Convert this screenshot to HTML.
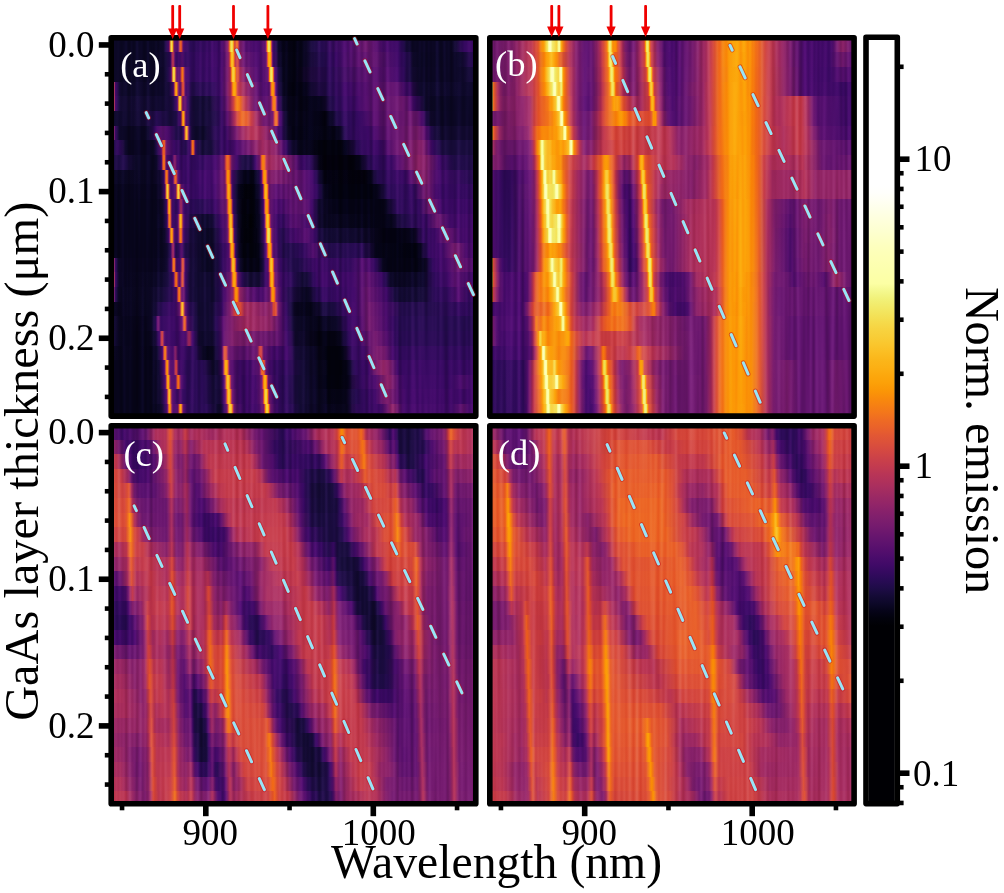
<!DOCTYPE html><html><head><meta charset="utf-8"><title>Figure</title><style>html,body{margin:0;padding:0;background:#fff;overflow:hidden}svg{display:block}</style></head><body><svg width="1004" height="893" viewBox="0 0 1004 893"><defs><linearGradient id="g1"><stop offset="0.0014" stop-color="#0a0722"/><stop offset="0.1125" stop-color="#0a0722"/><stop offset="0.1347" stop-color="#0c0826"/><stop offset="0.1431" stop-color="#120a32"/><stop offset="0.1486" stop-color="#1f0c48"/><stop offset="0.1569" stop-color="#4c0c6b"/><stop offset="0.1597" stop-color="#bc3754"/><stop offset="0.1625" stop-color="#f8cf3a"/><stop offset="0.1653" stop-color="#f3e55d"/><stop offset="0.1681" stop-color="#fb9d07"/><stop offset="0.1708" stop-color="#801f6c"/><stop offset="0.1736" stop-color="#59106e"/><stop offset="0.1819" stop-color="#520e6d"/><stop offset="0.1847" stop-color="#85216b"/><stop offset="0.1875" stop-color="#e65d2f"/><stop offset="0.1903" stop-color="#ee6a24"/><stop offset="0.1931" stop-color="#cf4446"/><stop offset="0.1958" stop-color="#5d126e"/><stop offset="0.1986" stop-color="#440a68"/><stop offset="0.2153" stop-color="#2b0b57"/><stop offset="0.2958" stop-color="#3b0964"/><stop offset="0.3069" stop-color="#520e6d"/><stop offset="0.3181" stop-color="#7f1e6c"/><stop offset="0.3208" stop-color="#a02a63"/><stop offset="0.3236" stop-color="#eb6628"/><stop offset="0.3264" stop-color="#f9c932"/><stop offset="0.3292" stop-color="#f3e55d"/><stop offset="0.3319" stop-color="#f4e156"/><stop offset="0.3347" stop-color="#fcac11"/><stop offset="0.3375" stop-color="#db503b"/><stop offset="0.3403" stop-color="#d84c3e"/><stop offset="0.3431" stop-color="#ed6925"/><stop offset="0.3458" stop-color="#ed6925"/><stop offset="0.3486" stop-color="#cf4446"/><stop offset="0.3514" stop-color="#902568"/><stop offset="0.3542" stop-color="#7d1e6d"/><stop offset="0.3681" stop-color="#540f6d"/><stop offset="0.3931" stop-color="#440a68"/><stop offset="0.4069" stop-color="#450a69"/><stop offset="0.4208" stop-color="#5d126e"/><stop offset="0.4236" stop-color="#6f196e"/><stop offset="0.4264" stop-color="#ca404a"/><stop offset="0.4292" stop-color="#fcb418"/><stop offset="0.4319" stop-color="#f3e55d"/><stop offset="0.4347" stop-color="#f3e55d"/><stop offset="0.4375" stop-color="#fcb216"/><stop offset="0.4403" stop-color="#bc3754"/><stop offset="0.4431" stop-color="#550f6d"/><stop offset="0.4458" stop-color="#3d0965"/><stop offset="0.4542" stop-color="#1b0c41"/><stop offset="0.4597" stop-color="#0d0829"/><stop offset="0.4681" stop-color="#060419"/><stop offset="0.5042" stop-color="#030210"/><stop offset="0.5292" stop-color="#09061f"/><stop offset="0.5542" stop-color="#1b0c41"/><stop offset="0.5819" stop-color="#290b55"/><stop offset="0.6486" stop-color="#4a0c6b"/><stop offset="0.7014" stop-color="#6c186e"/><stop offset="0.7458" stop-color="#4a0c6b"/><stop offset="0.7903" stop-color="#380962"/><stop offset="0.7986" stop-color="#2d0b59"/><stop offset="0.8125" stop-color="#150b37"/><stop offset="0.8292" stop-color="#0b0724"/><stop offset="0.9347" stop-color="#0b0724"/><stop offset="0.9486" stop-color="#140b34"/><stop offset="0.9708" stop-color="#360961"/><stop offset="0.9986" stop-color="#3b0964"/></linearGradient><linearGradient id="g2"><stop offset="0.0014" stop-color="#0a0722"/><stop offset="0.1153" stop-color="#0a0722"/><stop offset="0.1486" stop-color="#120a32"/><stop offset="0.1597" stop-color="#290b55"/><stop offset="0.1625" stop-color="#400a67"/><stop offset="0.1653" stop-color="#9a2865"/><stop offset="0.1681" stop-color="#bd3853"/><stop offset="0.1708" stop-color="#a92e5e"/><stop offset="0.1736" stop-color="#520e6d"/><stop offset="0.1764" stop-color="#360961"/><stop offset="0.1875" stop-color="#380962"/><stop offset="0.1903" stop-color="#510e6c"/><stop offset="0.1931" stop-color="#59106e"/><stop offset="0.2014" stop-color="#320a5e"/><stop offset="0.2097" stop-color="#2f0a5b"/><stop offset="0.2986" stop-color="#3d0965"/><stop offset="0.3097" stop-color="#550f6d"/><stop offset="0.3208" stop-color="#82206c"/><stop offset="0.3236" stop-color="#b1325a"/><stop offset="0.3264" stop-color="#f3761b"/><stop offset="0.3292" stop-color="#fbba1f"/><stop offset="0.3319" stop-color="#fac228"/><stop offset="0.3347" stop-color="#fcb418"/><stop offset="0.3375" stop-color="#ec6726"/><stop offset="0.3403" stop-color="#bd3853"/><stop offset="0.3458" stop-color="#d34743"/><stop offset="0.3486" stop-color="#ca404a"/><stop offset="0.3514" stop-color="#9d2964"/><stop offset="0.3542" stop-color="#85216b"/><stop offset="0.3653" stop-color="#65156e"/><stop offset="0.3986" stop-color="#4a0c6b"/><stop offset="0.4125" stop-color="#4c0c6b"/><stop offset="0.4236" stop-color="#5c126e"/><stop offset="0.4264" stop-color="#7c1d6d"/><stop offset="0.4292" stop-color="#de5238"/><stop offset="0.4319" stop-color="#fc9f07"/><stop offset="0.4347" stop-color="#fcae12"/><stop offset="0.4375" stop-color="#fb9d07"/><stop offset="0.4403" stop-color="#d94d3d"/><stop offset="0.4431" stop-color="#65156e"/><stop offset="0.4458" stop-color="#3d0965"/><stop offset="0.4597" stop-color="#10092d"/><stop offset="0.4708" stop-color="#07051b"/><stop offset="0.5042" stop-color="#040312"/><stop offset="0.5292" stop-color="#09061f"/><stop offset="0.5819" stop-color="#240c4f"/><stop offset="0.6153" stop-color="#360961"/><stop offset="0.6819" stop-color="#5d126e"/><stop offset="0.7153" stop-color="#64156e"/><stop offset="0.7931" stop-color="#390963"/><stop offset="0.8097" stop-color="#280b53"/><stop offset="0.8319" stop-color="#0e092b"/><stop offset="0.8542" stop-color="#0a0722"/><stop offset="0.9486" stop-color="#0b0724"/><stop offset="0.9625" stop-color="#0e092b"/><stop offset="0.9986" stop-color="#2b0b57"/></linearGradient><linearGradient id="g3"><stop offset="0.0014" stop-color="#0a0722"/><stop offset="0.1319" stop-color="#0b0724"/><stop offset="0.1486" stop-color="#120a32"/><stop offset="0.1542" stop-color="#1f0c48"/><stop offset="0.1625" stop-color="#4a0c6b"/><stop offset="0.1653" stop-color="#972766"/><stop offset="0.1681" stop-color="#fbbc21"/><stop offset="0.1708" stop-color="#f2e661"/><stop offset="0.1736" stop-color="#fbbc21"/><stop offset="0.1764" stop-color="#a52c60"/><stop offset="0.1792" stop-color="#64156e"/><stop offset="0.1875" stop-color="#62146e"/><stop offset="0.1903" stop-color="#c03a51"/><stop offset="0.1931" stop-color="#f57b17"/><stop offset="0.1958" stop-color="#f57b17"/><stop offset="0.1986" stop-color="#bd3853"/><stop offset="0.2014" stop-color="#5a116e"/><stop offset="0.2069" stop-color="#400a67"/><stop offset="0.2181" stop-color="#310a5c"/><stop offset="0.2931" stop-color="#390963"/><stop offset="0.3042" stop-color="#490b6a"/><stop offset="0.3181" stop-color="#771c6d"/><stop offset="0.3236" stop-color="#972766"/><stop offset="0.3264" stop-color="#bc3754"/><stop offset="0.3292" stop-color="#f37819"/><stop offset="0.3319" stop-color="#fac62d"/><stop offset="0.3347" stop-color="#f7d340"/><stop offset="0.3375" stop-color="#f9cb35"/><stop offset="0.3403" stop-color="#fa9008"/><stop offset="0.3431" stop-color="#e05536"/><stop offset="0.3486" stop-color="#dd513a"/><stop offset="0.3514" stop-color="#bd3853"/><stop offset="0.3542" stop-color="#a82e5f"/><stop offset="0.3681" stop-color="#771c6d"/><stop offset="0.3958" stop-color="#540f6d"/><stop offset="0.4125" stop-color="#4a0c6b"/><stop offset="0.4264" stop-color="#5d126e"/><stop offset="0.4292" stop-color="#67166e"/><stop offset="0.4319" stop-color="#a52c60"/><stop offset="0.4347" stop-color="#fa9008"/><stop offset="0.4375" stop-color="#f4dd4f"/><stop offset="0.4403" stop-color="#f2e661"/><stop offset="0.4431" stop-color="#f9c932"/><stop offset="0.4458" stop-color="#e05536"/><stop offset="0.4486" stop-color="#65156e"/><stop offset="0.4514" stop-color="#3e0966"/><stop offset="0.4569" stop-color="#260c51"/><stop offset="0.4653" stop-color="#0e092b"/><stop offset="0.4736" stop-color="#07051b"/><stop offset="0.5069" stop-color="#040312"/><stop offset="0.6042" stop-color="#2d0b59"/><stop offset="0.7014" stop-color="#5a116e"/><stop offset="0.7569" stop-color="#540f6d"/><stop offset="0.7903" stop-color="#400a67"/><stop offset="0.8042" stop-color="#310a5c"/><stop offset="0.8236" stop-color="#160b39"/><stop offset="0.8514" stop-color="#0b0724"/><stop offset="0.9569" stop-color="#0b0724"/><stop offset="0.9986" stop-color="#180c3c"/></linearGradient><linearGradient id="g4"><stop offset="0.0014" stop-color="#fac026"/><stop offset="0.0042" stop-color="#fcb216"/><stop offset="0.0069" stop-color="#ad305d"/><stop offset="0.0097" stop-color="#3b0964"/><stop offset="0.0208" stop-color="#120a32"/><stop offset="0.0292" stop-color="#0c0826"/><stop offset="0.1375" stop-color="#0d0829"/><stop offset="0.1569" stop-color="#180c3c"/><stop offset="0.1681" stop-color="#3d0965"/><stop offset="0.1708" stop-color="#5d126e"/><stop offset="0.1736" stop-color="#e65d2f"/><stop offset="0.1764" stop-color="#fcae12"/><stop offset="0.1792" stop-color="#fc9f07"/><stop offset="0.1819" stop-color="#b63458"/><stop offset="0.1847" stop-color="#61136e"/><stop offset="0.1875" stop-color="#5c126e"/><stop offset="0.1903" stop-color="#721a6e"/><stop offset="0.1931" stop-color="#d04545"/><stop offset="0.1958" stop-color="#e25734"/><stop offset="0.1986" stop-color="#cf4446"/><stop offset="0.2014" stop-color="#62146e"/><stop offset="0.2042" stop-color="#3e0966"/><stop offset="0.2208" stop-color="#230c4c"/><stop offset="0.2819" stop-color="#2d0b59"/><stop offset="0.3014" stop-color="#400a67"/><stop offset="0.3153" stop-color="#6f196e"/><stop offset="0.3264" stop-color="#ab2f5e"/><stop offset="0.3292" stop-color="#c83f4b"/><stop offset="0.3319" stop-color="#f1711f"/><stop offset="0.3347" stop-color="#fca50a"/><stop offset="0.3375" stop-color="#fcae12"/><stop offset="0.3403" stop-color="#fca50a"/><stop offset="0.3431" stop-color="#f2741c"/><stop offset="0.3458" stop-color="#d54a41"/><stop offset="0.3486" stop-color="#c33b4f"/><stop offset="0.3736" stop-color="#8c2369"/><stop offset="0.4014" stop-color="#5d126e"/><stop offset="0.4153" stop-color="#4f0d6c"/><stop offset="0.4292" stop-color="#520e6d"/><stop offset="0.4319" stop-color="#550f6d"/><stop offset="0.4347" stop-color="#69166e"/><stop offset="0.4375" stop-color="#bf3952"/><stop offset="0.4403" stop-color="#f67e14"/><stop offset="0.4431" stop-color="#fb9706"/><stop offset="0.4458" stop-color="#f98e09"/><stop offset="0.4486" stop-color="#dd513a"/><stop offset="0.4514" stop-color="#6a176e"/><stop offset="0.4542" stop-color="#390963"/><stop offset="0.4653" stop-color="#120a32"/><stop offset="0.4764" stop-color="#07051b"/><stop offset="0.4986" stop-color="#030210"/><stop offset="0.5347" stop-color="#060419"/><stop offset="0.6014" stop-color="#280b53"/><stop offset="0.6486" stop-color="#3d0965"/><stop offset="0.7181" stop-color="#59106e"/><stop offset="0.7736" stop-color="#61136e"/><stop offset="0.7903" stop-color="#5c126e"/><stop offset="0.8125" stop-color="#3d0965"/><stop offset="0.8486" stop-color="#0e092b"/><stop offset="0.9986" stop-color="#0d0829"/></linearGradient><linearGradient id="g5"><stop offset="0.0014" stop-color="#fac026"/><stop offset="0.0042" stop-color="#fcb418"/><stop offset="0.0069" stop-color="#b1325a"/><stop offset="0.0097" stop-color="#400a67"/><stop offset="0.0181" stop-color="#1e0c45"/><stop offset="0.0236" stop-color="#140b34"/><stop offset="0.0319" stop-color="#10092d"/><stop offset="0.1403" stop-color="#120a32"/><stop offset="0.1653" stop-color="#1b0c41"/><stop offset="0.1708" stop-color="#260c51"/><stop offset="0.1792" stop-color="#4a0c6b"/><stop offset="0.1819" stop-color="#751b6e"/><stop offset="0.1847" stop-color="#f98c0a"/><stop offset="0.1875" stop-color="#f7d340"/><stop offset="0.1903" stop-color="#fac026"/><stop offset="0.1931" stop-color="#b93556"/><stop offset="0.1958" stop-color="#5f136e"/><stop offset="0.2014" stop-color="#6d186e"/><stop offset="0.2042" stop-color="#64156e"/><stop offset="0.2069" stop-color="#3e0966"/><stop offset="0.2097" stop-color="#2d0b59"/><stop offset="0.2236" stop-color="#160b39"/><stop offset="0.2347" stop-color="#110a30"/><stop offset="0.2681" stop-color="#140b34"/><stop offset="0.3014" stop-color="#340a5f"/><stop offset="0.3153" stop-color="#62146e"/><stop offset="0.3236" stop-color="#8f2469"/><stop offset="0.3347" stop-color="#cb4149"/><stop offset="0.3403" stop-color="#ee6a24"/><stop offset="0.3458" stop-color="#f68013"/><stop offset="0.3514" stop-color="#f57b17"/><stop offset="0.3625" stop-color="#cf4446"/><stop offset="0.3792" stop-color="#9a2865"/><stop offset="0.3931" stop-color="#6f196e"/><stop offset="0.4153" stop-color="#59106e"/><stop offset="0.4264" stop-color="#5d126e"/><stop offset="0.4375" stop-color="#6f196e"/><stop offset="0.4403" stop-color="#a52c60"/><stop offset="0.4431" stop-color="#e75e2e"/><stop offset="0.4458" stop-color="#f67e14"/><stop offset="0.4486" stop-color="#f67e14"/><stop offset="0.4514" stop-color="#e55c30"/><stop offset="0.4542" stop-color="#902568"/><stop offset="0.4569" stop-color="#4d0d6c"/><stop offset="0.4597" stop-color="#390963"/><stop offset="0.4708" stop-color="#140b34"/><stop offset="0.4819" stop-color="#08051d"/><stop offset="0.5292" stop-color="#040312"/><stop offset="0.5764" stop-color="#060419"/><stop offset="0.6042" stop-color="#210c4a"/><stop offset="0.6236" stop-color="#2f0a5b"/><stop offset="0.6736" stop-color="#400a67"/><stop offset="0.7014" stop-color="#550f6d"/><stop offset="0.7986" stop-color="#6d186e"/><stop offset="0.8153" stop-color="#61136e"/><stop offset="0.8347" stop-color="#3d0965"/><stop offset="0.8625" stop-color="#0e092b"/><stop offset="0.8903" stop-color="#0a0722"/><stop offset="0.9986" stop-color="#0b0724"/></linearGradient><linearGradient id="g6"><stop offset="0.0014" stop-color="#0e092b"/><stop offset="0.0819" stop-color="#10092d"/><stop offset="0.1236" stop-color="#260c51"/><stop offset="0.1597" stop-color="#180c3c"/><stop offset="0.1764" stop-color="#1c0c43"/><stop offset="0.1875" stop-color="#3d0965"/><stop offset="0.1903" stop-color="#5a116e"/><stop offset="0.1931" stop-color="#e55c30"/><stop offset="0.1958" stop-color="#fcae12"/><stop offset="0.1986" stop-color="#fc9f07"/><stop offset="0.2014" stop-color="#ad305d"/><stop offset="0.2042" stop-color="#490b6a"/><stop offset="0.2153" stop-color="#1f0c48"/><stop offset="0.2319" stop-color="#120a32"/><stop offset="0.2569" stop-color="#120a32"/><stop offset="0.2847" stop-color="#1e0c45"/><stop offset="0.3042" stop-color="#340a5f"/><stop offset="0.3181" stop-color="#5a116e"/><stop offset="0.3292" stop-color="#84206b"/><stop offset="0.3403" stop-color="#b93556"/><stop offset="0.3458" stop-color="#d84c3e"/><stop offset="0.3569" stop-color="#ee6a24"/><stop offset="0.3736" stop-color="#e65d2f"/><stop offset="0.3847" stop-color="#ca404a"/><stop offset="0.3986" stop-color="#a32c61"/><stop offset="0.4181" stop-color="#6f196e"/><stop offset="0.4403" stop-color="#6a176e"/><stop offset="0.4431" stop-color="#71196e"/><stop offset="0.4458" stop-color="#9f2a63"/><stop offset="0.4486" stop-color="#de5238"/><stop offset="0.4514" stop-color="#ed6925"/><stop offset="0.4542" stop-color="#ed6925"/><stop offset="0.4569" stop-color="#db503b"/><stop offset="0.4597" stop-color="#8d2369"/><stop offset="0.4625" stop-color="#540f6d"/><stop offset="0.4653" stop-color="#420a68"/><stop offset="0.4792" stop-color="#110a30"/><stop offset="0.4903" stop-color="#07051b"/><stop offset="0.5875" stop-color="#030210"/><stop offset="0.6069" stop-color="#0d0829"/><stop offset="0.6236" stop-color="#240c4f"/><stop offset="0.6347" stop-color="#2b0b57"/><stop offset="0.6847" stop-color="#360961"/><stop offset="0.7236" stop-color="#59106e"/><stop offset="0.8264" stop-color="#6d186e"/><stop offset="0.8431" stop-color="#65156e"/><stop offset="0.8542" stop-color="#4c0c6b"/><stop offset="0.8681" stop-color="#210c4a"/><stop offset="0.8792" stop-color="#10092d"/><stop offset="0.8958" stop-color="#0b0724"/><stop offset="0.9986" stop-color="#0b0724"/></linearGradient><linearGradient id="g7"><stop offset="0.0014" stop-color="#ed6925"/><stop offset="0.0042" stop-color="#e8602d"/><stop offset="0.0069" stop-color="#7a1d6d"/><stop offset="0.0097" stop-color="#310a5c"/><stop offset="0.0208" stop-color="#0e092b"/><stop offset="0.0319" stop-color="#09061f"/><stop offset="0.0847" stop-color="#09061f"/><stop offset="0.1014" stop-color="#0e092b"/><stop offset="0.1181" stop-color="#360961"/><stop offset="0.1264" stop-color="#4d0d6c"/><stop offset="0.1375" stop-color="#5a116e"/><stop offset="0.1597" stop-color="#470b6a"/><stop offset="0.1764" stop-color="#210c4a"/><stop offset="0.1875" stop-color="#1f0c48"/><stop offset="0.1931" stop-color="#2b0b57"/><stop offset="0.1986" stop-color="#490b6a"/><stop offset="0.2014" stop-color="#d54a41"/><stop offset="0.2042" stop-color="#fbbc21"/><stop offset="0.2069" stop-color="#fbbc21"/><stop offset="0.2097" stop-color="#d44842"/><stop offset="0.2125" stop-color="#440a68"/><stop offset="0.2208" stop-color="#190c3e"/><stop offset="0.2319" stop-color="#0c0826"/><stop offset="0.2569" stop-color="#0c0826"/><stop offset="0.2875" stop-color="#280b53"/><stop offset="0.3125" stop-color="#390963"/><stop offset="0.3403" stop-color="#6f196e"/><stop offset="0.3569" stop-color="#9a2865"/><stop offset="0.3819" stop-color="#b73557"/><stop offset="0.3986" stop-color="#b43359"/><stop offset="0.4181" stop-color="#9d2964"/><stop offset="0.4347" stop-color="#82206c"/><stop offset="0.4542" stop-color="#510e6c"/><stop offset="0.4653" stop-color="#320a5e"/><stop offset="0.4819" stop-color="#10092d"/><stop offset="0.4986" stop-color="#050417"/><stop offset="0.6153" stop-color="#040312"/><stop offset="0.6264" stop-color="#0a0722"/><stop offset="0.6431" stop-color="#240c4f"/><stop offset="0.6569" stop-color="#310a5c"/><stop offset="0.7069" stop-color="#3b0964"/><stop offset="0.7403" stop-color="#550f6d"/><stop offset="0.8431" stop-color="#7a1d6d"/><stop offset="0.8569" stop-color="#6d186e"/><stop offset="0.8681" stop-color="#4c0c6b"/><stop offset="0.8819" stop-color="#240c4f"/><stop offset="0.8931" stop-color="#150b37"/><stop offset="0.9069" stop-color="#10092d"/><stop offset="0.9986" stop-color="#10092d"/></linearGradient><linearGradient id="g8"><stop offset="0.0014" stop-color="#1f0c48"/><stop offset="0.0181" stop-color="#310a5c"/><stop offset="0.0375" stop-color="#0d0829"/><stop offset="0.0514" stop-color="#08051d"/><stop offset="0.1014" stop-color="#08051d"/><stop offset="0.1153" stop-color="#0e092b"/><stop offset="0.1236" stop-color="#230c4c"/><stop offset="0.1347" stop-color="#520e6d"/><stop offset="0.1375" stop-color="#7c1d6d"/><stop offset="0.1403" stop-color="#e05536"/><stop offset="0.1431" stop-color="#ee6a24"/><stop offset="0.1458" stop-color="#e05536"/><stop offset="0.1486" stop-color="#87216b"/><stop offset="0.1514" stop-color="#62146e"/><stop offset="0.1708" stop-color="#3b0964"/><stop offset="0.2042" stop-color="#230c4c"/><stop offset="0.2153" stop-color="#3b0964"/><stop offset="0.2181" stop-color="#7d1e6d"/><stop offset="0.2208" stop-color="#ef6c23"/><stop offset="0.2236" stop-color="#f68013"/><stop offset="0.2264" stop-color="#d84c3e"/><stop offset="0.2292" stop-color="#4f0d6c"/><stop offset="0.2319" stop-color="#310a5c"/><stop offset="0.2375" stop-color="#1f0c48"/><stop offset="0.2486" stop-color="#120a32"/><stop offset="0.2736" stop-color="#150b37"/><stop offset="0.3014" stop-color="#310a5c"/><stop offset="0.3153" stop-color="#3b0964"/><stop offset="0.3431" stop-color="#470b6a"/><stop offset="0.3792" stop-color="#741a6e"/><stop offset="0.4153" stop-color="#a22b62"/><stop offset="0.4514" stop-color="#8d2369"/><stop offset="0.4736" stop-color="#4d0d6c"/><stop offset="0.4847" stop-color="#2d0b59"/><stop offset="0.4958" stop-color="#150b37"/><stop offset="0.5125" stop-color="#09061f"/><stop offset="0.5708" stop-color="#02020c"/><stop offset="0.6236" stop-color="#02020c"/><stop offset="0.6458" stop-color="#050417"/><stop offset="0.6764" stop-color="#280b53"/><stop offset="0.6931" stop-color="#340a5f"/><stop offset="0.7431" stop-color="#3e0966"/><stop offset="0.7847" stop-color="#69166e"/><stop offset="0.8458" stop-color="#87216b"/><stop offset="0.8569" stop-color="#84206b"/><stop offset="0.8736" stop-color="#59106e"/><stop offset="0.8847" stop-color="#380962"/><stop offset="0.8986" stop-color="#230c4c"/><stop offset="0.9208" stop-color="#180c3c"/><stop offset="0.9986" stop-color="#180c3c"/></linearGradient><linearGradient id="g9"><stop offset="0.0014" stop-color="#1b0c41"/><stop offset="0.0347" stop-color="#1f0c48"/><stop offset="0.0653" stop-color="#0a0722"/><stop offset="0.1153" stop-color="#0a0722"/><stop offset="0.1236" stop-color="#0e092b"/><stop offset="0.1347" stop-color="#310a5c"/><stop offset="0.1375" stop-color="#57106e"/><stop offset="0.1403" stop-color="#e05536"/><stop offset="0.1431" stop-color="#f68013"/><stop offset="0.1458" stop-color="#eb6628"/><stop offset="0.1486" stop-color="#771c6d"/><stop offset="0.1514" stop-color="#440a68"/><stop offset="0.1597" stop-color="#380962"/><stop offset="0.1653" stop-color="#3b0964"/><stop offset="0.1681" stop-color="#4a0c6b"/><stop offset="0.1708" stop-color="#771c6d"/><stop offset="0.1736" stop-color="#88226a"/><stop offset="0.1764" stop-color="#781c6d"/><stop offset="0.1792" stop-color="#4c0c6b"/><stop offset="0.1847" stop-color="#390963"/><stop offset="0.2458" stop-color="#2f0a5b"/><stop offset="0.2875" stop-color="#400a67"/><stop offset="0.3069" stop-color="#64156e"/><stop offset="0.3097" stop-color="#7d1e6d"/><stop offset="0.3125" stop-color="#bc3754"/><stop offset="0.3153" stop-color="#e55c30"/><stop offset="0.3181" stop-color="#ee6a24"/><stop offset="0.3208" stop-color="#ee6a24"/><stop offset="0.3236" stop-color="#e55c30"/><stop offset="0.3264" stop-color="#bf3952"/><stop offset="0.3292" stop-color="#84206b"/><stop offset="0.3319" stop-color="#69166e"/><stop offset="0.3431" stop-color="#3d0965"/><stop offset="0.3597" stop-color="#190c3e"/><stop offset="0.3819" stop-color="#1b0c41"/><stop offset="0.3958" stop-color="#360961"/><stop offset="0.4069" stop-color="#71196e"/><stop offset="0.4097" stop-color="#a52c60"/><stop offset="0.4125" stop-color="#e55c30"/><stop offset="0.4153" stop-color="#f57d15"/><stop offset="0.4181" stop-color="#f68013"/><stop offset="0.4208" stop-color="#f06f20"/><stop offset="0.4236" stop-color="#d54a41"/><stop offset="0.4264" stop-color="#b3325a"/><stop offset="0.4292" stop-color="#a92e5e"/><stop offset="0.4736" stop-color="#8d2369"/><stop offset="0.5014" stop-color="#65156e"/><stop offset="0.5208" stop-color="#3e0966"/><stop offset="0.5458" stop-color="#2b0b57"/><stop offset="0.5736" stop-color="#040312"/><stop offset="0.5847" stop-color="#02010a"/><stop offset="0.6597" stop-color="#02010a"/><stop offset="0.6847" stop-color="#060419"/><stop offset="0.7097" stop-color="#280b53"/><stop offset="0.7181" stop-color="#2f0a5b"/><stop offset="0.7708" stop-color="#390963"/><stop offset="0.7958" stop-color="#5d126e"/><stop offset="0.8458" stop-color="#902568"/><stop offset="0.8653" stop-color="#87216b"/><stop offset="0.9014" stop-color="#3d0965"/><stop offset="0.9431" stop-color="#210c4a"/><stop offset="0.9986" stop-color="#1e0c45"/></linearGradient><linearGradient id="g10"><stop offset="0.0014" stop-color="#0a0722"/><stop offset="0.1097" stop-color="#09061f"/><stop offset="0.1319" stop-color="#10092d"/><stop offset="0.1431" stop-color="#320a5e"/><stop offset="0.1458" stop-color="#781c6d"/><stop offset="0.1486" stop-color="#ef6c23"/><stop offset="0.1514" stop-color="#f68013"/><stop offset="0.1542" stop-color="#d94d3d"/><stop offset="0.1569" stop-color="#5c126e"/><stop offset="0.1597" stop-color="#440a68"/><stop offset="0.1681" stop-color="#4d0d6c"/><stop offset="0.1708" stop-color="#902568"/><stop offset="0.1736" stop-color="#e9612b"/><stop offset="0.1764" stop-color="#ee6a24"/><stop offset="0.1792" stop-color="#c63d4d"/><stop offset="0.1819" stop-color="#5d126e"/><stop offset="0.1847" stop-color="#490b6a"/><stop offset="0.1958" stop-color="#380962"/><stop offset="0.2069" stop-color="#360961"/><stop offset="0.2736" stop-color="#3e0966"/><stop offset="0.2903" stop-color="#4d0d6c"/><stop offset="0.3097" stop-color="#721a6e"/><stop offset="0.3125" stop-color="#8f2469"/><stop offset="0.3153" stop-color="#db503b"/><stop offset="0.3181" stop-color="#f8890c"/><stop offset="0.3208" stop-color="#fb9706"/><stop offset="0.3236" stop-color="#f8890c"/><stop offset="0.3264" stop-color="#d44842"/><stop offset="0.3292" stop-color="#6c186e"/><stop offset="0.3319" stop-color="#450a69"/><stop offset="0.3458" stop-color="#140b34"/><stop offset="0.3625" stop-color="#040314"/><stop offset="0.3903" stop-color="#040314"/><stop offset="0.3986" stop-color="#0c0826"/><stop offset="0.4042" stop-color="#1c0c43"/><stop offset="0.4097" stop-color="#380962"/><stop offset="0.4125" stop-color="#5d126e"/><stop offset="0.4153" stop-color="#c73e4c"/><stop offset="0.4181" stop-color="#f78410"/><stop offset="0.4208" stop-color="#fb9706"/><stop offset="0.4236" stop-color="#f98c0a"/><stop offset="0.4264" stop-color="#e35933"/><stop offset="0.4292" stop-color="#a32c61"/><stop offset="0.4319" stop-color="#87216b"/><stop offset="0.5292" stop-color="#59106e"/><stop offset="0.5514" stop-color="#420a68"/><stop offset="0.5625" stop-color="#2d0b59"/><stop offset="0.5764" stop-color="#0c0826"/><stop offset="0.5875" stop-color="#030210"/><stop offset="0.6958" stop-color="#02010a"/><stop offset="0.7125" stop-color="#050417"/><stop offset="0.7319" stop-color="#230c4c"/><stop offset="0.7403" stop-color="#2d0b59"/><stop offset="0.8097" stop-color="#390963"/><stop offset="0.8319" stop-color="#61136e"/><stop offset="0.8542" stop-color="#88226a"/><stop offset="0.8653" stop-color="#82206c"/><stop offset="0.8903" stop-color="#510e6c"/><stop offset="0.9042" stop-color="#400a67"/><stop offset="0.9986" stop-color="#260c51"/></linearGradient><linearGradient id="g11"><stop offset="0.0014" stop-color="#07051b"/><stop offset="0.1208" stop-color="#08051d"/><stop offset="0.1347" stop-color="#10092d"/><stop offset="0.1458" stop-color="#400a67"/><stop offset="0.1486" stop-color="#bd3853"/><stop offset="0.1514" stop-color="#fac42a"/><stop offset="0.1542" stop-color="#f7d340"/><stop offset="0.1569" stop-color="#f37819"/><stop offset="0.1597" stop-color="#69166e"/><stop offset="0.1625" stop-color="#4a0c6b"/><stop offset="0.1708" stop-color="#4a0c6b"/><stop offset="0.1764" stop-color="#6a176e"/><stop offset="0.1792" stop-color="#e75e2e"/><stop offset="0.1819" stop-color="#f8cf3a"/><stop offset="0.1847" stop-color="#f8cf3a"/><stop offset="0.1875" stop-color="#e9612b"/><stop offset="0.1903" stop-color="#71196e"/><stop offset="0.1931" stop-color="#5a116e"/><stop offset="0.2014" stop-color="#3e0966"/><stop offset="0.2319" stop-color="#360961"/><stop offset="0.2847" stop-color="#400a67"/><stop offset="0.3125" stop-color="#741a6e"/><stop offset="0.3153" stop-color="#ae305c"/><stop offset="0.3181" stop-color="#f37819"/><stop offset="0.3208" stop-color="#fcac11"/><stop offset="0.3236" stop-color="#fcae12"/><stop offset="0.3264" stop-color="#f78410"/><stop offset="0.3292" stop-color="#ab2f5e"/><stop offset="0.3319" stop-color="#4d0d6c"/><stop offset="0.3347" stop-color="#340a5f"/><stop offset="0.3431" stop-color="#110a30"/><stop offset="0.3486" stop-color="#07051b"/><stop offset="0.3569" stop-color="#02020e"/><stop offset="0.3736" stop-color="#010106"/><stop offset="0.3931" stop-color="#02020e"/><stop offset="0.4014" stop-color="#0a0722"/><stop offset="0.4069" stop-color="#180c3c"/><stop offset="0.4125" stop-color="#310a5c"/><stop offset="0.4153" stop-color="#4a0c6b"/><stop offset="0.4181" stop-color="#a92e5e"/><stop offset="0.4208" stop-color="#f78410"/><stop offset="0.4236" stop-color="#fcae12"/><stop offset="0.4264" stop-color="#fcac11"/><stop offset="0.4292" stop-color="#f37819"/><stop offset="0.4319" stop-color="#ad305d"/><stop offset="0.4347" stop-color="#71196e"/><stop offset="0.4375" stop-color="#67166e"/><stop offset="0.4542" stop-color="#57106e"/><stop offset="0.4931" stop-color="#61136e"/><stop offset="0.5264" stop-color="#5a116e"/><stop offset="0.5597" stop-color="#3b0964"/><stop offset="0.5708" stop-color="#280b53"/><stop offset="0.5819" stop-color="#0d0829"/><stop offset="0.5903" stop-color="#060419"/><stop offset="0.6097" stop-color="#02020e"/><stop offset="0.7153" stop-color="#02020e"/><stop offset="0.7319" stop-color="#060419"/><stop offset="0.7514" stop-color="#210c4a"/><stop offset="0.7653" stop-color="#2d0b59"/><stop offset="0.8347" stop-color="#340a5f"/><stop offset="0.8653" stop-color="#741a6e"/><stop offset="0.8764" stop-color="#6a176e"/><stop offset="0.8931" stop-color="#440a68"/><stop offset="0.9069" stop-color="#380962"/><stop offset="0.9986" stop-color="#310a5c"/></linearGradient><linearGradient id="g12"><stop offset="0.0014" stop-color="#07051b"/><stop offset="0.1153" stop-color="#07051b"/><stop offset="0.1319" stop-color="#09061f"/><stop offset="0.1403" stop-color="#10092d"/><stop offset="0.1486" stop-color="#2d0b59"/><stop offset="0.1514" stop-color="#400a67"/><stop offset="0.1542" stop-color="#ca404a"/><stop offset="0.1569" stop-color="#fca80d"/><stop offset="0.1597" stop-color="#fca80d"/><stop offset="0.1625" stop-color="#cc4248"/><stop offset="0.1653" stop-color="#4d0d6c"/><stop offset="0.1681" stop-color="#3b0964"/><stop offset="0.1736" stop-color="#310a5c"/><stop offset="0.1819" stop-color="#360961"/><stop offset="0.1847" stop-color="#470b6a"/><stop offset="0.1875" stop-color="#87216b"/><stop offset="0.1903" stop-color="#a32c61"/><stop offset="0.1931" stop-color="#932667"/><stop offset="0.1958" stop-color="#540f6d"/><stop offset="0.1986" stop-color="#3b0964"/><stop offset="0.2097" stop-color="#2f0a5b"/><stop offset="0.2458" stop-color="#260c51"/><stop offset="0.2875" stop-color="#380962"/><stop offset="0.3153" stop-color="#6d186e"/><stop offset="0.3181" stop-color="#b3325a"/><stop offset="0.3208" stop-color="#f67e14"/><stop offset="0.3236" stop-color="#fcac11"/><stop offset="0.3264" stop-color="#fcac11"/><stop offset="0.3292" stop-color="#f47918"/><stop offset="0.3319" stop-color="#952667"/><stop offset="0.3347" stop-color="#400a67"/><stop offset="0.3375" stop-color="#2b0b57"/><stop offset="0.3458" stop-color="#0c0826"/><stop offset="0.3597" stop-color="#02010a"/><stop offset="0.3931" stop-color="#02020c"/><stop offset="0.4014" stop-color="#060419"/><stop offset="0.4097" stop-color="#180c3c"/><stop offset="0.4153" stop-color="#320a5e"/><stop offset="0.4181" stop-color="#4c0c6b"/><stop offset="0.4208" stop-color="#a92e5e"/><stop offset="0.4236" stop-color="#f37819"/><stop offset="0.4264" stop-color="#fb9606"/><stop offset="0.4292" stop-color="#fa9207"/><stop offset="0.4319" stop-color="#e75e2e"/><stop offset="0.4347" stop-color="#922568"/><stop offset="0.4375" stop-color="#62146e"/><stop offset="0.4486" stop-color="#4c0c6b"/><stop offset="0.4653" stop-color="#440a68"/><stop offset="0.4958" stop-color="#5d126e"/><stop offset="0.5292" stop-color="#5f136e"/><stop offset="0.5403" stop-color="#550f6d"/><stop offset="0.5514" stop-color="#3d0965"/><stop offset="0.5708" stop-color="#110a30"/><stop offset="0.5931" stop-color="#08051d"/><stop offset="0.6153" stop-color="#040314"/><stop offset="0.7403" stop-color="#040314"/><stop offset="0.7569" stop-color="#09061f"/><stop offset="0.7875" stop-color="#2d0b59"/><stop offset="0.8486" stop-color="#340a5f"/><stop offset="0.8792" stop-color="#71196e"/><stop offset="0.8903" stop-color="#64156e"/><stop offset="0.9042" stop-color="#440a68"/><stop offset="0.9153" stop-color="#3b0964"/><stop offset="0.9986" stop-color="#390963"/></linearGradient><linearGradient id="g13"><stop offset="0.0014" stop-color="#07051b"/><stop offset="0.1181" stop-color="#07051b"/><stop offset="0.1403" stop-color="#0d0829"/><stop offset="0.1514" stop-color="#2f0a5b"/><stop offset="0.1542" stop-color="#751b6e"/><stop offset="0.1569" stop-color="#ef6c23"/><stop offset="0.1597" stop-color="#f68013"/><stop offset="0.1625" stop-color="#d84c3e"/><stop offset="0.1653" stop-color="#520e6d"/><stop offset="0.1681" stop-color="#390963"/><stop offset="0.1736" stop-color="#360961"/><stop offset="0.1819" stop-color="#510e6c"/><stop offset="0.1847" stop-color="#ad305d"/><stop offset="0.1875" stop-color="#fcae12"/><stop offset="0.1903" stop-color="#fac228"/><stop offset="0.1931" stop-color="#f57d15"/><stop offset="0.1958" stop-color="#741a6e"/><stop offset="0.1986" stop-color="#4d0d6c"/><stop offset="0.2014" stop-color="#400a67"/><stop offset="0.2153" stop-color="#230c4c"/><stop offset="0.2514" stop-color="#0e092b"/><stop offset="0.2653" stop-color="#0e092b"/><stop offset="0.2819" stop-color="#1b0c41"/><stop offset="0.2986" stop-color="#380962"/><stop offset="0.3153" stop-color="#5a116e"/><stop offset="0.3181" stop-color="#6a176e"/><stop offset="0.3208" stop-color="#c03a51"/><stop offset="0.3236" stop-color="#fb9706"/><stop offset="0.3264" stop-color="#fac026"/><stop offset="0.3292" stop-color="#fbbe23"/><stop offset="0.3319" stop-color="#f67e14"/><stop offset="0.3347" stop-color="#8c2369"/><stop offset="0.3375" stop-color="#3b0964"/><stop offset="0.3403" stop-color="#280b53"/><stop offset="0.3486" stop-color="#0b0724"/><stop offset="0.3597" stop-color="#02020c"/><stop offset="0.3819" stop-color="#010106"/><stop offset="0.3958" stop-color="#02020e"/><stop offset="0.4069" stop-color="#0c0826"/><stop offset="0.4125" stop-color="#1e0c45"/><stop offset="0.4181" stop-color="#390963"/><stop offset="0.4208" stop-color="#5c126e"/><stop offset="0.4236" stop-color="#cf4446"/><stop offset="0.4264" stop-color="#fca60c"/><stop offset="0.4292" stop-color="#fac228"/><stop offset="0.4319" stop-color="#fbba1f"/><stop offset="0.4347" stop-color="#f1711f"/><stop offset="0.4375" stop-color="#932667"/><stop offset="0.4403" stop-color="#5d126e"/><stop offset="0.4542" stop-color="#390963"/><stop offset="0.4708" stop-color="#340a5f"/><stop offset="0.4986" stop-color="#550f6d"/><stop offset="0.5153" stop-color="#57106e"/><stop offset="0.5514" stop-color="#380962"/><stop offset="0.5736" stop-color="#10092d"/><stop offset="0.5875" stop-color="#09061f"/><stop offset="0.7347" stop-color="#040314"/><stop offset="0.7708" stop-color="#07051b"/><stop offset="0.8042" stop-color="#210c4a"/><stop offset="0.8681" stop-color="#380962"/><stop offset="0.8986" stop-color="#6c186e"/><stop offset="0.9319" stop-color="#420a68"/><stop offset="0.9986" stop-color="#400a67"/></linearGradient><linearGradient id="g14"><stop offset="0.0014" stop-color="#07051b"/><stop offset="0.1181" stop-color="#07051b"/><stop offset="0.1375" stop-color="#09061f"/><stop offset="0.1458" stop-color="#10092d"/><stop offset="0.1569" stop-color="#380962"/><stop offset="0.1597" stop-color="#8f2469"/><stop offset="0.1625" stop-color="#fb9606"/><stop offset="0.1653" stop-color="#fcae12"/><stop offset="0.1681" stop-color="#ec6726"/><stop offset="0.1708" stop-color="#65156e"/><stop offset="0.1736" stop-color="#470b6a"/><stop offset="0.1819" stop-color="#490b6a"/><stop offset="0.1847" stop-color="#88226a"/><stop offset="0.1875" stop-color="#ef6e21"/><stop offset="0.1903" stop-color="#f68013"/><stop offset="0.1931" stop-color="#da4e3c"/><stop offset="0.1958" stop-color="#5a116e"/><stop offset="0.1986" stop-color="#3b0964"/><stop offset="0.2153" stop-color="#1b0c41"/><stop offset="0.2486" stop-color="#0c0826"/><stop offset="0.2681" stop-color="#0a0722"/><stop offset="0.2847" stop-color="#140b34"/><stop offset="0.3014" stop-color="#320a5e"/><stop offset="0.3181" stop-color="#5f136e"/><stop offset="0.3208" stop-color="#972766"/><stop offset="0.3236" stop-color="#f57d15"/><stop offset="0.3264" stop-color="#f9cb35"/><stop offset="0.3292" stop-color="#f7d340"/><stop offset="0.3319" stop-color="#fbb81d"/><stop offset="0.3347" stop-color="#d34743"/><stop offset="0.3375" stop-color="#510e6c"/><stop offset="0.3403" stop-color="#2d0b59"/><stop offset="0.3458" stop-color="#140b34"/><stop offset="0.3569" stop-color="#030210"/><stop offset="0.3736" stop-color="#010106"/><stop offset="0.3986" stop-color="#030210"/><stop offset="0.4097" stop-color="#110a30"/><stop offset="0.4208" stop-color="#470b6a"/><stop offset="0.4236" stop-color="#741a6e"/><stop offset="0.4264" stop-color="#eb6429"/><stop offset="0.4292" stop-color="#f7d13d"/><stop offset="0.4319" stop-color="#f2e661"/><stop offset="0.4347" stop-color="#f5db4c"/><stop offset="0.4375" stop-color="#f78410"/><stop offset="0.4403" stop-color="#9a2865"/><stop offset="0.4431" stop-color="#62146e"/><stop offset="0.4542" stop-color="#390963"/><stop offset="0.4681" stop-color="#260c51"/><stop offset="0.5042" stop-color="#440a68"/><stop offset="0.5375" stop-color="#550f6d"/><stop offset="0.5597" stop-color="#380962"/><stop offset="0.5736" stop-color="#1c0c43"/><stop offset="0.5875" stop-color="#120a32"/><stop offset="0.6764" stop-color="#10092d"/><stop offset="0.7514" stop-color="#030210"/><stop offset="0.7847" stop-color="#030210"/><stop offset="0.8319" stop-color="#08051d"/><stop offset="0.8597" stop-color="#320a5e"/><stop offset="0.8931" stop-color="#3d0965"/><stop offset="0.9236" stop-color="#69166e"/><stop offset="0.9597" stop-color="#440a68"/><stop offset="0.9986" stop-color="#420a68"/></linearGradient><linearGradient id="g15"><stop offset="0.0014" stop-color="#07051b"/><stop offset="0.1181" stop-color="#07051b"/><stop offset="0.1403" stop-color="#09061f"/><stop offset="0.1514" stop-color="#10092d"/><stop offset="0.1597" stop-color="#1f0c48"/><stop offset="0.1625" stop-color="#340a5f"/><stop offset="0.1653" stop-color="#801f6c"/><stop offset="0.1681" stop-color="#a32c61"/><stop offset="0.1708" stop-color="#8f2469"/><stop offset="0.1736" stop-color="#420a68"/><stop offset="0.1764" stop-color="#2b0b57"/><stop offset="0.1847" stop-color="#290b55"/><stop offset="0.1903" stop-color="#57106e"/><stop offset="0.1931" stop-color="#57106e"/><stop offset="0.1986" stop-color="#260c51"/><stop offset="0.2042" stop-color="#1e0c45"/><stop offset="0.2542" stop-color="#0a0722"/><stop offset="0.2792" stop-color="#0d0829"/><stop offset="0.3069" stop-color="#310a5c"/><stop offset="0.3208" stop-color="#490b6a"/><stop offset="0.3236" stop-color="#71196e"/><stop offset="0.3264" stop-color="#df5337"/><stop offset="0.3292" stop-color="#fca108"/><stop offset="0.3319" stop-color="#fcae12"/><stop offset="0.3347" stop-color="#fb9606"/><stop offset="0.3375" stop-color="#c13a50"/><stop offset="0.3403" stop-color="#450a69"/><stop offset="0.3431" stop-color="#230c4c"/><stop offset="0.3514" stop-color="#0a0722"/><stop offset="0.3625" stop-color="#02020c"/><stop offset="0.3958" stop-color="#02020c"/><stop offset="0.4042" stop-color="#050417"/><stop offset="0.4125" stop-color="#120a32"/><stop offset="0.4236" stop-color="#420a68"/><stop offset="0.4264" stop-color="#6c186e"/><stop offset="0.4292" stop-color="#da4e3c"/><stop offset="0.4319" stop-color="#fb9d07"/><stop offset="0.4347" stop-color="#fcae12"/><stop offset="0.4375" stop-color="#fc9f07"/><stop offset="0.4403" stop-color="#de5238"/><stop offset="0.4431" stop-color="#771c6d"/><stop offset="0.4458" stop-color="#550f6d"/><stop offset="0.4597" stop-color="#310a5c"/><stop offset="0.4736" stop-color="#230c4c"/><stop offset="0.4903" stop-color="#210c4a"/><stop offset="0.5292" stop-color="#310a5c"/><stop offset="0.5569" stop-color="#510e6c"/><stop offset="0.5819" stop-color="#2b0b57"/><stop offset="0.5958" stop-color="#230c4c"/><stop offset="0.6875" stop-color="#290b55"/><stop offset="0.7292" stop-color="#050417"/><stop offset="0.8347" stop-color="#02020e"/><stop offset="0.8514" stop-color="#08051d"/><stop offset="0.8681" stop-color="#2b0b57"/><stop offset="0.8764" stop-color="#380962"/><stop offset="0.9125" stop-color="#420a68"/><stop offset="0.9431" stop-color="#751b6e"/><stop offset="0.9569" stop-color="#6c186e"/><stop offset="0.9764" stop-color="#4c0c6b"/><stop offset="0.9986" stop-color="#450a69"/></linearGradient><linearGradient id="g16"><stop offset="0.0014" stop-color="#fb9606"/><stop offset="0.0042" stop-color="#f8850f"/><stop offset="0.0069" stop-color="#8a226a"/><stop offset="0.0097" stop-color="#2d0b59"/><stop offset="0.0181" stop-color="#10092d"/><stop offset="0.0292" stop-color="#08051d"/><stop offset="0.1153" stop-color="#08051d"/><stop offset="0.1431" stop-color="#0b0724"/><stop offset="0.1514" stop-color="#110a30"/><stop offset="0.1625" stop-color="#320a5e"/><stop offset="0.1653" stop-color="#61136e"/><stop offset="0.1681" stop-color="#e65d2f"/><stop offset="0.1708" stop-color="#f68013"/><stop offset="0.1736" stop-color="#e75e2e"/><stop offset="0.1764" stop-color="#6a176e"/><stop offset="0.1792" stop-color="#400a67"/><stop offset="0.1875" stop-color="#3e0966"/><stop offset="0.1903" stop-color="#67166e"/><stop offset="0.1931" stop-color="#d44842"/><stop offset="0.1958" stop-color="#e25734"/><stop offset="0.1986" stop-color="#c43c4e"/><stop offset="0.2014" stop-color="#520e6d"/><stop offset="0.2042" stop-color="#340a5f"/><stop offset="0.2181" stop-color="#180c3c"/><stop offset="0.2569" stop-color="#0a0722"/><stop offset="0.2708" stop-color="#0a0722"/><stop offset="0.2903" stop-color="#160b39"/><stop offset="0.3042" stop-color="#2f0a5b"/><stop offset="0.3236" stop-color="#520e6d"/><stop offset="0.3264" stop-color="#6f196e"/><stop offset="0.3292" stop-color="#da4e3c"/><stop offset="0.3319" stop-color="#fcae12"/><stop offset="0.3347" stop-color="#fac228"/><stop offset="0.3375" stop-color="#fbb61a"/><stop offset="0.3403" stop-color="#e45a31"/><stop offset="0.3431" stop-color="#61136e"/><stop offset="0.3458" stop-color="#2f0a5b"/><stop offset="0.3542" stop-color="#0e092b"/><stop offset="0.3653" stop-color="#040312"/><stop offset="0.4042" stop-color="#040314"/><stop offset="0.4125" stop-color="#0d0829"/><stop offset="0.4181" stop-color="#1e0c45"/><stop offset="0.4236" stop-color="#380962"/><stop offset="0.4292" stop-color="#550f6d"/><stop offset="0.4319" stop-color="#902568"/><stop offset="0.4347" stop-color="#f1711f"/><stop offset="0.4375" stop-color="#fbba1f"/><stop offset="0.4403" stop-color="#fac228"/><stop offset="0.4431" stop-color="#fcaa0f"/><stop offset="0.4458" stop-color="#da4e3c"/><stop offset="0.4486" stop-color="#781c6d"/><stop offset="0.4514" stop-color="#5d126e"/><stop offset="0.4653" stop-color="#360961"/><stop offset="0.4931" stop-color="#210c4a"/><stop offset="0.5153" stop-color="#210c4a"/><stop offset="0.5625" stop-color="#3d0965"/><stop offset="0.6542" stop-color="#310a5c"/><stop offset="0.6931" stop-color="#520e6d"/><stop offset="0.7069" stop-color="#4d0d6c"/><stop offset="0.7264" stop-color="#320a5e"/><stop offset="0.7458" stop-color="#0b0724"/><stop offset="0.7569" stop-color="#040314"/><stop offset="0.8431" stop-color="#040312"/><stop offset="0.8625" stop-color="#09061f"/><stop offset="0.8792" stop-color="#280b53"/><stop offset="0.8875" stop-color="#360961"/><stop offset="0.9208" stop-color="#440a68"/><stop offset="0.9542" stop-color="#69166e"/><stop offset="0.9986" stop-color="#4f0d6c"/></linearGradient><linearGradient id="g17"><stop offset="0.0014" stop-color="#fac026"/><stop offset="0.0042" stop-color="#fcb216"/><stop offset="0.0069" stop-color="#a62d60"/><stop offset="0.0097" stop-color="#340a5f"/><stop offset="0.0208" stop-color="#0d0829"/><stop offset="0.0319" stop-color="#08051d"/><stop offset="0.1153" stop-color="#0a0722"/><stop offset="0.1375" stop-color="#0e092b"/><stop offset="0.1569" stop-color="#1b0c41"/><stop offset="0.1681" stop-color="#390963"/><stop offset="0.1708" stop-color="#540f6d"/><stop offset="0.1736" stop-color="#d04545"/><stop offset="0.1764" stop-color="#f67e14"/><stop offset="0.1792" stop-color="#f1731d"/><stop offset="0.1819" stop-color="#9f2a63"/><stop offset="0.1847" stop-color="#59106e"/><stop offset="0.1875" stop-color="#57106e"/><stop offset="0.1903" stop-color="#932667"/><stop offset="0.1931" stop-color="#df5337"/><stop offset="0.1958" stop-color="#e15635"/><stop offset="0.1986" stop-color="#a32c61"/><stop offset="0.2014" stop-color="#420a68"/><stop offset="0.2125" stop-color="#1c0c43"/><stop offset="0.2319" stop-color="#110a30"/><stop offset="0.2792" stop-color="#110a30"/><stop offset="0.3069" stop-color="#320a5e"/><stop offset="0.3264" stop-color="#71196e"/><stop offset="0.3292" stop-color="#952667"/><stop offset="0.3319" stop-color="#e55c30"/><stop offset="0.3347" stop-color="#fca108"/><stop offset="0.3375" stop-color="#fcae12"/><stop offset="0.3403" stop-color="#fca108"/><stop offset="0.3431" stop-color="#e25734"/><stop offset="0.3458" stop-color="#85216b"/><stop offset="0.3486" stop-color="#5d126e"/><stop offset="0.3597" stop-color="#2b0b57"/><stop offset="0.3764" stop-color="#140b34"/><stop offset="0.4069" stop-color="#140b34"/><stop offset="0.4236" stop-color="#340a5f"/><stop offset="0.4292" stop-color="#4c0c6b"/><stop offset="0.4319" stop-color="#65156e"/><stop offset="0.4347" stop-color="#c33b4f"/><stop offset="0.4375" stop-color="#f98e09"/><stop offset="0.4403" stop-color="#fcae12"/><stop offset="0.4431" stop-color="#fcaa0f"/><stop offset="0.4458" stop-color="#f06f20"/><stop offset="0.4486" stop-color="#a32c61"/><stop offset="0.4514" stop-color="#6c186e"/><stop offset="0.4653" stop-color="#420a68"/><stop offset="0.4736" stop-color="#380962"/><stop offset="0.4986" stop-color="#280b53"/><stop offset="0.5264" stop-color="#110a30"/><stop offset="0.5403" stop-color="#180c3c"/><stop offset="0.5569" stop-color="#320a5e"/><stop offset="0.5681" stop-color="#3d0965"/><stop offset="0.6625" stop-color="#3d0965"/><stop offset="0.7042" stop-color="#61136e"/><stop offset="0.7458" stop-color="#390963"/><stop offset="0.7542" stop-color="#290b55"/><stop offset="0.7681" stop-color="#0e092b"/><stop offset="0.7847" stop-color="#09061f"/><stop offset="0.8597" stop-color="#0d0829"/><stop offset="0.8903" stop-color="#2f0a5b"/><stop offset="0.9264" stop-color="#400a67"/><stop offset="0.9458" stop-color="#5a116e"/><stop offset="0.9986" stop-color="#3d0965"/></linearGradient><linearGradient id="g18"><stop offset="0.0014" stop-color="#ed6925"/><stop offset="0.0042" stop-color="#e75e2e"/><stop offset="0.0069" stop-color="#71196e"/><stop offset="0.0097" stop-color="#260c51"/><stop offset="0.0181" stop-color="#0e092b"/><stop offset="0.0264" stop-color="#09061f"/><stop offset="0.0986" stop-color="#0a0722"/><stop offset="0.1347" stop-color="#140b34"/><stop offset="0.1653" stop-color="#280b53"/><stop offset="0.1764" stop-color="#450a69"/><stop offset="0.1792" stop-color="#5f136e"/><stop offset="0.1819" stop-color="#d44842"/><stop offset="0.1847" stop-color="#f67e14"/><stop offset="0.1875" stop-color="#f2741c"/><stop offset="0.1903" stop-color="#9d2964"/><stop offset="0.1931" stop-color="#61136e"/><stop offset="0.1986" stop-color="#6d186e"/><stop offset="0.2042" stop-color="#340a5f"/><stop offset="0.2153" stop-color="#1b0c41"/><stop offset="0.2264" stop-color="#120a32"/><stop offset="0.2819" stop-color="#120a32"/><stop offset="0.2986" stop-color="#280b53"/><stop offset="0.3125" stop-color="#4c0c6b"/><stop offset="0.3319" stop-color="#87216b"/><stop offset="0.3347" stop-color="#a62d60"/><stop offset="0.3375" stop-color="#e35933"/><stop offset="0.3403" stop-color="#f98c0a"/><stop offset="0.3431" stop-color="#fb9706"/><stop offset="0.3458" stop-color="#f98c0a"/><stop offset="0.3486" stop-color="#e45a31"/><stop offset="0.3514" stop-color="#ad305d"/><stop offset="0.3542" stop-color="#902568"/><stop offset="0.3736" stop-color="#62146e"/><stop offset="0.4042" stop-color="#4a0c6b"/><stop offset="0.4153" stop-color="#4a0c6b"/><stop offset="0.4319" stop-color="#65156e"/><stop offset="0.4347" stop-color="#741a6e"/><stop offset="0.4375" stop-color="#b3325a"/><stop offset="0.4403" stop-color="#f1711f"/><stop offset="0.4431" stop-color="#fb9606"/><stop offset="0.4458" stop-color="#fb9606"/><stop offset="0.4486" stop-color="#f1711f"/><stop offset="0.4514" stop-color="#b1325a"/><stop offset="0.4542" stop-color="#71196e"/><stop offset="0.4681" stop-color="#400a67"/><stop offset="0.4875" stop-color="#230c4c"/><stop offset="0.5292" stop-color="#09061f"/><stop offset="0.5431" stop-color="#0b0724"/><stop offset="0.5653" stop-color="#280b53"/><stop offset="0.5792" stop-color="#320a5e"/><stop offset="0.6681" stop-color="#3e0966"/><stop offset="0.7042" stop-color="#69166e"/><stop offset="0.7569" stop-color="#3d0965"/><stop offset="0.7792" stop-color="#190c3e"/><stop offset="0.7958" stop-color="#120a32"/><stop offset="0.8597" stop-color="#140b34"/><stop offset="0.8903" stop-color="#2b0b57"/><stop offset="0.9264" stop-color="#310a5c"/><stop offset="0.9569" stop-color="#510e6c"/><stop offset="0.9847" stop-color="#340a5f"/><stop offset="0.9986" stop-color="#310a5c"/></linearGradient><linearGradient id="g19"><stop offset="0.0014" stop-color="#08051d"/><stop offset="0.1014" stop-color="#0a0722"/><stop offset="0.1181" stop-color="#110a30"/><stop offset="0.1403" stop-color="#2b0b57"/><stop offset="0.1736" stop-color="#3b0964"/><stop offset="0.1847" stop-color="#5f136e"/><stop offset="0.1875" stop-color="#781c6d"/><stop offset="0.1903" stop-color="#eb6628"/><stop offset="0.1931" stop-color="#fac026"/><stop offset="0.1958" stop-color="#fbba1f"/><stop offset="0.1986" stop-color="#d94d3d"/><stop offset="0.2014" stop-color="#6a176e"/><stop offset="0.2097" stop-color="#3d0965"/><stop offset="0.2181" stop-color="#260c51"/><stop offset="0.2403" stop-color="#110a30"/><stop offset="0.2653" stop-color="#110a30"/><stop offset="0.2819" stop-color="#1b0c41"/><stop offset="0.3042" stop-color="#390963"/><stop offset="0.3264" stop-color="#801f6c"/><stop offset="0.3319" stop-color="#a22b62"/><stop offset="0.3375" stop-color="#cf4446"/><stop offset="0.3458" stop-color="#e25734"/><stop offset="0.3542" stop-color="#dd513a"/><stop offset="0.3653" stop-color="#ab2f5e"/><stop offset="0.4208" stop-color="#8a226a"/><stop offset="0.4403" stop-color="#932667"/><stop offset="0.4458" stop-color="#da4e3c"/><stop offset="0.4514" stop-color="#e15635"/><stop offset="0.4542" stop-color="#cc4248"/><stop offset="0.4569" stop-color="#952667"/><stop offset="0.4597" stop-color="#721a6e"/><stop offset="0.4708" stop-color="#4c0c6b"/><stop offset="0.4819" stop-color="#2f0a5b"/><stop offset="0.4931" stop-color="#180c3c"/><stop offset="0.5042" stop-color="#0b0724"/><stop offset="0.5153" stop-color="#07051b"/><stop offset="0.5486" stop-color="#050417"/><stop offset="0.5819" stop-color="#190c3e"/><stop offset="0.6125" stop-color="#1c0c43"/><stop offset="0.6431" stop-color="#380962"/><stop offset="0.6736" stop-color="#440a68"/><stop offset="0.7097" stop-color="#721a6e"/><stop offset="0.7542" stop-color="#4a0c6b"/><stop offset="0.7986" stop-color="#230c4c"/><stop offset="0.8792" stop-color="#230c4c"/><stop offset="0.9736" stop-color="#320a5e"/><stop offset="0.9986" stop-color="#290b55"/></linearGradient><linearGradient id="g20"><stop offset="0.0014" stop-color="#140b34"/><stop offset="0.0292" stop-color="#07051b"/><stop offset="0.0958" stop-color="#08051d"/><stop offset="0.1097" stop-color="#0d0829"/><stop offset="0.1208" stop-color="#240c4f"/><stop offset="0.1236" stop-color="#4d0d6c"/><stop offset="0.1264" stop-color="#6d186e"/><stop offset="0.1292" stop-color="#6c186e"/><stop offset="0.1347" stop-color="#340a5f"/><stop offset="0.1819" stop-color="#400a67"/><stop offset="0.1931" stop-color="#5d126e"/><stop offset="0.1958" stop-color="#9f2a63"/><stop offset="0.1986" stop-color="#e9612b"/><stop offset="0.2014" stop-color="#ee6a24"/><stop offset="0.2042" stop-color="#ca404a"/><stop offset="0.2069" stop-color="#64156e"/><stop offset="0.2097" stop-color="#4d0d6c"/><stop offset="0.2264" stop-color="#1f0c48"/><stop offset="0.2431" stop-color="#120a32"/><stop offset="0.2653" stop-color="#110a30"/><stop offset="0.2792" stop-color="#1b0c41"/><stop offset="0.2903" stop-color="#2d0b59"/><stop offset="0.3042" stop-color="#550f6d"/><stop offset="0.3153" stop-color="#6d186e"/><stop offset="0.3486" stop-color="#952667"/><stop offset="0.3736" stop-color="#a32c61"/><stop offset="0.4375" stop-color="#902568"/><stop offset="0.4681" stop-color="#550f6d"/><stop offset="0.4819" stop-color="#340a5f"/><stop offset="0.4986" stop-color="#150b37"/><stop offset="0.5181" stop-color="#0a0722"/><stop offset="0.5708" stop-color="#07051b"/><stop offset="0.6208" stop-color="#0e092b"/><stop offset="0.6514" stop-color="#360961"/><stop offset="0.6792" stop-color="#450a69"/><stop offset="0.7097" stop-color="#751b6e"/><stop offset="0.7569" stop-color="#4a0c6b"/><stop offset="0.7764" stop-color="#310a5c"/><stop offset="0.7958" stop-color="#260c51"/><stop offset="0.9986" stop-color="#260c51"/></linearGradient><linearGradient id="g21"><stop offset="0.0014" stop-color="#180c3c"/><stop offset="0.0125" stop-color="#0d0829"/><stop offset="0.0347" stop-color="#07051b"/><stop offset="0.1014" stop-color="#07051b"/><stop offset="0.1181" stop-color="#10092d"/><stop offset="0.1292" stop-color="#320a5e"/><stop offset="0.1319" stop-color="#450a69"/><stop offset="0.1347" stop-color="#a02a63"/><stop offset="0.1375" stop-color="#d34743"/><stop offset="0.1403" stop-color="#cb4149"/><stop offset="0.1431" stop-color="#7a1d6d"/><stop offset="0.1458" stop-color="#4c0c6b"/><stop offset="0.1514" stop-color="#400a67"/><stop offset="0.1708" stop-color="#380962"/><stop offset="0.2014" stop-color="#470b6a"/><stop offset="0.2042" stop-color="#4d0d6c"/><stop offset="0.2069" stop-color="#6a176e"/><stop offset="0.2097" stop-color="#952667"/><stop offset="0.2125" stop-color="#a32c61"/><stop offset="0.2153" stop-color="#9f2a63"/><stop offset="0.2208" stop-color="#490b6a"/><stop offset="0.2236" stop-color="#360961"/><stop offset="0.2403" stop-color="#110a30"/><stop offset="0.2486" stop-color="#0d0829"/><stop offset="0.2736" stop-color="#110a30"/><stop offset="0.2847" stop-color="#190c3e"/><stop offset="0.2931" stop-color="#290b55"/><stop offset="0.3042" stop-color="#510e6c"/><stop offset="0.3125" stop-color="#6c186e"/><stop offset="0.3319" stop-color="#82206c"/><stop offset="0.4542" stop-color="#64156e"/><stop offset="0.4708" stop-color="#540f6d"/><stop offset="0.4847" stop-color="#340a5f"/><stop offset="0.5069" stop-color="#10092d"/><stop offset="0.5708" stop-color="#040312"/><stop offset="0.6153" stop-color="#040312"/><stop offset="0.6292" stop-color="#09061f"/><stop offset="0.6458" stop-color="#240c4f"/><stop offset="0.6569" stop-color="#340a5f"/><stop offset="0.6847" stop-color="#400a67"/><stop offset="0.7097" stop-color="#67166e"/><stop offset="0.7264" stop-color="#741a6e"/><stop offset="0.7597" stop-color="#510e6c"/><stop offset="0.7792" stop-color="#310a5c"/><stop offset="0.7958" stop-color="#280b53"/><stop offset="0.9986" stop-color="#280b53"/></linearGradient><linearGradient id="g22"><stop offset="0.0014" stop-color="#09061f"/><stop offset="0.1097" stop-color="#060419"/><stop offset="0.1264" stop-color="#110a30"/><stop offset="0.1375" stop-color="#3b0964"/><stop offset="0.1403" stop-color="#59106e"/><stop offset="0.1431" stop-color="#d44842"/><stop offset="0.1458" stop-color="#f67e14"/><stop offset="0.1486" stop-color="#f2741c"/><stop offset="0.1514" stop-color="#a22b62"/><stop offset="0.1542" stop-color="#57106e"/><stop offset="0.1569" stop-color="#4d0d6c"/><stop offset="0.1681" stop-color="#440a68"/><stop offset="0.1708" stop-color="#5a116e"/><stop offset="0.1736" stop-color="#82206c"/><stop offset="0.1764" stop-color="#87216b"/><stop offset="0.1819" stop-color="#450a69"/><stop offset="0.1847" stop-color="#3d0965"/><stop offset="0.2292" stop-color="#2b0b57"/><stop offset="0.2514" stop-color="#0a0722"/><stop offset="0.2625" stop-color="#050417"/><stop offset="0.2792" stop-color="#0a0722"/><stop offset="0.2903" stop-color="#1e0c45"/><stop offset="0.3014" stop-color="#400a67"/><stop offset="0.3042" stop-color="#5c126e"/><stop offset="0.3069" stop-color="#a62d60"/><stop offset="0.3097" stop-color="#dd513a"/><stop offset="0.3125" stop-color="#e25734"/><stop offset="0.3153" stop-color="#dd513a"/><stop offset="0.3181" stop-color="#b3325a"/><stop offset="0.3208" stop-color="#781c6d"/><stop offset="0.3236" stop-color="#6a176e"/><stop offset="0.3653" stop-color="#5a116e"/><stop offset="0.3986" stop-color="#6a176e"/><stop offset="0.4014" stop-color="#771c6d"/><stop offset="0.4069" stop-color="#ce4347"/><stop offset="0.4097" stop-color="#d34743"/><stop offset="0.4125" stop-color="#cc4248"/><stop offset="0.4181" stop-color="#71196e"/><stop offset="0.4208" stop-color="#5f136e"/><stop offset="0.4431" stop-color="#450a69"/><stop offset="0.4847" stop-color="#3b0964"/><stop offset="0.5069" stop-color="#190c3e"/><stop offset="0.5208" stop-color="#10092d"/><stop offset="0.5514" stop-color="#0d0829"/><stop offset="0.5903" stop-color="#02020c"/><stop offset="0.6236" stop-color="#02020c"/><stop offset="0.6375" stop-color="#050417"/><stop offset="0.6625" stop-color="#310a5c"/><stop offset="0.6958" stop-color="#400a67"/><stop offset="0.7181" stop-color="#6f196e"/><stop offset="0.7319" stop-color="#7c1d6d"/><stop offset="0.7514" stop-color="#741a6e"/><stop offset="0.7736" stop-color="#420a68"/><stop offset="0.7931" stop-color="#310a5c"/><stop offset="0.9986" stop-color="#2f0a5b"/></linearGradient><linearGradient id="g23"><stop offset="0.0014" stop-color="#07051b"/><stop offset="0.1097" stop-color="#07051b"/><stop offset="0.1292" stop-color="#0e092b"/><stop offset="0.1431" stop-color="#3d0965"/><stop offset="0.1458" stop-color="#5c126e"/><stop offset="0.1486" stop-color="#de5238"/><stop offset="0.1514" stop-color="#fb9606"/><stop offset="0.1542" stop-color="#f8890c"/><stop offset="0.1569" stop-color="#ae305c"/><stop offset="0.1597" stop-color="#5d126e"/><stop offset="0.1625" stop-color="#550f6d"/><stop offset="0.1681" stop-color="#510e6c"/><stop offset="0.1708" stop-color="#5a116e"/><stop offset="0.1736" stop-color="#a62d60"/><stop offset="0.1764" stop-color="#d34743"/><stop offset="0.1792" stop-color="#cb4149"/><stop offset="0.1819" stop-color="#781c6d"/><stop offset="0.1847" stop-color="#490b6a"/><stop offset="0.1875" stop-color="#400a67"/><stop offset="0.2042" stop-color="#2d0b59"/><stop offset="0.2486" stop-color="#290b55"/><stop offset="0.2792" stop-color="#0c0826"/><stop offset="0.2903" stop-color="#110a30"/><stop offset="0.3042" stop-color="#420a68"/><stop offset="0.3069" stop-color="#721a6e"/><stop offset="0.3097" stop-color="#e25734"/><stop offset="0.3125" stop-color="#fca309"/><stop offset="0.3153" stop-color="#fcae12"/><stop offset="0.3181" stop-color="#fb9906"/><stop offset="0.3208" stop-color="#d94d3d"/><stop offset="0.3236" stop-color="#7c1d6d"/><stop offset="0.3264" stop-color="#61136e"/><stop offset="0.3292" stop-color="#5a116e"/><stop offset="0.3514" stop-color="#400a67"/><stop offset="0.3819" stop-color="#400a67"/><stop offset="0.4042" stop-color="#5c126e"/><stop offset="0.4069" stop-color="#6a176e"/><stop offset="0.4097" stop-color="#a82e5f"/><stop offset="0.4125" stop-color="#e35933"/><stop offset="0.4153" stop-color="#ee6a24"/><stop offset="0.4181" stop-color="#ec6726"/><stop offset="0.4208" stop-color="#d34743"/><stop offset="0.4236" stop-color="#84206b"/><stop offset="0.4264" stop-color="#5c126e"/><stop offset="0.4347" stop-color="#450a69"/><stop offset="0.4514" stop-color="#340a5f"/><stop offset="0.4819" stop-color="#2f0a5b"/><stop offset="0.5264" stop-color="#110a30"/><stop offset="0.5597" stop-color="#0c0826"/><stop offset="0.5986" stop-color="#02020c"/><stop offset="0.6319" stop-color="#02020c"/><stop offset="0.6458" stop-color="#050417"/><stop offset="0.6569" stop-color="#10092d"/><stop offset="0.6681" stop-color="#280b53"/><stop offset="0.6764" stop-color="#320a5e"/><stop offset="0.7097" stop-color="#3e0966"/><stop offset="0.7347" stop-color="#84206b"/><stop offset="0.7486" stop-color="#932667"/><stop offset="0.7625" stop-color="#87216b"/><stop offset="0.7875" stop-color="#400a67"/><stop offset="0.7986" stop-color="#380962"/><stop offset="0.9986" stop-color="#360961"/></linearGradient><linearGradient id="g24"><stop offset="0.0014" stop-color="#07051b"/><stop offset="0.1014" stop-color="#07051b"/><stop offset="0.1181" stop-color="#09061f"/><stop offset="0.1319" stop-color="#120a32"/><stop offset="0.1458" stop-color="#440a68"/><stop offset="0.1486" stop-color="#6c186e"/><stop offset="0.1514" stop-color="#ef6c23"/><stop offset="0.1542" stop-color="#fcae12"/><stop offset="0.1569" stop-color="#fb9706"/><stop offset="0.1597" stop-color="#ab2f5e"/><stop offset="0.1625" stop-color="#5d126e"/><stop offset="0.1653" stop-color="#550f6d"/><stop offset="0.1736" stop-color="#540f6d"/><stop offset="0.1764" stop-color="#64156e"/><stop offset="0.1792" stop-color="#cc4248"/><stop offset="0.1819" stop-color="#f67e14"/><stop offset="0.1847" stop-color="#f47918"/><stop offset="0.1875" stop-color="#b1325a"/><stop offset="0.1903" stop-color="#57106e"/><stop offset="0.1986" stop-color="#390963"/><stop offset="0.2097" stop-color="#2d0b59"/><stop offset="0.2514" stop-color="#290b55"/><stop offset="0.2819" stop-color="#120a32"/><stop offset="0.2958" stop-color="#1b0c41"/><stop offset="0.3069" stop-color="#3e0966"/><stop offset="0.3097" stop-color="#510e6c"/><stop offset="0.3125" stop-color="#972766"/><stop offset="0.3153" stop-color="#f57b17"/><stop offset="0.3181" stop-color="#fbbc21"/><stop offset="0.3208" stop-color="#fac228"/><stop offset="0.3236" stop-color="#fca309"/><stop offset="0.3264" stop-color="#d34743"/><stop offset="0.3292" stop-color="#771c6d"/><stop offset="0.3319" stop-color="#62146e"/><stop offset="0.3403" stop-color="#4d0d6c"/><stop offset="0.3597" stop-color="#3b0964"/><stop offset="0.3958" stop-color="#420a68"/><stop offset="0.4069" stop-color="#59106e"/><stop offset="0.4125" stop-color="#6f196e"/><stop offset="0.4153" stop-color="#b63458"/><stop offset="0.4181" stop-color="#f68013"/><stop offset="0.4208" stop-color="#fcac11"/><stop offset="0.4236" stop-color="#fcac11"/><stop offset="0.4264" stop-color="#f68013"/><stop offset="0.4292" stop-color="#b43359"/><stop offset="0.4319" stop-color="#6a176e"/><stop offset="0.4431" stop-color="#420a68"/><stop offset="0.4597" stop-color="#310a5c"/><stop offset="0.4847" stop-color="#290b55"/><stop offset="0.5153" stop-color="#140b34"/><stop offset="0.5569" stop-color="#0d0829"/><stop offset="0.5931" stop-color="#02020e"/><stop offset="0.6236" stop-color="#02020c"/><stop offset="0.6514" stop-color="#060419"/><stop offset="0.6819" stop-color="#340a5f"/><stop offset="0.7264" stop-color="#4a0c6b"/><stop offset="0.7597" stop-color="#8c2369"/><stop offset="0.7681" stop-color="#87216b"/><stop offset="0.7931" stop-color="#490b6a"/><stop offset="0.8069" stop-color="#3b0964"/><stop offset="0.9347" stop-color="#390963"/><stop offset="0.9681" stop-color="#4d0d6c"/><stop offset="0.9986" stop-color="#390963"/></linearGradient><linearGradient id="g25"><stop offset="0.0014" stop-color="#07051b"/><stop offset="0.1014" stop-color="#07051b"/><stop offset="0.1181" stop-color="#09061f"/><stop offset="0.1347" stop-color="#140b34"/><stop offset="0.1458" stop-color="#390963"/><stop offset="0.1514" stop-color="#61136e"/><stop offset="0.1542" stop-color="#df5337"/><stop offset="0.1569" stop-color="#fbbc21"/><stop offset="0.1597" stop-color="#fbbc21"/><stop offset="0.1625" stop-color="#e05536"/><stop offset="0.1653" stop-color="#69166e"/><stop offset="0.1681" stop-color="#540f6d"/><stop offset="0.1792" stop-color="#390963"/><stop offset="0.1875" stop-color="#59106e"/><stop offset="0.1958" stop-color="#320a5e"/><stop offset="0.2514" stop-color="#290b55"/><stop offset="0.2847" stop-color="#110a30"/><stop offset="0.2986" stop-color="#1c0c43"/><stop offset="0.3097" stop-color="#440a68"/><stop offset="0.3125" stop-color="#59106e"/><stop offset="0.3153" stop-color="#a62d60"/><stop offset="0.3181" stop-color="#f8850f"/><stop offset="0.3208" stop-color="#fbbe23"/><stop offset="0.3236" stop-color="#fac026"/><stop offset="0.3264" stop-color="#fb9b06"/><stop offset="0.3292" stop-color="#ca404a"/><stop offset="0.3319" stop-color="#751b6e"/><stop offset="0.3347" stop-color="#64156e"/><stop offset="0.3486" stop-color="#440a68"/><stop offset="0.3625" stop-color="#3b0964"/><stop offset="0.3986" stop-color="#440a68"/><stop offset="0.4125" stop-color="#69166e"/><stop offset="0.4153" stop-color="#7d1e6d"/><stop offset="0.4181" stop-color="#d54a41"/><stop offset="0.4208" stop-color="#fcb014"/><stop offset="0.4236" stop-color="#f7d340"/><stop offset="0.4264" stop-color="#f7d13d"/><stop offset="0.4292" stop-color="#fb9b06"/><stop offset="0.4319" stop-color="#bf3952"/><stop offset="0.4347" stop-color="#71196e"/><stop offset="0.4431" stop-color="#4d0d6c"/><stop offset="0.4542" stop-color="#360961"/><stop offset="0.4847" stop-color="#290b55"/><stop offset="0.5153" stop-color="#140b34"/><stop offset="0.5569" stop-color="#0e092b"/><stop offset="0.5986" stop-color="#040312"/><stop offset="0.6431" stop-color="#060419"/><stop offset="0.6736" stop-color="#240c4f"/><stop offset="0.6875" stop-color="#310a5c"/><stop offset="0.7264" stop-color="#3d0965"/><stop offset="0.7458" stop-color="#6d186e"/><stop offset="0.7569" stop-color="#7c1d6d"/><stop offset="0.7653" stop-color="#7c1d6d"/><stop offset="0.7958" stop-color="#490b6a"/><stop offset="0.8125" stop-color="#3d0965"/><stop offset="0.9986" stop-color="#3e0966"/></linearGradient><linearGradient id="g26"><stop offset="0.0014" stop-color="#07051b"/><stop offset="0.1153" stop-color="#07051b"/><stop offset="0.1292" stop-color="#0a0722"/><stop offset="0.1375" stop-color="#120a32"/><stop offset="0.1514" stop-color="#470b6a"/><stop offset="0.1542" stop-color="#7c1d6d"/><stop offset="0.1569" stop-color="#f1731d"/><stop offset="0.1597" stop-color="#fb9706"/><stop offset="0.1625" stop-color="#f1731d"/><stop offset="0.1653" stop-color="#85216b"/><stop offset="0.1681" stop-color="#59106e"/><stop offset="0.1708" stop-color="#520e6d"/><stop offset="0.1764" stop-color="#520e6d"/><stop offset="0.1819" stop-color="#65156e"/><stop offset="0.1847" stop-color="#cc4248"/><stop offset="0.1875" stop-color="#fca50a"/><stop offset="0.1903" stop-color="#fcac11"/><stop offset="0.1931" stop-color="#e25734"/><stop offset="0.1958" stop-color="#6a176e"/><stop offset="0.1986" stop-color="#520e6d"/><stop offset="0.2069" stop-color="#380962"/><stop offset="0.2153" stop-color="#2d0b59"/><stop offset="0.2625" stop-color="#290b55"/><stop offset="0.2903" stop-color="#0e092b"/><stop offset="0.2986" stop-color="#120a32"/><stop offset="0.3069" stop-color="#280b53"/><stop offset="0.3153" stop-color="#510e6c"/><stop offset="0.3181" stop-color="#781c6d"/><stop offset="0.3208" stop-color="#e75e2e"/><stop offset="0.3236" stop-color="#fac228"/><stop offset="0.3264" stop-color="#f7d340"/><stop offset="0.3292" stop-color="#f9c932"/><stop offset="0.3319" stop-color="#f47918"/><stop offset="0.3347" stop-color="#a22b62"/><stop offset="0.3375" stop-color="#6f196e"/><stop offset="0.3486" stop-color="#4d0d6c"/><stop offset="0.3653" stop-color="#3b0964"/><stop offset="0.3986" stop-color="#400a67"/><stop offset="0.4097" stop-color="#550f6d"/><stop offset="0.4181" stop-color="#751b6e"/><stop offset="0.4208" stop-color="#c13a50"/><stop offset="0.4236" stop-color="#fb9d07"/><stop offset="0.4264" stop-color="#f7d13d"/><stop offset="0.4292" stop-color="#f7d340"/><stop offset="0.4319" stop-color="#fcb014"/><stop offset="0.4347" stop-color="#d44842"/><stop offset="0.4375" stop-color="#781c6d"/><stop offset="0.4403" stop-color="#62146e"/><stop offset="0.4514" stop-color="#400a67"/><stop offset="0.4597" stop-color="#340a5f"/><stop offset="0.4931" stop-color="#290b55"/><stop offset="0.5208" stop-color="#120a32"/><stop offset="0.6014" stop-color="#060419"/><stop offset="0.6486" stop-color="#09061f"/><stop offset="0.6792" stop-color="#310a5c"/><stop offset="0.7431" stop-color="#3d0965"/><stop offset="0.7569" stop-color="#64156e"/><stop offset="0.7708" stop-color="#8d2369"/><stop offset="0.7764" stop-color="#8c2369"/><stop offset="0.7986" stop-color="#4f0d6c"/><stop offset="0.8097" stop-color="#420a68"/><stop offset="0.9375" stop-color="#400a67"/><stop offset="0.9681" stop-color="#61136e"/><stop offset="0.9847" stop-color="#470b6a"/><stop offset="0.9986" stop-color="#400a67"/></linearGradient><linearGradient id="g27"><stop offset="0.0014" stop-color="#6c186e"/><stop offset="0.0597" stop-color="#82206c"/><stop offset="0.1125" stop-color="#bf3952"/><stop offset="0.1292" stop-color="#e25734"/><stop offset="0.1431" stop-color="#fb9906"/><stop offset="0.1458" stop-color="#fca80d"/><stop offset="0.1542" stop-color="#f6d746"/><stop offset="0.1569" stop-color="#f2e661"/><stop offset="0.1597" stop-color="#fcffab"/><stop offset="0.1625" stop-color="#fdffbe"/><stop offset="0.1653" stop-color="#fdffba"/><stop offset="0.1708" stop-color="#f2e865"/><stop offset="0.1819" stop-color="#f8cf3a"/><stop offset="0.1847" stop-color="#f2e865"/><stop offset="0.1875" stop-color="#fcffa4"/><stop offset="0.1903" stop-color="#f6fa96"/><stop offset="0.1931" stop-color="#fbbe23"/><stop offset="0.1958" stop-color="#fb9906"/><stop offset="0.2069" stop-color="#e05536"/><stop offset="0.2153" stop-color="#bf3952"/><stop offset="0.2347" stop-color="#85216b"/><stop offset="0.2569" stop-color="#5f136e"/><stop offset="0.2653" stop-color="#5a116e"/><stop offset="0.2792" stop-color="#65156e"/><stop offset="0.2958" stop-color="#982766"/><stop offset="0.3069" stop-color="#cb4149"/><stop offset="0.3181" stop-color="#ee6a24"/><stop offset="0.3208" stop-color="#f8850f"/><stop offset="0.3236" stop-color="#fac026"/><stop offset="0.3264" stop-color="#f2ea69"/><stop offset="0.3292" stop-color="#f1ef75"/><stop offset="0.3319" stop-color="#f4df53"/><stop offset="0.3347" stop-color="#fca309"/><stop offset="0.3375" stop-color="#f8870e"/><stop offset="0.3403" stop-color="#fb9606"/><stop offset="0.3431" stop-color="#fb9b06"/><stop offset="0.3458" stop-color="#fa9207"/><stop offset="0.3486" stop-color="#ef6e21"/><stop offset="0.3514" stop-color="#e35933"/><stop offset="0.3597" stop-color="#bc3754"/><stop offset="0.3708" stop-color="#7d1e6d"/><stop offset="0.3819" stop-color="#64156e"/><stop offset="0.3958" stop-color="#71196e"/><stop offset="0.4069" stop-color="#952667"/><stop offset="0.4208" stop-color="#c83f4b"/><stop offset="0.4236" stop-color="#df5337"/><stop offset="0.4264" stop-color="#fb9b06"/><stop offset="0.4292" stop-color="#f3e35a"/><stop offset="0.4319" stop-color="#f1ef75"/><stop offset="0.4347" stop-color="#f3e35a"/><stop offset="0.4375" stop-color="#fb9906"/><stop offset="0.4403" stop-color="#de5238"/><stop offset="0.4431" stop-color="#c73e4c"/><stop offset="0.4597" stop-color="#82206c"/><stop offset="0.4792" stop-color="#4d0d6c"/><stop offset="0.5014" stop-color="#450a69"/><stop offset="0.5208" stop-color="#520e6d"/><stop offset="0.5597" stop-color="#771c6d"/><stop offset="0.5931" stop-color="#a62d60"/><stop offset="0.6097" stop-color="#ce4347"/><stop offset="0.6264" stop-color="#ee6a24"/><stop offset="0.6486" stop-color="#f98e09"/><stop offset="0.6653" stop-color="#fc9f07"/><stop offset="0.6958" stop-color="#fca50a"/><stop offset="0.7153" stop-color="#fa9407"/><stop offset="0.7347" stop-color="#f1711f"/><stop offset="0.7597" stop-color="#cf4446"/><stop offset="0.7986" stop-color="#9f2a63"/><stop offset="0.8319" stop-color="#6f196e"/><stop offset="0.8653" stop-color="#440a68"/><stop offset="0.9347" stop-color="#3e0966"/><stop offset="0.9431" stop-color="#4d0d6c"/><stop offset="0.9597" stop-color="#801f6c"/><stop offset="0.9708" stop-color="#8d2369"/><stop offset="0.9986" stop-color="#64156e"/></linearGradient><linearGradient id="g28"><stop offset="0.0014" stop-color="#6c186e"/><stop offset="0.0597" stop-color="#82206c"/><stop offset="0.1153" stop-color="#c33b4f"/><stop offset="0.1264" stop-color="#da4e3c"/><stop offset="0.1486" stop-color="#fa9207"/><stop offset="0.1597" stop-color="#fca80d"/><stop offset="0.1681" stop-color="#fbbe23"/><stop offset="0.1736" stop-color="#fca60c"/><stop offset="0.1819" stop-color="#f98e09"/><stop offset="0.1903" stop-color="#ed6925"/><stop offset="0.2181" stop-color="#b1325a"/><stop offset="0.2347" stop-color="#85216b"/><stop offset="0.2542" stop-color="#61136e"/><stop offset="0.2681" stop-color="#5a116e"/><stop offset="0.2819" stop-color="#6a176e"/><stop offset="0.2986" stop-color="#a22b62"/><stop offset="0.3097" stop-color="#d34743"/><stop offset="0.3208" stop-color="#f06f20"/><stop offset="0.3236" stop-color="#fb9906"/><stop offset="0.3264" stop-color="#f6d746"/><stop offset="0.3292" stop-color="#f1ed71"/><stop offset="0.3319" stop-color="#f1ed71"/><stop offset="0.3347" stop-color="#f8cd37"/><stop offset="0.3375" stop-color="#f98b0b"/><stop offset="0.3403" stop-color="#ef6c23"/><stop offset="0.3458" stop-color="#ef6e21"/><stop offset="0.3597" stop-color="#bd3853"/><stop offset="0.3736" stop-color="#7d1e6d"/><stop offset="0.3819" stop-color="#6d186e"/><stop offset="0.3986" stop-color="#7d1e6d"/><stop offset="0.4125" stop-color="#ab2f5e"/><stop offset="0.4236" stop-color="#d24644"/><stop offset="0.4264" stop-color="#ef6e21"/><stop offset="0.4292" stop-color="#fbbe23"/><stop offset="0.4319" stop-color="#f3e55d"/><stop offset="0.4347" stop-color="#f3e55d"/><stop offset="0.4375" stop-color="#fbbe23"/><stop offset="0.4403" stop-color="#ef6c23"/><stop offset="0.4431" stop-color="#ce4347"/><stop offset="0.4597" stop-color="#87216b"/><stop offset="0.4792" stop-color="#510e6c"/><stop offset="0.4931" stop-color="#450a69"/><stop offset="0.5125" stop-color="#4c0c6b"/><stop offset="0.5514" stop-color="#6d186e"/><stop offset="0.5931" stop-color="#a62d60"/><stop offset="0.6097" stop-color="#ce4347"/><stop offset="0.6292" stop-color="#f1711f"/><stop offset="0.6514" stop-color="#fa9207"/><stop offset="0.6764" stop-color="#fca50a"/><stop offset="0.7069" stop-color="#fb9d07"/><stop offset="0.7208" stop-color="#f98b0b"/><stop offset="0.7347" stop-color="#f1711f"/><stop offset="0.7597" stop-color="#cf4446"/><stop offset="0.7986" stop-color="#9f2a63"/><stop offset="0.8319" stop-color="#6f196e"/><stop offset="0.8653" stop-color="#440a68"/><stop offset="0.9347" stop-color="#3d0965"/><stop offset="0.9681" stop-color="#71196e"/><stop offset="0.9986" stop-color="#550f6d"/></linearGradient><linearGradient id="g29"><stop offset="0.0014" stop-color="#6c186e"/><stop offset="0.0597" stop-color="#82206c"/><stop offset="0.1097" stop-color="#ba3655"/><stop offset="0.1264" stop-color="#da4e3c"/><stop offset="0.1458" stop-color="#fb9606"/><stop offset="0.1486" stop-color="#fca309"/><stop offset="0.1542" stop-color="#fbbe23"/><stop offset="0.1625" stop-color="#f2e661"/><stop offset="0.1653" stop-color="#fcffa5"/><stop offset="0.1681" stop-color="#fdffbd"/><stop offset="0.1708" stop-color="#fdffbd"/><stop offset="0.1736" stop-color="#fcffa6"/><stop offset="0.1764" stop-color="#f1ec6d"/><stop offset="0.1847" stop-color="#f5d949"/><stop offset="0.1875" stop-color="#f5d949"/><stop offset="0.1903" stop-color="#fcffa5"/><stop offset="0.1931" stop-color="#fcffaf"/><stop offset="0.1958" stop-color="#fafda1"/><stop offset="0.1986" stop-color="#fcb216"/><stop offset="0.2014" stop-color="#fb9606"/><stop offset="0.2097" stop-color="#e55c30"/><stop offset="0.2181" stop-color="#bf3952"/><stop offset="0.2375" stop-color="#7f1e6c"/><stop offset="0.2597" stop-color="#5a116e"/><stop offset="0.2819" stop-color="#67166e"/><stop offset="0.3014" stop-color="#a82e5f"/><stop offset="0.3125" stop-color="#d84c3e"/><stop offset="0.3208" stop-color="#ed6925"/><stop offset="0.3236" stop-color="#f2741c"/><stop offset="0.3264" stop-color="#fa9207"/><stop offset="0.3292" stop-color="#f8cf3a"/><stop offset="0.3319" stop-color="#f1ed71"/><stop offset="0.3347" stop-color="#f1ed71"/><stop offset="0.3375" stop-color="#f6d746"/><stop offset="0.3403" stop-color="#fb9906"/><stop offset="0.3431" stop-color="#f78410"/><stop offset="0.3486" stop-color="#f3761b"/><stop offset="0.3514" stop-color="#ea632a"/><stop offset="0.3625" stop-color="#c13a50"/><stop offset="0.3736" stop-color="#8d2369"/><stop offset="0.3819" stop-color="#781c6d"/><stop offset="0.3958" stop-color="#7a1d6d"/><stop offset="0.4097" stop-color="#9a2865"/><stop offset="0.4264" stop-color="#cf4446"/><stop offset="0.4292" stop-color="#dd513a"/><stop offset="0.4319" stop-color="#f8850f"/><stop offset="0.4347" stop-color="#f6d543"/><stop offset="0.4375" stop-color="#f1ef75"/><stop offset="0.4403" stop-color="#f2ea69"/><stop offset="0.4431" stop-color="#fbb81d"/><stop offset="0.4458" stop-color="#eb6429"/><stop offset="0.4486" stop-color="#ce4347"/><stop offset="0.4653" stop-color="#88226a"/><stop offset="0.4847" stop-color="#510e6c"/><stop offset="0.5014" stop-color="#470b6a"/><stop offset="0.5208" stop-color="#520e6d"/><stop offset="0.5597" stop-color="#771c6d"/><stop offset="0.5931" stop-color="#a62d60"/><stop offset="0.6097" stop-color="#ce4347"/><stop offset="0.6292" stop-color="#f1711f"/><stop offset="0.6597" stop-color="#fb9b06"/><stop offset="0.6958" stop-color="#fca50a"/><stop offset="0.7208" stop-color="#f98b0b"/><stop offset="0.7375" stop-color="#ee6a24"/><stop offset="0.7625" stop-color="#cb4149"/><stop offset="0.8181" stop-color="#84206b"/><stop offset="0.8653" stop-color="#440a68"/><stop offset="0.9347" stop-color="#3b0964"/><stop offset="0.9681" stop-color="#550f6d"/><stop offset="0.9986" stop-color="#490b6a"/></linearGradient><linearGradient id="g30"><stop offset="0.0014" stop-color="#fdffba"/><stop offset="0.0042" stop-color="#f3e55d"/><stop offset="0.0069" stop-color="#ef6e21"/><stop offset="0.0181" stop-color="#b3325a"/><stop offset="0.0264" stop-color="#8c2369"/><stop offset="0.0347" stop-color="#7c1d6d"/><stop offset="0.0653" stop-color="#87216b"/><stop offset="0.1153" stop-color="#c33b4f"/><stop offset="0.1292" stop-color="#e05536"/><stop offset="0.1458" stop-color="#f98b0b"/><stop offset="0.1514" stop-color="#fb9d07"/><stop offset="0.1597" stop-color="#fac026"/><stop offset="0.1681" stop-color="#f3e35a"/><stop offset="0.1708" stop-color="#f2f482"/><stop offset="0.1736" stop-color="#fdffb9"/><stop offset="0.1764" stop-color="#fdffbe"/><stop offset="0.1792" stop-color="#fcffac"/><stop offset="0.1819" stop-color="#f4e156"/><stop offset="0.1875" stop-color="#f9cb35"/><stop offset="0.1903" stop-color="#f7d13d"/><stop offset="0.1931" stop-color="#f1ed71"/><stop offset="0.1958" stop-color="#f1ec6d"/><stop offset="0.1986" stop-color="#fbba1f"/><stop offset="0.2014" stop-color="#f98e09"/><stop offset="0.2125" stop-color="#d94d3d"/><stop offset="0.2208" stop-color="#b43359"/><stop offset="0.2375" stop-color="#7f1e6c"/><stop offset="0.2569" stop-color="#5c126e"/><stop offset="0.2708" stop-color="#59106e"/><stop offset="0.2847" stop-color="#6c186e"/><stop offset="0.2986" stop-color="#972766"/><stop offset="0.3097" stop-color="#c63d4d"/><stop offset="0.3264" stop-color="#f1711f"/><stop offset="0.3292" stop-color="#fa9407"/><stop offset="0.3319" stop-color="#f9cb35"/><stop offset="0.3347" stop-color="#f3e55d"/><stop offset="0.3375" stop-color="#f3e55d"/><stop offset="0.3403" stop-color="#f9cb35"/><stop offset="0.3431" stop-color="#f98e09"/><stop offset="0.3458" stop-color="#ed6925"/><stop offset="0.3625" stop-color="#b63458"/><stop offset="0.3736" stop-color="#8f2469"/><stop offset="0.3819" stop-color="#801f6c"/><stop offset="0.3931" stop-color="#7d1e6d"/><stop offset="0.4042" stop-color="#88226a"/><stop offset="0.4319" stop-color="#cc4248"/><stop offset="0.4347" stop-color="#e45a31"/><stop offset="0.4375" stop-color="#fb9d07"/><stop offset="0.4403" stop-color="#f9c932"/><stop offset="0.4431" stop-color="#f8cd37"/><stop offset="0.4458" stop-color="#fcb418"/><stop offset="0.4486" stop-color="#ef6e21"/><stop offset="0.4514" stop-color="#cc4248"/><stop offset="0.4681" stop-color="#87216b"/><stop offset="0.4792" stop-color="#62146e"/><stop offset="0.4903" stop-color="#4d0d6c"/><stop offset="0.5042" stop-color="#490b6a"/><stop offset="0.5208" stop-color="#520e6d"/><stop offset="0.5847" stop-color="#982766"/><stop offset="0.6069" stop-color="#c73e4c"/><stop offset="0.6292" stop-color="#f1711f"/><stop offset="0.6514" stop-color="#fa9207"/><stop offset="0.6708" stop-color="#fca309"/><stop offset="0.7014" stop-color="#fca108"/><stop offset="0.7208" stop-color="#f98b0b"/><stop offset="0.7375" stop-color="#ee6a24"/><stop offset="0.7625" stop-color="#cb4149"/><stop offset="0.8181" stop-color="#84206b"/><stop offset="0.8653" stop-color="#440a68"/><stop offset="0.9986" stop-color="#390963"/></linearGradient><linearGradient id="g31"><stop offset="0.0014" stop-color="#fdffba"/><stop offset="0.0042" stop-color="#f3e55d"/><stop offset="0.0069" stop-color="#f06f20"/><stop offset="0.0181" stop-color="#b73557"/><stop offset="0.0264" stop-color="#922568"/><stop offset="0.0347" stop-color="#85216b"/><stop offset="0.0875" stop-color="#8d2369"/><stop offset="0.1069" stop-color="#a02a63"/><stop offset="0.1292" stop-color="#e35933"/><stop offset="0.1569" stop-color="#f47918"/><stop offset="0.1681" stop-color="#fb9906"/><stop offset="0.1792" stop-color="#f9c932"/><stop offset="0.1819" stop-color="#f2ea69"/><stop offset="0.1847" stop-color="#fdffb9"/><stop offset="0.1875" stop-color="#fdffbe"/><stop offset="0.1903" stop-color="#fcffa4"/><stop offset="0.1931" stop-color="#fac228"/><stop offset="0.1986" stop-color="#fb9906"/><stop offset="0.2042" stop-color="#f2741c"/><stop offset="0.2208" stop-color="#bc3754"/><stop offset="0.2292" stop-color="#9a2865"/><stop offset="0.2431" stop-color="#71196e"/><stop offset="0.2597" stop-color="#540f6d"/><stop offset="0.2708" stop-color="#540f6d"/><stop offset="0.2792" stop-color="#61136e"/><stop offset="0.2931" stop-color="#8a226a"/><stop offset="0.3042" stop-color="#b63458"/><stop offset="0.3181" stop-color="#e45a31"/><stop offset="0.3319" stop-color="#f47918"/><stop offset="0.3375" stop-color="#fb9706"/><stop offset="0.3403" stop-color="#fca80d"/><stop offset="0.3486" stop-color="#fcb216"/><stop offset="0.3542" stop-color="#fa9207"/><stop offset="0.3597" stop-color="#ed6925"/><stop offset="0.3764" stop-color="#ca404a"/><stop offset="0.3931" stop-color="#a82e5f"/><stop offset="0.4097" stop-color="#a02a63"/><stop offset="0.4347" stop-color="#cb4149"/><stop offset="0.4375" stop-color="#d94d3d"/><stop offset="0.4403" stop-color="#f57b17"/><stop offset="0.4431" stop-color="#fcaa0f"/><stop offset="0.4458" stop-color="#fcb418"/><stop offset="0.4486" stop-color="#fcaa0f"/><stop offset="0.4514" stop-color="#f37819"/><stop offset="0.4542" stop-color="#d24644"/><stop offset="0.4569" stop-color="#bf3952"/><stop offset="0.4681" stop-color="#922568"/><stop offset="0.4819" stop-color="#61136e"/><stop offset="0.5014" stop-color="#490b6a"/><stop offset="0.5514" stop-color="#6d186e"/><stop offset="0.5847" stop-color="#982766"/><stop offset="0.6069" stop-color="#c73e4c"/><stop offset="0.6292" stop-color="#f1711f"/><stop offset="0.6514" stop-color="#fa9207"/><stop offset="0.6708" stop-color="#fca309"/><stop offset="0.7014" stop-color="#fca108"/><stop offset="0.7153" stop-color="#fa9407"/><stop offset="0.7347" stop-color="#f1711f"/><stop offset="0.7542" stop-color="#d74b3f"/><stop offset="0.7819" stop-color="#b43359"/><stop offset="0.7986" stop-color="#ae305c"/><stop offset="0.8375" stop-color="#c63d4d"/><stop offset="0.8569" stop-color="#c43c4e"/><stop offset="0.8681" stop-color="#b43359"/><stop offset="0.8903" stop-color="#69166e"/><stop offset="0.9014" stop-color="#550f6d"/><stop offset="0.9986" stop-color="#390963"/></linearGradient><linearGradient id="g32"><stop offset="0.0014" stop-color="#6f196e"/><stop offset="0.0875" stop-color="#8d2369"/><stop offset="0.1069" stop-color="#a02a63"/><stop offset="0.1236" stop-color="#d74b3f"/><stop offset="0.1319" stop-color="#e75e2e"/><stop offset="0.1653" stop-color="#f57d15"/><stop offset="0.1764" stop-color="#fb9706"/><stop offset="0.1875" stop-color="#fac228"/><stop offset="0.1903" stop-color="#f5db4c"/><stop offset="0.1931" stop-color="#fdffb6"/><stop offset="0.1958" stop-color="#fdffbe"/><stop offset="0.1986" stop-color="#fcffa6"/><stop offset="0.2014" stop-color="#fbb81d"/><stop offset="0.2042" stop-color="#fc9f07"/><stop offset="0.2069" stop-color="#f98b0b"/><stop offset="0.2153" stop-color="#da4e3c"/><stop offset="0.2208" stop-color="#bf3952"/><stop offset="0.2375" stop-color="#84206b"/><stop offset="0.2569" stop-color="#62146e"/><stop offset="0.2736" stop-color="#6a176e"/><stop offset="0.2931" stop-color="#a22b62"/><stop offset="0.3069" stop-color="#cf4446"/><stop offset="0.3181" stop-color="#e65d2f"/><stop offset="0.3486" stop-color="#fa9407"/><stop offset="0.3653" stop-color="#fb9906"/><stop offset="0.3708" stop-color="#f98e09"/><stop offset="0.3792" stop-color="#ef6e21"/><stop offset="0.3875" stop-color="#e65d2f"/><stop offset="0.4208" stop-color="#dd513a"/><stop offset="0.4403" stop-color="#e15635"/><stop offset="0.4431" stop-color="#e65d2f"/><stop offset="0.4486" stop-color="#fb9606"/><stop offset="0.4542" stop-color="#fb9606"/><stop offset="0.4569" stop-color="#f1711f"/><stop offset="0.4597" stop-color="#d54a41"/><stop offset="0.4625" stop-color="#c43c4e"/><stop offset="0.4736" stop-color="#932667"/><stop offset="0.4875" stop-color="#62146e"/><stop offset="0.4958" stop-color="#520e6d"/><stop offset="0.5097" stop-color="#4d0d6c"/><stop offset="0.5514" stop-color="#6d186e"/><stop offset="0.5875" stop-color="#9d2964"/><stop offset="0.6069" stop-color="#c73e4c"/><stop offset="0.6292" stop-color="#f1711f"/><stop offset="0.6514" stop-color="#fa9207"/><stop offset="0.6708" stop-color="#fca309"/><stop offset="0.7069" stop-color="#fb9d07"/><stop offset="0.7208" stop-color="#f98b0b"/><stop offset="0.7347" stop-color="#f1711f"/><stop offset="0.7542" stop-color="#d74b3f"/><stop offset="0.7819" stop-color="#b43359"/><stop offset="0.7986" stop-color="#ae305c"/><stop offset="0.8375" stop-color="#c63d4d"/><stop offset="0.8569" stop-color="#c43c4e"/><stop offset="0.8681" stop-color="#b43359"/><stop offset="0.8903" stop-color="#69166e"/><stop offset="0.9014" stop-color="#550f6d"/><stop offset="0.9986" stop-color="#390963"/></linearGradient><linearGradient id="g33"><stop offset="0.0014" stop-color="#f6d746"/><stop offset="0.0042" stop-color="#fca80d"/><stop offset="0.0069" stop-color="#ec6726"/><stop offset="0.0097" stop-color="#e15635"/><stop offset="0.0236" stop-color="#9a2865"/><stop offset="0.0375" stop-color="#801f6c"/><stop offset="0.0875" stop-color="#7f1e6c"/><stop offset="0.1042" stop-color="#922568"/><stop offset="0.1125" stop-color="#b73557"/><stop offset="0.1208" stop-color="#e15635"/><stop offset="0.1292" stop-color="#f37819"/><stop offset="0.1403" stop-color="#f98b0b"/><stop offset="0.1681" stop-color="#f98e09"/><stop offset="0.1819" stop-color="#fc9f07"/><stop offset="0.1931" stop-color="#fbbe23"/><stop offset="0.1986" stop-color="#f7d340"/><stop offset="0.2014" stop-color="#fcffb0"/><stop offset="0.2042" stop-color="#fdffbe"/><stop offset="0.2069" stop-color="#fcffaf"/><stop offset="0.2097" stop-color="#fbbe23"/><stop offset="0.2125" stop-color="#fc9f07"/><stop offset="0.2153" stop-color="#f8890c"/><stop offset="0.2236" stop-color="#d94d3d"/><stop offset="0.2292" stop-color="#bd3853"/><stop offset="0.2431" stop-color="#82206c"/><stop offset="0.2569" stop-color="#65156e"/><stop offset="0.2764" stop-color="#6f196e"/><stop offset="0.3125" stop-color="#c33b4f"/><stop offset="0.3347" stop-color="#d94d3d"/><stop offset="0.4819" stop-color="#bd3853"/><stop offset="0.4931" stop-color="#b73557"/><stop offset="0.5153" stop-color="#8f2469"/><stop offset="0.5264" stop-color="#87216b"/><stop offset="0.5819" stop-color="#a02a63"/><stop offset="0.5986" stop-color="#b43359"/><stop offset="0.6181" stop-color="#e15635"/><stop offset="0.6319" stop-color="#f3761b"/><stop offset="0.6514" stop-color="#fa9207"/><stop offset="0.6708" stop-color="#fca309"/><stop offset="0.7042" stop-color="#fc9f07"/><stop offset="0.7153" stop-color="#fa9407"/><stop offset="0.7347" stop-color="#f1711f"/><stop offset="0.7514" stop-color="#db503b"/><stop offset="0.7736" stop-color="#c13a50"/><stop offset="0.8069" stop-color="#ae305c"/><stop offset="0.8458" stop-color="#c73e4c"/><stop offset="0.8597" stop-color="#c33b4f"/><stop offset="0.8708" stop-color="#b43359"/><stop offset="0.8903" stop-color="#801f6c"/><stop offset="0.9097" stop-color="#59106e"/><stop offset="0.9986" stop-color="#420a68"/></linearGradient><linearGradient id="g34"><stop offset="0.0014" stop-color="#b43359"/><stop offset="0.0153" stop-color="#7f1e6c"/><stop offset="0.0292" stop-color="#6c186e"/><stop offset="0.0958" stop-color="#6c186e"/><stop offset="0.1042" stop-color="#741a6e"/><stop offset="0.1097" stop-color="#85216b"/><stop offset="0.1153" stop-color="#a62d60"/><stop offset="0.1208" stop-color="#d34743"/><stop offset="0.1292" stop-color="#fa9207"/><stop offset="0.1347" stop-color="#fbbe23"/><stop offset="0.1375" stop-color="#f2e865"/><stop offset="0.1403" stop-color="#fcffa4"/><stop offset="0.1431" stop-color="#fcffa4"/><stop offset="0.1458" stop-color="#f1ec6d"/><stop offset="0.1486" stop-color="#f7d13d"/><stop offset="0.1708" stop-color="#fca309"/><stop offset="0.1847" stop-color="#fb9906"/><stop offset="0.1958" stop-color="#fc9f07"/><stop offset="0.2153" stop-color="#fbbc21"/><stop offset="0.2181" stop-color="#f3f68a"/><stop offset="0.2208" stop-color="#fcffaf"/><stop offset="0.2236" stop-color="#fcffac"/><stop offset="0.2264" stop-color="#f8cd37"/><stop offset="0.2292" stop-color="#fa9008"/><stop offset="0.2375" stop-color="#e45a31"/><stop offset="0.2458" stop-color="#b63458"/><stop offset="0.2542" stop-color="#8f2469"/><stop offset="0.2625" stop-color="#7c1d6d"/><stop offset="0.2792" stop-color="#87216b"/><stop offset="0.3097" stop-color="#c13a50"/><stop offset="0.3458" stop-color="#d44842"/><stop offset="0.4819" stop-color="#bd3853"/><stop offset="0.4931" stop-color="#b73557"/><stop offset="0.5153" stop-color="#8f2469"/><stop offset="0.5264" stop-color="#87216b"/><stop offset="0.5819" stop-color="#a02a63"/><stop offset="0.6069" stop-color="#c73e4c"/><stop offset="0.6292" stop-color="#f1711f"/><stop offset="0.6514" stop-color="#fa9207"/><stop offset="0.6708" stop-color="#fca309"/><stop offset="0.7042" stop-color="#fc9f07"/><stop offset="0.7153" stop-color="#fa9407"/><stop offset="0.7347" stop-color="#f1711f"/><stop offset="0.7514" stop-color="#db503b"/><stop offset="0.7736" stop-color="#c13a50"/><stop offset="0.8069" stop-color="#ae305c"/><stop offset="0.8514" stop-color="#c73e4c"/><stop offset="0.8681" stop-color="#ba3655"/><stop offset="0.9097" stop-color="#6c186e"/><stop offset="0.9986" stop-color="#57106e"/></linearGradient><linearGradient id="g35"><stop offset="0.0014" stop-color="#7f1e6c"/><stop offset="0.0208" stop-color="#7c1d6d"/><stop offset="0.0431" stop-color="#5f136e"/><stop offset="0.0569" stop-color="#59106e"/><stop offset="0.0986" stop-color="#61136e"/><stop offset="0.1125" stop-color="#7d1e6d"/><stop offset="0.1181" stop-color="#9b2964"/><stop offset="0.1236" stop-color="#c73e4c"/><stop offset="0.1292" stop-color="#ec6726"/><stop offset="0.1347" stop-color="#fb9b06"/><stop offset="0.1375" stop-color="#f4df53"/><stop offset="0.1403" stop-color="#fcffad"/><stop offset="0.1431" stop-color="#fcffaf"/><stop offset="0.1458" stop-color="#f3f68a"/><stop offset="0.1486" stop-color="#f8cd37"/><stop offset="0.1736" stop-color="#fca60c"/><stop offset="0.1903" stop-color="#fa9207"/><stop offset="0.2181" stop-color="#d44842"/><stop offset="0.2514" stop-color="#a82e5f"/><stop offset="0.2653" stop-color="#a62d60"/><stop offset="0.2847" stop-color="#ca404a"/><stop offset="0.3069" stop-color="#f1711f"/><stop offset="0.3125" stop-color="#fa9008"/><stop offset="0.3181" stop-color="#fb9b06"/><stop offset="0.3236" stop-color="#fa9008"/><stop offset="0.3292" stop-color="#f06f20"/><stop offset="0.3375" stop-color="#e45a31"/><stop offset="0.3514" stop-color="#b93556"/><stop offset="0.3681" stop-color="#932667"/><stop offset="0.3847" stop-color="#a22b62"/><stop offset="0.4042" stop-color="#d84c3e"/><stop offset="0.4069" stop-color="#e35933"/><stop offset="0.4097" stop-color="#f57d15"/><stop offset="0.4125" stop-color="#fca80d"/><stop offset="0.4153" stop-color="#fcb418"/><stop offset="0.4181" stop-color="#fcb014"/><stop offset="0.4208" stop-color="#fb9606"/><stop offset="0.4236" stop-color="#f06f20"/><stop offset="0.4264" stop-color="#e8602d"/><stop offset="0.4458" stop-color="#d04545"/><stop offset="0.4681" stop-color="#bd3853"/><stop offset="0.5042" stop-color="#b43359"/><stop offset="0.5403" stop-color="#8c2369"/><stop offset="0.5653" stop-color="#85216b"/><stop offset="0.5986" stop-color="#a02a63"/><stop offset="0.6125" stop-color="#c13a50"/><stop offset="0.6375" stop-color="#f2741c"/><stop offset="0.6625" stop-color="#fb9906"/><stop offset="0.6986" stop-color="#fca50a"/><stop offset="0.7236" stop-color="#f98b0b"/><stop offset="0.7375" stop-color="#ed6925"/><stop offset="0.7514" stop-color="#cf4446"/><stop offset="0.7708" stop-color="#b0315b"/><stop offset="0.8347" stop-color="#a82e5f"/><stop offset="0.8597" stop-color="#b93556"/><stop offset="0.9125" stop-color="#6a176e"/><stop offset="0.9319" stop-color="#62146e"/><stop offset="0.9986" stop-color="#69166e"/></linearGradient><linearGradient id="g36"><stop offset="0.0014" stop-color="#4f0d6c"/><stop offset="0.0319" stop-color="#340a5f"/><stop offset="0.0514" stop-color="#310a5c"/><stop offset="0.0986" stop-color="#550f6d"/><stop offset="0.1097" stop-color="#62146e"/><stop offset="0.1181" stop-color="#7c1d6d"/><stop offset="0.1236" stop-color="#9f2a63"/><stop offset="0.1292" stop-color="#cc4248"/><stop offset="0.1375" stop-color="#f98c0a"/><stop offset="0.1403" stop-color="#fca50a"/><stop offset="0.1431" stop-color="#fbbc21"/><stop offset="0.1458" stop-color="#f2f27d"/><stop offset="0.1486" stop-color="#fcffaf"/><stop offset="0.1514" stop-color="#fcffac"/><stop offset="0.1542" stop-color="#f3e55d"/><stop offset="0.1569" stop-color="#f6d543"/><stop offset="0.1597" stop-color="#f7d340"/><stop offset="0.1681" stop-color="#f6d543"/><stop offset="0.1708" stop-color="#f1f179"/><stop offset="0.1736" stop-color="#fcffa4"/><stop offset="0.1764" stop-color="#f6fa96"/><stop offset="0.1792" stop-color="#f6d543"/><stop offset="0.1819" stop-color="#fac62d"/><stop offset="0.1931" stop-color="#fb9d07"/><stop offset="0.2069" stop-color="#e8602d"/><stop offset="0.2181" stop-color="#ce4347"/><stop offset="0.2403" stop-color="#a02a63"/><stop offset="0.2681" stop-color="#751b6e"/><stop offset="0.2792" stop-color="#7c1d6d"/><stop offset="0.2931" stop-color="#b93556"/><stop offset="0.3014" stop-color="#e35933"/><stop offset="0.3097" stop-color="#f78212"/><stop offset="0.3125" stop-color="#fb9b06"/><stop offset="0.3153" stop-color="#fbbe23"/><stop offset="0.3181" stop-color="#f9cb35"/><stop offset="0.3208" stop-color="#f9cb35"/><stop offset="0.3236" stop-color="#fbbe23"/><stop offset="0.3264" stop-color="#fb9b06"/><stop offset="0.3292" stop-color="#f78212"/><stop offset="0.3375" stop-color="#e35933"/><stop offset="0.3458" stop-color="#b63458"/><stop offset="0.3569" stop-color="#771c6d"/><stop offset="0.3681" stop-color="#5c126e"/><stop offset="0.3764" stop-color="#5a116e"/><stop offset="0.3847" stop-color="#67166e"/><stop offset="0.3958" stop-color="#8d2369"/><stop offset="0.4069" stop-color="#c43c4e"/><stop offset="0.4097" stop-color="#d34743"/><stop offset="0.4125" stop-color="#ed6925"/><stop offset="0.4153" stop-color="#fcaa0f"/><stop offset="0.4181" stop-color="#f9cb35"/><stop offset="0.4208" stop-color="#f9cb35"/><stop offset="0.4236" stop-color="#fbb81d"/><stop offset="0.4264" stop-color="#f8850f"/><stop offset="0.4292" stop-color="#eb6628"/><stop offset="0.4319" stop-color="#e65d2f"/><stop offset="0.4542" stop-color="#b93556"/><stop offset="0.4764" stop-color="#9d2964"/><stop offset="0.5542" stop-color="#84206b"/><stop offset="0.5958" stop-color="#a22b62"/><stop offset="0.6153" stop-color="#cc4248"/><stop offset="0.6375" stop-color="#f2741c"/><stop offset="0.6625" stop-color="#fb9906"/><stop offset="0.6986" stop-color="#fca50a"/><stop offset="0.7208" stop-color="#fa9008"/><stop offset="0.7347" stop-color="#f1711f"/><stop offset="0.7542" stop-color="#c73e4c"/><stop offset="0.7764" stop-color="#a22b62"/><stop offset="0.8319" stop-color="#9b2964"/><stop offset="0.8653" stop-color="#b43359"/><stop offset="0.8958" stop-color="#932667"/><stop offset="0.9986" stop-color="#932667"/></linearGradient><linearGradient id="g37"><stop offset="0.0014" stop-color="#4f0d6c"/><stop offset="0.0319" stop-color="#340a5f"/><stop offset="0.0514" stop-color="#310a5c"/><stop offset="0.1097" stop-color="#62146e"/><stop offset="0.1208" stop-color="#88226a"/><stop offset="0.1292" stop-color="#c73e4c"/><stop offset="0.1375" stop-color="#f8890c"/><stop offset="0.1403" stop-color="#fca50a"/><stop offset="0.1458" stop-color="#f7d340"/><stop offset="0.1486" stop-color="#fcffab"/><stop offset="0.1514" stop-color="#fdffbe"/><stop offset="0.1542" stop-color="#fdffb8"/><stop offset="0.1569" stop-color="#f2f27d"/><stop offset="0.1597" stop-color="#f3e35a"/><stop offset="0.1653" stop-color="#f4df53"/><stop offset="0.1736" stop-color="#f2e661"/><stop offset="0.1764" stop-color="#f1f179"/><stop offset="0.1792" stop-color="#fdffb4"/><stop offset="0.1819" stop-color="#fdffbe"/><stop offset="0.1847" stop-color="#fdffb4"/><stop offset="0.1875" stop-color="#f2ea69"/><stop offset="0.1903" stop-color="#f6d746"/><stop offset="0.1986" stop-color="#fca309"/><stop offset="0.2014" stop-color="#f98e09"/><stop offset="0.2097" stop-color="#e75e2e"/><stop offset="0.2181" stop-color="#d04545"/><stop offset="0.2403" stop-color="#a02a63"/><stop offset="0.2681" stop-color="#751b6e"/><stop offset="0.2792" stop-color="#7a1d6d"/><stop offset="0.2847" stop-color="#8c2369"/><stop offset="0.2931" stop-color="#b93556"/><stop offset="0.3014" stop-color="#e55c30"/><stop offset="0.3125" stop-color="#fb9906"/><stop offset="0.3153" stop-color="#fbbe23"/><stop offset="0.3181" stop-color="#f4df53"/><stop offset="0.3208" stop-color="#f2e661"/><stop offset="0.3236" stop-color="#f4e156"/><stop offset="0.3292" stop-color="#fb9906"/><stop offset="0.3319" stop-color="#f68013"/><stop offset="0.3403" stop-color="#dd513a"/><stop offset="0.3514" stop-color="#922568"/><stop offset="0.3625" stop-color="#59106e"/><stop offset="0.3708" stop-color="#450a69"/><stop offset="0.3792" stop-color="#440a68"/><stop offset="0.3875" stop-color="#510e6c"/><stop offset="0.3986" stop-color="#7f1e6c"/><stop offset="0.4097" stop-color="#c33b4f"/><stop offset="0.4125" stop-color="#d34743"/><stop offset="0.4153" stop-color="#eb6429"/><stop offset="0.4181" stop-color="#fcaa0f"/><stop offset="0.4208" stop-color="#f4df53"/><stop offset="0.4236" stop-color="#f2e661"/><stop offset="0.4264" stop-color="#f5d949"/><stop offset="0.4292" stop-color="#fca50a"/><stop offset="0.4319" stop-color="#f1711f"/><stop offset="0.4347" stop-color="#e8602d"/><stop offset="0.4514" stop-color="#bf3952"/><stop offset="0.4708" stop-color="#9b2964"/><stop offset="0.5542" stop-color="#84206b"/><stop offset="0.5958" stop-color="#a22b62"/><stop offset="0.6153" stop-color="#cc4248"/><stop offset="0.6375" stop-color="#f2741c"/><stop offset="0.6625" stop-color="#fb9906"/><stop offset="0.6986" stop-color="#fca50a"/><stop offset="0.7208" stop-color="#fa9008"/><stop offset="0.7347" stop-color="#f1711f"/><stop offset="0.7542" stop-color="#c73e4c"/><stop offset="0.7764" stop-color="#a22b62"/><stop offset="0.8319" stop-color="#9b2964"/><stop offset="0.8653" stop-color="#b43359"/><stop offset="0.8958" stop-color="#932667"/><stop offset="0.9986" stop-color="#932667"/></linearGradient><linearGradient id="g38"><stop offset="0.0014" stop-color="#4f0d6c"/><stop offset="0.0319" stop-color="#340a5f"/><stop offset="0.0514" stop-color="#310a5c"/><stop offset="0.1069" stop-color="#5d126e"/><stop offset="0.1208" stop-color="#82206c"/><stop offset="0.1292" stop-color="#ba3655"/><stop offset="0.1375" stop-color="#f06f20"/><stop offset="0.1403" stop-color="#f8890c"/><stop offset="0.1431" stop-color="#fca309"/><stop offset="0.1486" stop-color="#f9cb35"/><stop offset="0.1514" stop-color="#f4e156"/><stop offset="0.1542" stop-color="#fcffb3"/><stop offset="0.1569" stop-color="#fdffbe"/><stop offset="0.1597" stop-color="#fdffb3"/><stop offset="0.1625" stop-color="#f2e661"/><stop offset="0.1653" stop-color="#f6d746"/><stop offset="0.1736" stop-color="#fbb81d"/><stop offset="0.1819" stop-color="#fca108"/><stop offset="0.1903" stop-color="#fca50a"/><stop offset="0.1958" stop-color="#f98c0a"/><stop offset="0.2042" stop-color="#ef6e21"/><stop offset="0.2125" stop-color="#d84c3e"/><stop offset="0.2208" stop-color="#c13a50"/><stop offset="0.2486" stop-color="#8c2369"/><stop offset="0.2681" stop-color="#6c186e"/><stop offset="0.2819" stop-color="#771c6d"/><stop offset="0.2958" stop-color="#b63458"/><stop offset="0.3042" stop-color="#e15635"/><stop offset="0.3153" stop-color="#fa9008"/><stop offset="0.3181" stop-color="#fbbc21"/><stop offset="0.3208" stop-color="#f4df53"/><stop offset="0.3236" stop-color="#f2e661"/><stop offset="0.3264" stop-color="#f4df53"/><stop offset="0.3292" stop-color="#fbba1f"/><stop offset="0.3319" stop-color="#f98b0b"/><stop offset="0.3431" stop-color="#d54a41"/><stop offset="0.3542" stop-color="#8f2469"/><stop offset="0.3625" stop-color="#65156e"/><stop offset="0.3736" stop-color="#470b6a"/><stop offset="0.3847" stop-color="#3e0966"/><stop offset="0.3931" stop-color="#4f0d6c"/><stop offset="0.4042" stop-color="#87216b"/><stop offset="0.4125" stop-color="#bd3853"/><stop offset="0.4153" stop-color="#cf4446"/><stop offset="0.4181" stop-color="#e8602d"/><stop offset="0.4208" stop-color="#fc9f07"/><stop offset="0.4236" stop-color="#f9c72f"/><stop offset="0.4264" stop-color="#f8cd37"/><stop offset="0.4292" stop-color="#fbbe23"/><stop offset="0.4319" stop-color="#f98c0a"/><stop offset="0.4347" stop-color="#e9612b"/><stop offset="0.4375" stop-color="#df5337"/><stop offset="0.4569" stop-color="#9a2865"/><stop offset="0.4736" stop-color="#741a6e"/><stop offset="0.4986" stop-color="#6f196e"/><stop offset="0.5403" stop-color="#a22b62"/><stop offset="0.6181" stop-color="#b93556"/><stop offset="0.6292" stop-color="#d24644"/><stop offset="0.6403" stop-color="#ee6a24"/><stop offset="0.6542" stop-color="#f98e09"/><stop offset="0.6764" stop-color="#fca309"/><stop offset="0.7042" stop-color="#fca309"/><stop offset="0.7208" stop-color="#fa9008"/><stop offset="0.7375" stop-color="#ed6925"/><stop offset="0.7625" stop-color="#ab2f5e"/><stop offset="0.7819" stop-color="#801f6c"/><stop offset="0.8264" stop-color="#5d126e"/><stop offset="0.8403" stop-color="#61136e"/><stop offset="0.8625" stop-color="#7d1e6d"/><stop offset="0.9069" stop-color="#6c186e"/><stop offset="0.9375" stop-color="#801f6c"/><stop offset="0.9625" stop-color="#6c186e"/><stop offset="0.9986" stop-color="#6a176e"/></linearGradient><linearGradient id="g39"><stop offset="0.0014" stop-color="#4f0d6c"/><stop offset="0.0319" stop-color="#340a5f"/><stop offset="0.0514" stop-color="#310a5c"/><stop offset="0.1042" stop-color="#5a116e"/><stop offset="0.1181" stop-color="#751b6e"/><stop offset="0.1264" stop-color="#a22b62"/><stop offset="0.1319" stop-color="#cb4149"/><stop offset="0.1375" stop-color="#ec6726"/><stop offset="0.1431" stop-color="#fb9606"/><stop offset="0.1458" stop-color="#fca80d"/><stop offset="0.1514" stop-color="#f9c932"/><stop offset="0.1542" stop-color="#f3f68a"/><stop offset="0.1569" stop-color="#fcffaf"/><stop offset="0.1597" stop-color="#fcffad"/><stop offset="0.1625" stop-color="#f2e865"/><stop offset="0.1653" stop-color="#f6d746"/><stop offset="0.1708" stop-color="#f6d746"/><stop offset="0.1819" stop-color="#f2e865"/><stop offset="0.1847" stop-color="#fcffab"/><stop offset="0.1875" stop-color="#fdffbe"/><stop offset="0.1903" stop-color="#fdffba"/><stop offset="0.1931" stop-color="#f1f179"/><stop offset="0.1958" stop-color="#f8cf3a"/><stop offset="0.2014" stop-color="#fca50a"/><stop offset="0.2042" stop-color="#f98c0a"/><stop offset="0.2097" stop-color="#ea632a"/><stop offset="0.2181" stop-color="#cb4149"/><stop offset="0.2375" stop-color="#a22b62"/><stop offset="0.2681" stop-color="#6c186e"/><stop offset="0.2819" stop-color="#721a6e"/><stop offset="0.2958" stop-color="#b0315b"/><stop offset="0.3069" stop-color="#e8602d"/><stop offset="0.3181" stop-color="#fb9b06"/><stop offset="0.3236" stop-color="#f2ea69"/><stop offset="0.3264" stop-color="#f1ef75"/><stop offset="0.3292" stop-color="#f2e661"/><stop offset="0.3319" stop-color="#fbba1f"/><stop offset="0.3347" stop-color="#f8870e"/><stop offset="0.3375" stop-color="#f06f20"/><stop offset="0.3486" stop-color="#bd3853"/><stop offset="0.3597" stop-color="#7a1d6d"/><stop offset="0.3736" stop-color="#490b6a"/><stop offset="0.3847" stop-color="#3d0965"/><stop offset="0.3958" stop-color="#540f6d"/><stop offset="0.4042" stop-color="#84206b"/><stop offset="0.4097" stop-color="#ad305d"/><stop offset="0.4181" stop-color="#e05536"/><stop offset="0.4208" stop-color="#f57b17"/><stop offset="0.4236" stop-color="#fac42a"/><stop offset="0.4264" stop-color="#f1ec6d"/><stop offset="0.4292" stop-color="#f1ef75"/><stop offset="0.4319" stop-color="#f5db4c"/><stop offset="0.4347" stop-color="#fb9b06"/><stop offset="0.4375" stop-color="#ee6a24"/><stop offset="0.4486" stop-color="#ca404a"/><stop offset="0.4625" stop-color="#922568"/><stop offset="0.4792" stop-color="#721a6e"/><stop offset="0.5042" stop-color="#741a6e"/><stop offset="0.5514" stop-color="#a82e5f"/><stop offset="0.6181" stop-color="#b93556"/><stop offset="0.6292" stop-color="#d24644"/><stop offset="0.6403" stop-color="#ee6a24"/><stop offset="0.6542" stop-color="#f98e09"/><stop offset="0.6764" stop-color="#fca309"/><stop offset="0.7042" stop-color="#fca309"/><stop offset="0.7208" stop-color="#fa9008"/><stop offset="0.7375" stop-color="#ed6925"/><stop offset="0.7625" stop-color="#ab2f5e"/><stop offset="0.7819" stop-color="#7f1e6c"/><stop offset="0.8264" stop-color="#550f6d"/><stop offset="0.8653" stop-color="#7c1d6d"/><stop offset="0.9069" stop-color="#6c186e"/><stop offset="0.9347" stop-color="#84206b"/><stop offset="0.9625" stop-color="#6c186e"/><stop offset="0.9986" stop-color="#6a176e"/></linearGradient><linearGradient id="g40"><stop offset="0.0014" stop-color="#4f0d6c"/><stop offset="0.0319" stop-color="#340a5f"/><stop offset="0.0514" stop-color="#310a5c"/><stop offset="0.1069" stop-color="#5d126e"/><stop offset="0.1208" stop-color="#7f1e6c"/><stop offset="0.1292" stop-color="#b1325a"/><stop offset="0.1375" stop-color="#e65d2f"/><stop offset="0.1458" stop-color="#fb9906"/><stop offset="0.1569" stop-color="#f4df53"/><stop offset="0.1597" stop-color="#fcffa9"/><stop offset="0.1625" stop-color="#fdffbe"/><stop offset="0.1653" stop-color="#fdffba"/><stop offset="0.1708" stop-color="#f2ea69"/><stop offset="0.1792" stop-color="#f3e35a"/><stop offset="0.1819" stop-color="#f3e55d"/><stop offset="0.1847" stop-color="#f8fb9a"/><stop offset="0.1875" stop-color="#fcffaf"/><stop offset="0.1903" stop-color="#fcffac"/><stop offset="0.1931" stop-color="#f4e156"/><stop offset="0.1958" stop-color="#fac228"/><stop offset="0.2014" stop-color="#fb9b06"/><stop offset="0.2125" stop-color="#de5238"/><stop offset="0.2208" stop-color="#c33b4f"/><stop offset="0.2458" stop-color="#922568"/><stop offset="0.2681" stop-color="#6a176e"/><stop offset="0.2792" stop-color="#6c186e"/><stop offset="0.2875" stop-color="#82206c"/><stop offset="0.2931" stop-color="#9d2964"/><stop offset="0.3069" stop-color="#e65d2f"/><stop offset="0.3181" stop-color="#fa9008"/><stop offset="0.3208" stop-color="#fbb61a"/><stop offset="0.3236" stop-color="#f4e156"/><stop offset="0.3264" stop-color="#f1ef75"/><stop offset="0.3292" stop-color="#f1ec6d"/><stop offset="0.3319" stop-color="#f8cf3a"/><stop offset="0.3347" stop-color="#fb9606"/><stop offset="0.3375" stop-color="#f2741c"/><stop offset="0.3403" stop-color="#ea632a"/><stop offset="0.3542" stop-color="#9d2964"/><stop offset="0.3625" stop-color="#6f196e"/><stop offset="0.3764" stop-color="#440a68"/><stop offset="0.3847" stop-color="#390963"/><stop offset="0.3931" stop-color="#420a68"/><stop offset="0.4042" stop-color="#781c6d"/><stop offset="0.4153" stop-color="#ca404a"/><stop offset="0.4208" stop-color="#e65d2f"/><stop offset="0.4236" stop-color="#f8850f"/><stop offset="0.4264" stop-color="#f9cb35"/><stop offset="0.4292" stop-color="#f1ed71"/><stop offset="0.4319" stop-color="#f1ed71"/><stop offset="0.4347" stop-color="#f6d746"/><stop offset="0.4375" stop-color="#fa9407"/><stop offset="0.4403" stop-color="#eb6628"/><stop offset="0.4486" stop-color="#d04545"/><stop offset="0.4625" stop-color="#982766"/><stop offset="0.4792" stop-color="#741a6e"/><stop offset="0.5042" stop-color="#741a6e"/><stop offset="0.5514" stop-color="#a82e5f"/><stop offset="0.6181" stop-color="#b93556"/><stop offset="0.6292" stop-color="#d24644"/><stop offset="0.6403" stop-color="#ee6a24"/><stop offset="0.6542" stop-color="#f98e09"/><stop offset="0.6764" stop-color="#fca309"/><stop offset="0.7042" stop-color="#fca309"/><stop offset="0.7208" stop-color="#fa9008"/><stop offset="0.7375" stop-color="#ed6925"/><stop offset="0.7625" stop-color="#ab2f5e"/><stop offset="0.7847" stop-color="#7a1d6d"/><stop offset="0.8264" stop-color="#4d0d6c"/><stop offset="0.8653" stop-color="#7a1d6d"/><stop offset="0.9042" stop-color="#6c186e"/><stop offset="0.9375" stop-color="#85216b"/><stop offset="0.9625" stop-color="#6c186e"/><stop offset="0.9986" stop-color="#6a176e"/></linearGradient><linearGradient id="g41"><stop offset="0.0014" stop-color="#4f0d6c"/><stop offset="0.0319" stop-color="#340a5f"/><stop offset="0.0514" stop-color="#310a5c"/><stop offset="0.1042" stop-color="#5a116e"/><stop offset="0.1181" stop-color="#741a6e"/><stop offset="0.1264" stop-color="#9b2964"/><stop offset="0.1347" stop-color="#d04545"/><stop offset="0.1431" stop-color="#ef6e21"/><stop offset="0.1542" stop-color="#f98e09"/><stop offset="0.1653" stop-color="#fca50a"/><stop offset="0.1903" stop-color="#f98b0b"/><stop offset="0.2069" stop-color="#e15635"/><stop offset="0.2208" stop-color="#c03a51"/><stop offset="0.2653" stop-color="#6d186e"/><stop offset="0.2819" stop-color="#6d186e"/><stop offset="0.2958" stop-color="#a52c60"/><stop offset="0.3069" stop-color="#e05536"/><stop offset="0.3208" stop-color="#f98c0a"/><stop offset="0.3236" stop-color="#fcaa0f"/><stop offset="0.3264" stop-color="#f6d543"/><stop offset="0.3292" stop-color="#f3e55d"/><stop offset="0.3319" stop-color="#f3e55d"/><stop offset="0.3347" stop-color="#f9c932"/><stop offset="0.3375" stop-color="#fa9008"/><stop offset="0.3403" stop-color="#ed6925"/><stop offset="0.3431" stop-color="#e35933"/><stop offset="0.3569" stop-color="#952667"/><stop offset="0.3681" stop-color="#5f136e"/><stop offset="0.3792" stop-color="#3e0966"/><stop offset="0.3903" stop-color="#380962"/><stop offset="0.3986" stop-color="#4d0d6c"/><stop offset="0.4069" stop-color="#7f1e6c"/><stop offset="0.4181" stop-color="#cf4446"/><stop offset="0.4236" stop-color="#e8602d"/><stop offset="0.4264" stop-color="#f8890c"/><stop offset="0.4292" stop-color="#f9c932"/><stop offset="0.4319" stop-color="#f3e55d"/><stop offset="0.4347" stop-color="#f3e55d"/><stop offset="0.4375" stop-color="#f9c72f"/><stop offset="0.4403" stop-color="#f8850f"/><stop offset="0.4431" stop-color="#e75e2e"/><stop offset="0.4458" stop-color="#de5238"/><stop offset="0.4625" stop-color="#9f2a63"/><stop offset="0.4736" stop-color="#7f1e6c"/><stop offset="0.4819" stop-color="#741a6e"/><stop offset="0.5042" stop-color="#741a6e"/><stop offset="0.5514" stop-color="#a82e5f"/><stop offset="0.6181" stop-color="#b93556"/><stop offset="0.6292" stop-color="#d24644"/><stop offset="0.6403" stop-color="#ee6a24"/><stop offset="0.6542" stop-color="#f98e09"/><stop offset="0.6764" stop-color="#fca309"/><stop offset="0.7042" stop-color="#fca309"/><stop offset="0.7208" stop-color="#fa9008"/><stop offset="0.7375" stop-color="#ed6925"/><stop offset="0.7625" stop-color="#ab2f5e"/><stop offset="0.7847" stop-color="#7a1d6d"/><stop offset="0.8264" stop-color="#4d0d6c"/><stop offset="0.8625" stop-color="#771c6d"/><stop offset="0.9042" stop-color="#6c186e"/><stop offset="0.9319" stop-color="#85216b"/><stop offset="0.9625" stop-color="#6c186e"/><stop offset="0.9986" stop-color="#6a176e"/></linearGradient><linearGradient id="g42"><stop offset="0.0014" stop-color="#fcffa4"/><stop offset="0.0042" stop-color="#fbb61a"/><stop offset="0.0069" stop-color="#d84c3e"/><stop offset="0.0181" stop-color="#85216b"/><stop offset="0.0236" stop-color="#5f136e"/><stop offset="0.0319" stop-color="#3e0966"/><stop offset="0.0514" stop-color="#310a5c"/><stop offset="0.1042" stop-color="#5a116e"/><stop offset="0.1181" stop-color="#741a6e"/><stop offset="0.1264" stop-color="#9b2964"/><stop offset="0.1375" stop-color="#df5337"/><stop offset="0.1458" stop-color="#f78212"/><stop offset="0.1514" stop-color="#fb9d07"/><stop offset="0.1625" stop-color="#f8cd37"/><stop offset="0.1653" stop-color="#f1ed71"/><stop offset="0.1681" stop-color="#fcffae"/><stop offset="0.1708" stop-color="#fcffae"/><stop offset="0.1736" stop-color="#f1ed71"/><stop offset="0.1764" stop-color="#f6d746"/><stop offset="0.1792" stop-color="#f7d13d"/><stop offset="0.1875" stop-color="#f9c72f"/><stop offset="0.1903" stop-color="#f6d746"/><stop offset="0.1931" stop-color="#f1ed71"/><stop offset="0.1958" stop-color="#f1ec6d"/><stop offset="0.1986" stop-color="#fac026"/><stop offset="0.2014" stop-color="#fca108"/><stop offset="0.2042" stop-color="#fa9008"/><stop offset="0.2125" stop-color="#e65d2f"/><stop offset="0.2208" stop-color="#c83f4b"/><stop offset="0.2403" stop-color="#9d2964"/><stop offset="0.2708" stop-color="#67166e"/><stop offset="0.2819" stop-color="#6a176e"/><stop offset="0.2903" stop-color="#82206c"/><stop offset="0.2958" stop-color="#9f2a63"/><stop offset="0.3097" stop-color="#e55c30"/><stop offset="0.3236" stop-color="#f98c0a"/><stop offset="0.3264" stop-color="#fca60c"/><stop offset="0.3292" stop-color="#f6d543"/><stop offset="0.3319" stop-color="#f1ed71"/><stop offset="0.3347" stop-color="#f1ed71"/><stop offset="0.3375" stop-color="#f5d949"/><stop offset="0.3403" stop-color="#fb9b06"/><stop offset="0.3431" stop-color="#ed6925"/><stop offset="0.3514" stop-color="#c63d4d"/><stop offset="0.3653" stop-color="#771c6d"/><stop offset="0.3819" stop-color="#390963"/><stop offset="0.3931" stop-color="#320a5e"/><stop offset="0.4014" stop-color="#4c0c6b"/><stop offset="0.4125" stop-color="#9a2865"/><stop offset="0.4208" stop-color="#d34743"/><stop offset="0.4264" stop-color="#e75e2e"/><stop offset="0.4292" stop-color="#ef6e21"/><stop offset="0.4319" stop-color="#fb9d07"/><stop offset="0.4347" stop-color="#f5db4c"/><stop offset="0.4375" stop-color="#f1ef75"/><stop offset="0.4403" stop-color="#f1ec6d"/><stop offset="0.4431" stop-color="#fac42a"/><stop offset="0.4458" stop-color="#f57d15"/><stop offset="0.4486" stop-color="#e45a31"/><stop offset="0.4514" stop-color="#da4e3c"/><stop offset="0.4681" stop-color="#9d2964"/><stop offset="0.4875" stop-color="#741a6e"/><stop offset="0.5014" stop-color="#721a6e"/><stop offset="0.5514" stop-color="#a82e5f"/><stop offset="0.6181" stop-color="#b93556"/><stop offset="0.6292" stop-color="#d24644"/><stop offset="0.6403" stop-color="#ee6a24"/><stop offset="0.6542" stop-color="#f98e09"/><stop offset="0.6764" stop-color="#fca309"/><stop offset="0.7042" stop-color="#fca309"/><stop offset="0.7208" stop-color="#fa9008"/><stop offset="0.7375" stop-color="#ed6925"/><stop offset="0.7625" stop-color="#ab2f5e"/><stop offset="0.7847" stop-color="#7a1d6d"/><stop offset="0.8264" stop-color="#4d0d6c"/><stop offset="0.8653" stop-color="#751b6e"/><stop offset="0.9042" stop-color="#6c186e"/><stop offset="0.9319" stop-color="#85216b"/><stop offset="0.9625" stop-color="#6c186e"/><stop offset="0.9986" stop-color="#6a176e"/></linearGradient><linearGradient id="g43"><stop offset="0.0014" stop-color="#fdffba"/><stop offset="0.0042" stop-color="#f5d949"/><stop offset="0.0069" stop-color="#e25734"/><stop offset="0.0097" stop-color="#cf4446"/><stop offset="0.0181" stop-color="#8f2469"/><stop offset="0.0264" stop-color="#5c126e"/><stop offset="0.0375" stop-color="#450a69"/><stop offset="0.0958" stop-color="#490b6a"/><stop offset="0.1014" stop-color="#57106e"/><stop offset="0.1097" stop-color="#87216b"/><stop offset="0.1181" stop-color="#c83f4b"/><stop offset="0.1236" stop-color="#e45a31"/><stop offset="0.1347" stop-color="#f57b17"/><stop offset="0.1542" stop-color="#fb9906"/><stop offset="0.1597" stop-color="#fcaa0f"/><stop offset="0.1681" stop-color="#f9cb35"/><stop offset="0.1708" stop-color="#f4df53"/><stop offset="0.1736" stop-color="#fcffaa"/><stop offset="0.1764" stop-color="#fcffaf"/><stop offset="0.1792" stop-color="#f6fa96"/><stop offset="0.1819" stop-color="#f5d949"/><stop offset="0.1875" stop-color="#f7d13d"/><stop offset="0.1931" stop-color="#f1ef75"/><stop offset="0.1958" stop-color="#f3e55d"/><stop offset="0.1986" stop-color="#fbb81d"/><stop offset="0.2014" stop-color="#fca50a"/><stop offset="0.2042" stop-color="#fb9606"/><stop offset="0.2125" stop-color="#ed6925"/><stop offset="0.2264" stop-color="#c73e4c"/><stop offset="0.2458" stop-color="#771c6d"/><stop offset="0.2597" stop-color="#5f136e"/><stop offset="0.2708" stop-color="#62146e"/><stop offset="0.2875" stop-color="#7c1d6d"/><stop offset="0.3042" stop-color="#a52c60"/><stop offset="0.3153" stop-color="#ce4347"/><stop offset="0.3264" stop-color="#f3761b"/><stop offset="0.3292" stop-color="#fb9b06"/><stop offset="0.3319" stop-color="#f8cf3a"/><stop offset="0.3347" stop-color="#f3e55d"/><stop offset="0.3375" stop-color="#f3e55d"/><stop offset="0.3403" stop-color="#f7d13d"/><stop offset="0.3431" stop-color="#fc9f07"/><stop offset="0.3458" stop-color="#f47918"/><stop offset="0.3486" stop-color="#ec6726"/><stop offset="0.3542" stop-color="#d54a41"/><stop offset="0.3625" stop-color="#9f2a63"/><stop offset="0.3736" stop-color="#65156e"/><stop offset="0.3847" stop-color="#510e6c"/><stop offset="0.3986" stop-color="#59106e"/><stop offset="0.4069" stop-color="#6f196e"/><stop offset="0.4181" stop-color="#9d2964"/><stop offset="0.4292" stop-color="#d24644"/><stop offset="0.4319" stop-color="#ea632a"/><stop offset="0.4347" stop-color="#fcac11"/><stop offset="0.4375" stop-color="#f4e156"/><stop offset="0.4403" stop-color="#f2e661"/><stop offset="0.4431" stop-color="#f7d13d"/><stop offset="0.4458" stop-color="#f8890c"/><stop offset="0.4486" stop-color="#d94d3d"/><stop offset="0.4514" stop-color="#c43c4e"/><stop offset="0.4681" stop-color="#741a6e"/><stop offset="0.4847" stop-color="#4a0c6b"/><stop offset="0.5014" stop-color="#440a68"/><stop offset="0.5319" stop-color="#4f0d6c"/><stop offset="0.5486" stop-color="#69166e"/><stop offset="0.5681" stop-color="#a22b62"/><stop offset="0.6181" stop-color="#bd3853"/><stop offset="0.6292" stop-color="#d34743"/><stop offset="0.6431" stop-color="#f1731d"/><stop offset="0.6542" stop-color="#f98c0a"/><stop offset="0.6653" stop-color="#fb9d07"/><stop offset="0.6958" stop-color="#fca50a"/><stop offset="0.7153" stop-color="#fa9207"/><stop offset="0.7319" stop-color="#f1731d"/><stop offset="0.7486" stop-color="#d54a41"/><stop offset="0.7625" stop-color="#a92e5e"/><stop offset="0.7819" stop-color="#741a6e"/><stop offset="0.8153" stop-color="#67166e"/><stop offset="0.8347" stop-color="#520e6d"/><stop offset="0.8708" stop-color="#6a176e"/><stop offset="0.8931" stop-color="#69166e"/><stop offset="0.9208" stop-color="#550f6d"/><stop offset="0.9319" stop-color="#69166e"/><stop offset="0.9458" stop-color="#902568"/><stop offset="0.9542" stop-color="#9a2865"/><stop offset="0.9819" stop-color="#6f196e"/><stop offset="0.9986" stop-color="#6a176e"/></linearGradient><linearGradient id="g44"><stop offset="0.0014" stop-color="#f6d746"/><stop offset="0.0042" stop-color="#f98c0a"/><stop offset="0.0069" stop-color="#c43c4e"/><stop offset="0.0153" stop-color="#8f2469"/><stop offset="0.0236" stop-color="#61136e"/><stop offset="0.0375" stop-color="#440a68"/><stop offset="0.0958" stop-color="#490b6a"/><stop offset="0.1014" stop-color="#57106e"/><stop offset="0.1097" stop-color="#87216b"/><stop offset="0.1181" stop-color="#c83f4b"/><stop offset="0.1236" stop-color="#e45a31"/><stop offset="0.1347" stop-color="#f57b17"/><stop offset="0.1514" stop-color="#f8870e"/><stop offset="0.1625" stop-color="#fb9b06"/><stop offset="0.1681" stop-color="#fcaa0f"/><stop offset="0.1764" stop-color="#f9c72f"/><stop offset="0.1792" stop-color="#f5db4c"/><stop offset="0.1819" stop-color="#fcffaa"/><stop offset="0.1847" stop-color="#fcffaf"/><stop offset="0.1875" stop-color="#f5f992"/><stop offset="0.1903" stop-color="#f9c72f"/><stop offset="0.1986" stop-color="#fb9b06"/><stop offset="0.2069" stop-color="#f1711f"/><stop offset="0.2236" stop-color="#cf4446"/><stop offset="0.2458" stop-color="#771c6d"/><stop offset="0.2597" stop-color="#5f136e"/><stop offset="0.2819" stop-color="#6f196e"/><stop offset="0.3014" stop-color="#952667"/><stop offset="0.3125" stop-color="#b73557"/><stop offset="0.3264" stop-color="#eb6429"/><stop offset="0.3319" stop-color="#f68013"/><stop offset="0.3347" stop-color="#fb9d07"/><stop offset="0.3375" stop-color="#fac026"/><stop offset="0.3403" stop-color="#f8cd37"/><stop offset="0.3431" stop-color="#f8cd37"/><stop offset="0.3458" stop-color="#fac026"/><stop offset="0.3486" stop-color="#fca50a"/><stop offset="0.3514" stop-color="#f98e09"/><stop offset="0.3625" stop-color="#e45a31"/><stop offset="0.3736" stop-color="#a32c61"/><stop offset="0.3819" stop-color="#781c6d"/><stop offset="0.3903" stop-color="#67166e"/><stop offset="0.3986" stop-color="#67166e"/><stop offset="0.4097" stop-color="#7c1d6d"/><stop offset="0.4208" stop-color="#a32c61"/><stop offset="0.4319" stop-color="#d24644"/><stop offset="0.4347" stop-color="#e35933"/><stop offset="0.4375" stop-color="#fa9008"/><stop offset="0.4403" stop-color="#fac42a"/><stop offset="0.4431" stop-color="#f8cd37"/><stop offset="0.4458" stop-color="#fac42a"/><stop offset="0.4486" stop-color="#fa9008"/><stop offset="0.4514" stop-color="#e35933"/><stop offset="0.4542" stop-color="#cf4446"/><stop offset="0.4653" stop-color="#982766"/><stop offset="0.4764" stop-color="#6a176e"/><stop offset="0.4931" stop-color="#4a0c6b"/><stop offset="0.5347" stop-color="#510e6c"/><stop offset="0.5736" stop-color="#952667"/><stop offset="0.6208" stop-color="#b0315b"/><stop offset="0.6319" stop-color="#d24644"/><stop offset="0.6431" stop-color="#ef6e21"/><stop offset="0.6569" stop-color="#fa9207"/><stop offset="0.6708" stop-color="#fca108"/><stop offset="0.7069" stop-color="#fb9d07"/><stop offset="0.7236" stop-color="#f8850f"/><stop offset="0.7375" stop-color="#eb6628"/><stop offset="0.7514" stop-color="#ce4347"/><stop offset="0.7681" stop-color="#952667"/><stop offset="0.7819" stop-color="#721a6e"/><stop offset="0.7958" stop-color="#67166e"/><stop offset="0.9986" stop-color="#5f136e"/></linearGradient><linearGradient id="g45"><stop offset="0.0014" stop-color="#420a68"/><stop offset="0.0847" stop-color="#450a69"/><stop offset="0.0931" stop-color="#57106e"/><stop offset="0.1014" stop-color="#801f6c"/><stop offset="0.1125" stop-color="#ca404a"/><stop offset="0.1208" stop-color="#e45a31"/><stop offset="0.1625" stop-color="#f3761b"/><stop offset="0.1764" stop-color="#fc9f07"/><stop offset="0.1847" stop-color="#fac62d"/><stop offset="0.1875" stop-color="#f5db4c"/><stop offset="0.1903" stop-color="#fdffb4"/><stop offset="0.1931" stop-color="#fdffbe"/><stop offset="0.1958" stop-color="#fcffad"/><stop offset="0.1986" stop-color="#f9c932"/><stop offset="0.2042" stop-color="#fca108"/><stop offset="0.2069" stop-color="#f98e09"/><stop offset="0.2125" stop-color="#ee6a24"/><stop offset="0.2208" stop-color="#d54a41"/><stop offset="0.2403" stop-color="#9b2964"/><stop offset="0.2542" stop-color="#7d1e6d"/><stop offset="0.2708" stop-color="#801f6c"/><stop offset="0.3014" stop-color="#ae305c"/><stop offset="0.3208" stop-color="#e25734"/><stop offset="0.3347" stop-color="#f57d15"/><stop offset="0.3569" stop-color="#f68013"/><stop offset="0.3903" stop-color="#d84c3e"/><stop offset="0.4125" stop-color="#ce4347"/><stop offset="0.4375" stop-color="#e15635"/><stop offset="0.4458" stop-color="#f78212"/><stop offset="0.4486" stop-color="#f78410"/><stop offset="0.4514" stop-color="#f57d15"/><stop offset="0.4569" stop-color="#d74b3f"/><stop offset="0.4597" stop-color="#ca404a"/><stop offset="0.4736" stop-color="#8f2469"/><stop offset="0.4903" stop-color="#5a116e"/><stop offset="0.5097" stop-color="#440a68"/><stop offset="0.5319" stop-color="#420a68"/><stop offset="0.5431" stop-color="#4a0c6b"/><stop offset="0.5681" stop-color="#8d2369"/><stop offset="0.6181" stop-color="#ab2f5e"/><stop offset="0.6319" stop-color="#d24644"/><stop offset="0.6458" stop-color="#f37819"/><stop offset="0.6542" stop-color="#f98c0a"/><stop offset="0.6653" stop-color="#fb9d07"/><stop offset="0.7014" stop-color="#fca108"/><stop offset="0.7181" stop-color="#f98e09"/><stop offset="0.7375" stop-color="#eb6628"/><stop offset="0.7514" stop-color="#ce4347"/><stop offset="0.7681" stop-color="#952667"/><stop offset="0.7819" stop-color="#721a6e"/><stop offset="0.7958" stop-color="#67166e"/><stop offset="0.9986" stop-color="#5f136e"/></linearGradient><linearGradient id="g46"><stop offset="0.0014" stop-color="#84206b"/><stop offset="0.0125" stop-color="#59106e"/><stop offset="0.0208" stop-color="#470b6a"/><stop offset="0.0931" stop-color="#470b6a"/><stop offset="0.1014" stop-color="#5a116e"/><stop offset="0.1097" stop-color="#8a226a"/><stop offset="0.1208" stop-color="#d84c3e"/><stop offset="0.1236" stop-color="#f06f20"/><stop offset="0.1264" stop-color="#f37819"/><stop offset="0.1319" stop-color="#ee6a24"/><stop offset="0.1431" stop-color="#f78410"/><stop offset="0.1708" stop-color="#f98b0b"/><stop offset="0.1819" stop-color="#fb9d07"/><stop offset="0.1931" stop-color="#fbbc21"/><stop offset="0.1958" stop-color="#f2e865"/><stop offset="0.1986" stop-color="#fcffa4"/><stop offset="0.2014" stop-color="#f4f88e"/><stop offset="0.2042" stop-color="#fac026"/><stop offset="0.2069" stop-color="#fca60c"/><stop offset="0.2097" stop-color="#fb9706"/><stop offset="0.2181" stop-color="#eb6628"/><stop offset="0.2264" stop-color="#d24644"/><stop offset="0.2347" stop-color="#bc3754"/><stop offset="0.2569" stop-color="#a02a63"/><stop offset="0.2681" stop-color="#9b2964"/><stop offset="0.2819" stop-color="#a62d60"/><stop offset="0.3069" stop-color="#df5337"/><stop offset="0.3181" stop-color="#ed6925"/><stop offset="0.3319" stop-color="#f2741c"/><stop offset="0.3653" stop-color="#f1711f"/><stop offset="0.3847" stop-color="#e45a31"/><stop offset="0.4014" stop-color="#ba3655"/><stop offset="0.4125" stop-color="#a62d60"/><stop offset="0.5375" stop-color="#6d186e"/><stop offset="0.5819" stop-color="#6c186e"/><stop offset="0.5931" stop-color="#771c6d"/><stop offset="0.6042" stop-color="#982766"/><stop offset="0.6208" stop-color="#d74b3f"/><stop offset="0.6347" stop-color="#f1711f"/><stop offset="0.6514" stop-color="#f98e09"/><stop offset="0.6653" stop-color="#fc9f07"/><stop offset="0.6958" stop-color="#fca50a"/><stop offset="0.7181" stop-color="#f98e09"/><stop offset="0.7375" stop-color="#eb6628"/><stop offset="0.7486" stop-color="#d54a41"/><stop offset="0.7625" stop-color="#a92e5e"/><stop offset="0.7819" stop-color="#721a6e"/><stop offset="0.8292" stop-color="#5f136e"/><stop offset="0.9986" stop-color="#5f136e"/></linearGradient><linearGradient id="g47"><stop offset="0.0014" stop-color="#84206b"/><stop offset="0.0153" stop-color="#510e6c"/><stop offset="0.0292" stop-color="#420a68"/><stop offset="0.0903" stop-color="#420a68"/><stop offset="0.1042" stop-color="#550f6d"/><stop offset="0.1097" stop-color="#6f196e"/><stop offset="0.1153" stop-color="#9a2865"/><stop offset="0.1236" stop-color="#df5337"/><stop offset="0.1319" stop-color="#fb9706"/><stop offset="0.1347" stop-color="#f8cd37"/><stop offset="0.1375" stop-color="#f6d746"/><stop offset="0.1431" stop-color="#fca60c"/><stop offset="0.1625" stop-color="#f98e09"/><stop offset="0.2014" stop-color="#f98e09"/><stop offset="0.2097" stop-color="#fca50a"/><stop offset="0.2153" stop-color="#fc9f07"/><stop offset="0.2208" stop-color="#f37819"/><stop offset="0.2347" stop-color="#db503b"/><stop offset="0.2569" stop-color="#b63458"/><stop offset="0.3042" stop-color="#cc4248"/><stop offset="0.3653" stop-color="#cc4248"/><stop offset="0.4264" stop-color="#a32c61"/><stop offset="0.5153" stop-color="#771c6d"/><stop offset="0.5736" stop-color="#6a176e"/><stop offset="0.5903" stop-color="#721a6e"/><stop offset="0.6042" stop-color="#982766"/><stop offset="0.6208" stop-color="#d74b3f"/><stop offset="0.6347" stop-color="#f1711f"/><stop offset="0.6514" stop-color="#f98e09"/><stop offset="0.6653" stop-color="#fc9f07"/><stop offset="0.6958" stop-color="#fca50a"/><stop offset="0.7181" stop-color="#f98e09"/><stop offset="0.7375" stop-color="#eb6628"/><stop offset="0.7486" stop-color="#d54a41"/><stop offset="0.7625" stop-color="#a92e5e"/><stop offset="0.7819" stop-color="#721a6e"/><stop offset="0.8292" stop-color="#5f136e"/><stop offset="0.9986" stop-color="#5f136e"/></linearGradient><linearGradient id="g48"><stop offset="0.0014" stop-color="#390963"/><stop offset="0.0931" stop-color="#400a67"/><stop offset="0.1069" stop-color="#510e6c"/><stop offset="0.1125" stop-color="#65156e"/><stop offset="0.1208" stop-color="#9d2964"/><stop offset="0.1264" stop-color="#cc4248"/><stop offset="0.1319" stop-color="#ef6e21"/><stop offset="0.1375" stop-color="#fc9f07"/><stop offset="0.1403" stop-color="#fac42a"/><stop offset="0.1431" stop-color="#fcffa9"/><stop offset="0.1458" stop-color="#fcffaf"/><stop offset="0.1486" stop-color="#f4f88e"/><stop offset="0.1514" stop-color="#f9c932"/><stop offset="0.1653" stop-color="#fc9f07"/><stop offset="0.1764" stop-color="#f98c0a"/><stop offset="0.2069" stop-color="#f78410"/><stop offset="0.2236" stop-color="#ef6e21"/><stop offset="0.2458" stop-color="#ae305c"/><stop offset="0.2625" stop-color="#6c186e"/><stop offset="0.2681" stop-color="#61136e"/><stop offset="0.2792" stop-color="#71196e"/><stop offset="0.3014" stop-color="#c63d4d"/><stop offset="0.3042" stop-color="#dd513a"/><stop offset="0.3069" stop-color="#f1731d"/><stop offset="0.3097" stop-color="#f78410"/><stop offset="0.3153" stop-color="#f3761b"/><stop offset="0.3208" stop-color="#d84c3e"/><stop offset="0.3458" stop-color="#c43c4e"/><stop offset="0.3681" stop-color="#bf3952"/><stop offset="0.3931" stop-color="#d04545"/><stop offset="0.3986" stop-color="#d74b3f"/><stop offset="0.4042" stop-color="#eb6628"/><stop offset="0.4097" stop-color="#ef6e21"/><stop offset="0.4181" stop-color="#d54a41"/><stop offset="0.4486" stop-color="#b63458"/><stop offset="0.5347" stop-color="#721a6e"/><stop offset="0.5736" stop-color="#6a176e"/><stop offset="0.5903" stop-color="#721a6e"/><stop offset="0.6042" stop-color="#982766"/><stop offset="0.6208" stop-color="#d74b3f"/><stop offset="0.6347" stop-color="#f1711f"/><stop offset="0.6514" stop-color="#f98e09"/><stop offset="0.6653" stop-color="#fc9f07"/><stop offset="0.6958" stop-color="#fca50a"/><stop offset="0.7181" stop-color="#f98e09"/><stop offset="0.7375" stop-color="#eb6628"/><stop offset="0.7486" stop-color="#d54a41"/><stop offset="0.7625" stop-color="#a92e5e"/><stop offset="0.7819" stop-color="#721a6e"/><stop offset="0.8292" stop-color="#5f136e"/><stop offset="0.9986" stop-color="#5f136e"/></linearGradient><linearGradient id="g49"><stop offset="0.0014" stop-color="#2b0b57"/><stop offset="0.0903" stop-color="#310a5c"/><stop offset="0.1014" stop-color="#550f6d"/><stop offset="0.1097" stop-color="#8d2369"/><stop offset="0.1236" stop-color="#db503b"/><stop offset="0.1375" stop-color="#fb9606"/><stop offset="0.1431" stop-color="#fbb61a"/><stop offset="0.1458" stop-color="#f6d543"/><stop offset="0.1486" stop-color="#fdffb3"/><stop offset="0.1514" stop-color="#fdffba"/><stop offset="0.1542" stop-color="#fcffa6"/><stop offset="0.1569" stop-color="#f9cb35"/><stop offset="0.1681" stop-color="#fcb418"/><stop offset="0.1708" stop-color="#fbb81d"/><stop offset="0.1736" stop-color="#f7d13d"/><stop offset="0.1764" stop-color="#f6d746"/><stop offset="0.1819" stop-color="#fca80d"/><stop offset="0.1847" stop-color="#fca108"/><stop offset="0.1986" stop-color="#f8850f"/><stop offset="0.2181" stop-color="#f1731d"/><stop offset="0.2264" stop-color="#e55c30"/><stop offset="0.2347" stop-color="#c73e4c"/><stop offset="0.2458" stop-color="#88226a"/><stop offset="0.2542" stop-color="#5f136e"/><stop offset="0.2625" stop-color="#470b6a"/><stop offset="0.2708" stop-color="#450a69"/><stop offset="0.2792" stop-color="#59106e"/><stop offset="0.2903" stop-color="#8a226a"/><stop offset="0.3014" stop-color="#cc4248"/><stop offset="0.3042" stop-color="#df5337"/><stop offset="0.3069" stop-color="#f8850f"/><stop offset="0.3097" stop-color="#f9cb35"/><stop offset="0.3125" stop-color="#f3e55d"/><stop offset="0.3153" stop-color="#f3e55d"/><stop offset="0.3181" stop-color="#fac62d"/><stop offset="0.3208" stop-color="#f98e09"/><stop offset="0.3236" stop-color="#f1711f"/><stop offset="0.3319" stop-color="#e25734"/><stop offset="0.3403" stop-color="#c13a50"/><stop offset="0.3542" stop-color="#87216b"/><stop offset="0.3625" stop-color="#781c6d"/><stop offset="0.3819" stop-color="#88226a"/><stop offset="0.4042" stop-color="#c13a50"/><stop offset="0.4069" stop-color="#d54a41"/><stop offset="0.4097" stop-color="#f2741c"/><stop offset="0.4125" stop-color="#fb9706"/><stop offset="0.4153" stop-color="#fb9b06"/><stop offset="0.4181" stop-color="#f98e09"/><stop offset="0.4236" stop-color="#cf4446"/><stop offset="0.4486" stop-color="#922568"/><stop offset="0.4653" stop-color="#7a1d6d"/><stop offset="0.4847" stop-color="#6f196e"/><stop offset="0.5736" stop-color="#6a176e"/><stop offset="0.5903" stop-color="#721a6e"/><stop offset="0.6042" stop-color="#982766"/><stop offset="0.6208" stop-color="#d74b3f"/><stop offset="0.6347" stop-color="#f1711f"/><stop offset="0.6514" stop-color="#f98e09"/><stop offset="0.6653" stop-color="#fc9f07"/><stop offset="0.7014" stop-color="#fca108"/><stop offset="0.7181" stop-color="#f98e09"/><stop offset="0.7403" stop-color="#e75e2e"/><stop offset="0.7625" stop-color="#a92e5e"/><stop offset="0.7792" stop-color="#7a1d6d"/><stop offset="0.7875" stop-color="#721a6e"/><stop offset="0.8181" stop-color="#781c6d"/><stop offset="0.8514" stop-color="#62146e"/><stop offset="0.9236" stop-color="#62146e"/><stop offset="0.9514" stop-color="#721a6e"/><stop offset="0.9986" stop-color="#62146e"/></linearGradient><linearGradient id="g50"><stop offset="0.0014" stop-color="#2b0b57"/><stop offset="0.0903" stop-color="#310a5c"/><stop offset="0.1014" stop-color="#550f6d"/><stop offset="0.1097" stop-color="#8d2369"/><stop offset="0.1153" stop-color="#b3325a"/><stop offset="0.1236" stop-color="#d84c3e"/><stop offset="0.1319" stop-color="#ef6c23"/><stop offset="0.1403" stop-color="#fb9d07"/><stop offset="0.1458" stop-color="#fac026"/><stop offset="0.1486" stop-color="#f3e55d"/><stop offset="0.1514" stop-color="#fdffb9"/><stop offset="0.1542" stop-color="#fdffbe"/><stop offset="0.1569" stop-color="#fcffa6"/><stop offset="0.1597" stop-color="#f6d746"/><stop offset="0.1681" stop-color="#f9cb35"/><stop offset="0.1736" stop-color="#f8cf3a"/><stop offset="0.1764" stop-color="#f5db4c"/><stop offset="0.1792" stop-color="#fcffa8"/><stop offset="0.1819" stop-color="#fcffaf"/><stop offset="0.1847" stop-color="#fafda1"/><stop offset="0.1875" stop-color="#f8cd37"/><stop offset="0.1903" stop-color="#fbbe23"/><stop offset="0.1986" stop-color="#fc9f07"/><stop offset="0.2264" stop-color="#e65d2f"/><stop offset="0.2347" stop-color="#c73e4c"/><stop offset="0.2458" stop-color="#87216b"/><stop offset="0.2542" stop-color="#5d126e"/><stop offset="0.2625" stop-color="#440a68"/><stop offset="0.2708" stop-color="#3d0965"/><stop offset="0.2819" stop-color="#520e6d"/><stop offset="0.2931" stop-color="#87216b"/><stop offset="0.3014" stop-color="#c03a51"/><stop offset="0.3069" stop-color="#de5238"/><stop offset="0.3097" stop-color="#ed6925"/><stop offset="0.3125" stop-color="#fca309"/><stop offset="0.3153" stop-color="#f4e156"/><stop offset="0.3181" stop-color="#f1ef75"/><stop offset="0.3208" stop-color="#f2ea69"/><stop offset="0.3236" stop-color="#fac62d"/><stop offset="0.3264" stop-color="#f98b0b"/><stop offset="0.3292" stop-color="#f1711f"/><stop offset="0.3375" stop-color="#db503b"/><stop offset="0.3458" stop-color="#b63458"/><stop offset="0.3569" stop-color="#88226a"/><stop offset="0.3653" stop-color="#7a1d6d"/><stop offset="0.3736" stop-color="#781c6d"/><stop offset="0.3847" stop-color="#88226a"/><stop offset="0.3958" stop-color="#a92e5e"/><stop offset="0.4097" stop-color="#d74b3f"/><stop offset="0.4125" stop-color="#e8602d"/><stop offset="0.4153" stop-color="#fc9f07"/><stop offset="0.4181" stop-color="#f5db4c"/><stop offset="0.4208" stop-color="#f2e661"/><stop offset="0.4236" stop-color="#f5db4c"/><stop offset="0.4264" stop-color="#fca108"/><stop offset="0.4292" stop-color="#eb6429"/><stop offset="0.4319" stop-color="#dd513a"/><stop offset="0.4542" stop-color="#9a2865"/><stop offset="0.4736" stop-color="#771c6d"/><stop offset="0.5097" stop-color="#6a176e"/><stop offset="0.5875" stop-color="#6f196e"/><stop offset="0.5958" stop-color="#7d1e6d"/><stop offset="0.6069" stop-color="#a32c61"/><stop offset="0.6208" stop-color="#d74b3f"/><stop offset="0.6347" stop-color="#f1711f"/><stop offset="0.6514" stop-color="#f98e09"/><stop offset="0.6653" stop-color="#fc9f07"/><stop offset="0.7014" stop-color="#fca108"/><stop offset="0.7181" stop-color="#f98e09"/><stop offset="0.7403" stop-color="#e75e2e"/><stop offset="0.7625" stop-color="#a92e5e"/><stop offset="0.7792" stop-color="#7a1d6d"/><stop offset="0.7875" stop-color="#721a6e"/><stop offset="0.8181" stop-color="#781c6d"/><stop offset="0.8514" stop-color="#62146e"/><stop offset="0.9236" stop-color="#62146e"/><stop offset="0.9514" stop-color="#721a6e"/><stop offset="0.9986" stop-color="#62146e"/></linearGradient><linearGradient id="g51"><stop offset="0.0014" stop-color="#2b0b57"/><stop offset="0.0903" stop-color="#310a5c"/><stop offset="0.1014" stop-color="#550f6d"/><stop offset="0.1097" stop-color="#8c2369"/><stop offset="0.1181" stop-color="#c03a51"/><stop offset="0.1236" stop-color="#d54a41"/><stop offset="0.1347" stop-color="#ef6e21"/><stop offset="0.1431" stop-color="#fb9b06"/><stop offset="0.1486" stop-color="#fbbc21"/><stop offset="0.1514" stop-color="#f7d340"/><stop offset="0.1542" stop-color="#fcffb1"/><stop offset="0.1569" stop-color="#fdffbe"/><stop offset="0.1597" stop-color="#fcffb1"/><stop offset="0.1625" stop-color="#f5d949"/><stop offset="0.1653" stop-color="#fac62d"/><stop offset="0.1764" stop-color="#fb9906"/><stop offset="0.1903" stop-color="#f68013"/><stop offset="0.2153" stop-color="#f3761b"/><stop offset="0.2264" stop-color="#e55c30"/><stop offset="0.2347" stop-color="#c73e4c"/><stop offset="0.2458" stop-color="#87216b"/><stop offset="0.2625" stop-color="#420a68"/><stop offset="0.2736" stop-color="#3b0964"/><stop offset="0.2847" stop-color="#540f6d"/><stop offset="0.2958" stop-color="#8f2469"/><stop offset="0.3042" stop-color="#c83f4b"/><stop offset="0.3097" stop-color="#e45a31"/><stop offset="0.3125" stop-color="#f1731d"/><stop offset="0.3153" stop-color="#fcae12"/><stop offset="0.3181" stop-color="#f3e55d"/><stop offset="0.3208" stop-color="#f1ef75"/><stop offset="0.3236" stop-color="#f2e865"/><stop offset="0.3264" stop-color="#fbbe23"/><stop offset="0.3292" stop-color="#f8850f"/><stop offset="0.3319" stop-color="#ef6c23"/><stop offset="0.3458" stop-color="#bd3853"/><stop offset="0.3569" stop-color="#8f2469"/><stop offset="0.3681" stop-color="#7a1d6d"/><stop offset="0.3847" stop-color="#84206b"/><stop offset="0.3986" stop-color="#ad305d"/><stop offset="0.4125" stop-color="#db503b"/><stop offset="0.4153" stop-color="#ed6925"/><stop offset="0.4181" stop-color="#fcae12"/><stop offset="0.4208" stop-color="#f2e661"/><stop offset="0.4236" stop-color="#f1ef75"/><stop offset="0.4264" stop-color="#f4e156"/><stop offset="0.4292" stop-color="#fca108"/><stop offset="0.4319" stop-color="#eb6429"/><stop offset="0.4347" stop-color="#de5238"/><stop offset="0.4569" stop-color="#9a2865"/><stop offset="0.4764" stop-color="#771c6d"/><stop offset="0.5097" stop-color="#6a176e"/><stop offset="0.5875" stop-color="#6f196e"/><stop offset="0.5958" stop-color="#7d1e6d"/><stop offset="0.6069" stop-color="#a32c61"/><stop offset="0.6208" stop-color="#d74b3f"/><stop offset="0.6347" stop-color="#f1711f"/><stop offset="0.6514" stop-color="#f98e09"/><stop offset="0.6653" stop-color="#fc9f07"/><stop offset="0.7014" stop-color="#fca108"/><stop offset="0.7181" stop-color="#f98e09"/><stop offset="0.7403" stop-color="#e75e2e"/><stop offset="0.7625" stop-color="#a92e5e"/><stop offset="0.7792" stop-color="#7a1d6d"/><stop offset="0.7875" stop-color="#721a6e"/><stop offset="0.8181" stop-color="#781c6d"/><stop offset="0.8514" stop-color="#62146e"/><stop offset="0.9236" stop-color="#62146e"/><stop offset="0.9514" stop-color="#721a6e"/><stop offset="0.9986" stop-color="#62146e"/></linearGradient><linearGradient id="g52"><stop offset="0.0014" stop-color="#2b0b57"/><stop offset="0.0903" stop-color="#310a5c"/><stop offset="0.0986" stop-color="#490b6a"/><stop offset="0.1069" stop-color="#781c6d"/><stop offset="0.1153" stop-color="#b1325a"/><stop offset="0.1208" stop-color="#cb4149"/><stop offset="0.1347" stop-color="#ed6925"/><stop offset="0.1431" stop-color="#fa9207"/><stop offset="0.1458" stop-color="#fca309"/><stop offset="0.1514" stop-color="#fac228"/><stop offset="0.1542" stop-color="#f1f179"/><stop offset="0.1569" stop-color="#fdffb8"/><stop offset="0.1597" stop-color="#fdffb9"/><stop offset="0.1625" stop-color="#f3f68a"/><stop offset="0.1653" stop-color="#f6d746"/><stop offset="0.1708" stop-color="#f7d13d"/><stop offset="0.1792" stop-color="#f5db4c"/><stop offset="0.1819" stop-color="#f3e55d"/><stop offset="0.1847" stop-color="#fcffb0"/><stop offset="0.1875" stop-color="#fdffbe"/><stop offset="0.1903" stop-color="#fdffb5"/><stop offset="0.1931" stop-color="#f3e55d"/><stop offset="0.1958" stop-color="#f8cf3a"/><stop offset="0.2014" stop-color="#fcb418"/><stop offset="0.2069" stop-color="#fb9b06"/><stop offset="0.2208" stop-color="#f06f20"/><stop offset="0.2292" stop-color="#de5238"/><stop offset="0.2458" stop-color="#87216b"/><stop offset="0.2625" stop-color="#400a67"/><stop offset="0.2764" stop-color="#390963"/><stop offset="0.2875" stop-color="#520e6d"/><stop offset="0.2958" stop-color="#7f1e6c"/><stop offset="0.3042" stop-color="#bc3754"/><stop offset="0.3153" stop-color="#ef6c23"/><stop offset="0.3181" stop-color="#fa9207"/><stop offset="0.3208" stop-color="#f8cf3a"/><stop offset="0.3236" stop-color="#f1ed71"/><stop offset="0.3264" stop-color="#f1ed71"/><stop offset="0.3292" stop-color="#f5d949"/><stop offset="0.3319" stop-color="#fb9d07"/><stop offset="0.3347" stop-color="#f1711f"/><stop offset="0.3375" stop-color="#e8602d"/><stop offset="0.3486" stop-color="#bd3853"/><stop offset="0.3625" stop-color="#88226a"/><stop offset="0.3764" stop-color="#781c6d"/><stop offset="0.3903" stop-color="#88226a"/><stop offset="0.4014" stop-color="#ab2f5e"/><stop offset="0.4153" stop-color="#da4e3c"/><stop offset="0.4181" stop-color="#e9612b"/><stop offset="0.4208" stop-color="#fc9f07"/><stop offset="0.4236" stop-color="#f4e156"/><stop offset="0.4264" stop-color="#f1ef75"/><stop offset="0.4292" stop-color="#f2e661"/><stop offset="0.4319" stop-color="#fcb014"/><stop offset="0.4347" stop-color="#ef6e21"/><stop offset="0.4375" stop-color="#e05536"/><stop offset="0.4569" stop-color="#a32c61"/><stop offset="0.4708" stop-color="#801f6c"/><stop offset="0.4819" stop-color="#741a6e"/><stop offset="0.5097" stop-color="#6a176e"/><stop offset="0.5875" stop-color="#6f196e"/><stop offset="0.5958" stop-color="#7d1e6d"/><stop offset="0.6069" stop-color="#a32c61"/><stop offset="0.6208" stop-color="#d74b3f"/><stop offset="0.6347" stop-color="#f1711f"/><stop offset="0.6514" stop-color="#f98e09"/><stop offset="0.6653" stop-color="#fc9f07"/><stop offset="0.6986" stop-color="#fca309"/><stop offset="0.7181" stop-color="#f98e09"/><stop offset="0.7403" stop-color="#e75e2e"/><stop offset="0.7625" stop-color="#a92e5e"/><stop offset="0.7792" stop-color="#7a1d6d"/><stop offset="0.7875" stop-color="#721a6e"/><stop offset="0.8181" stop-color="#781c6d"/><stop offset="0.8514" stop-color="#62146e"/><stop offset="0.9236" stop-color="#62146e"/><stop offset="0.9514" stop-color="#721a6e"/><stop offset="0.9986" stop-color="#62146e"/></linearGradient><linearGradient id="g53"><stop offset="0.0014" stop-color="#5c126e"/><stop offset="0.0292" stop-color="#400a67"/><stop offset="0.0847" stop-color="#5c126e"/><stop offset="0.0958" stop-color="#6a176e"/><stop offset="0.1208" stop-color="#ae305c"/><stop offset="0.1486" stop-color="#b43359"/><stop offset="0.1597" stop-color="#e05536"/><stop offset="0.1625" stop-color="#e05536"/><stop offset="0.1736" stop-color="#ad305d"/><stop offset="0.1847" stop-color="#a32c61"/><stop offset="0.1931" stop-color="#a92e5e"/><stop offset="0.2014" stop-color="#c83f4b"/><stop offset="0.2042" stop-color="#c83f4b"/><stop offset="0.2153" stop-color="#a52c60"/><stop offset="0.2375" stop-color="#b0315b"/><stop offset="0.2764" stop-color="#9f2a63"/><stop offset="0.3153" stop-color="#b43359"/><stop offset="0.3542" stop-color="#b3325a"/><stop offset="0.3958" stop-color="#721a6e"/><stop offset="0.4153" stop-color="#61136e"/><stop offset="0.4681" stop-color="#2b0b57"/><stop offset="0.4875" stop-color="#360961"/><stop offset="0.5042" stop-color="#4f0d6c"/><stop offset="0.5347" stop-color="#65156e"/><stop offset="0.5653" stop-color="#ab2f5e"/><stop offset="0.6097" stop-color="#ba3655"/><stop offset="0.6208" stop-color="#d24644"/><stop offset="0.6264" stop-color="#ea632a"/><stop offset="0.6319" stop-color="#f98e09"/><stop offset="0.6347" stop-color="#fa9008"/><stop offset="0.6431" stop-color="#e9612b"/><stop offset="0.6486" stop-color="#e15635"/><stop offset="0.6764" stop-color="#e15635"/><stop offset="0.6875" stop-color="#f1711f"/><stop offset="0.6931" stop-color="#e35933"/><stop offset="0.6986" stop-color="#c13a50"/><stop offset="0.7042" stop-color="#ab2f5e"/><stop offset="0.7319" stop-color="#922568"/><stop offset="0.7458" stop-color="#721a6e"/><stop offset="0.7653" stop-color="#2f0a5b"/><stop offset="0.7764" stop-color="#4c0c6b"/><stop offset="0.7819" stop-color="#400a67"/><stop offset="0.7903" stop-color="#1b0c41"/><stop offset="0.8236" stop-color="#160b39"/><stop offset="0.8486" stop-color="#1f0c48"/><stop offset="0.8708" stop-color="#540f6d"/><stop offset="0.8819" stop-color="#65156e"/><stop offset="0.9097" stop-color="#771c6d"/><stop offset="0.9208" stop-color="#982766"/><stop offset="0.9292" stop-color="#d94d3d"/><stop offset="0.9347" stop-color="#ec6726"/><stop offset="0.9486" stop-color="#d34743"/><stop offset="0.9653" stop-color="#bd3853"/><stop offset="0.9986" stop-color="#b0315b"/></linearGradient><linearGradient id="g54"><stop offset="0.0014" stop-color="#952667"/><stop offset="0.0097" stop-color="#8a226a"/><stop offset="0.0375" stop-color="#440a68"/><stop offset="0.0597" stop-color="#390963"/><stop offset="0.1014" stop-color="#4c0c6b"/><stop offset="0.1181" stop-color="#751b6e"/><stop offset="0.1347" stop-color="#ab2f5e"/><stop offset="0.1486" stop-color="#b3325a"/><stop offset="0.1597" stop-color="#da4e3c"/><stop offset="0.1625" stop-color="#d94d3d"/><stop offset="0.1708" stop-color="#a92e5e"/><stop offset="0.1764" stop-color="#972766"/><stop offset="0.1903" stop-color="#932667"/><stop offset="0.2014" stop-color="#b73557"/><stop offset="0.2042" stop-color="#b73557"/><stop offset="0.2125" stop-color="#902568"/><stop offset="0.2181" stop-color="#84206b"/><stop offset="0.2542" stop-color="#b93556"/><stop offset="0.3569" stop-color="#bd3853"/><stop offset="0.3736" stop-color="#b1325a"/><stop offset="0.3986" stop-color="#7c1d6d"/><stop offset="0.4181" stop-color="#67166e"/><stop offset="0.4486" stop-color="#340a5f"/><stop offset="0.4736" stop-color="#280b53"/><stop offset="0.5486" stop-color="#4c0c6b"/><stop offset="0.5681" stop-color="#751b6e"/><stop offset="0.5875" stop-color="#a62d60"/><stop offset="0.6208" stop-color="#bc3754"/><stop offset="0.6264" stop-color="#d74b3f"/><stop offset="0.6319" stop-color="#f1711f"/><stop offset="0.6347" stop-color="#f3761b"/><stop offset="0.6458" stop-color="#db503b"/><stop offset="0.6764" stop-color="#de5238"/><stop offset="0.6819" stop-color="#e45a31"/><stop offset="0.6903" stop-color="#f57b17"/><stop offset="0.6958" stop-color="#ef6c23"/><stop offset="0.7014" stop-color="#da4e3c"/><stop offset="0.7069" stop-color="#ca404a"/><stop offset="0.7208" stop-color="#b0315b"/><stop offset="0.7458" stop-color="#952667"/><stop offset="0.7569" stop-color="#721a6e"/><stop offset="0.7681" stop-color="#4c0c6b"/><stop offset="0.7792" stop-color="#5a116e"/><stop offset="0.7847" stop-color="#3e0966"/><stop offset="0.7931" stop-color="#1b0c41"/><stop offset="0.8181" stop-color="#180c3c"/><stop offset="0.8625" stop-color="#260c51"/><stop offset="0.8819" stop-color="#4a0c6b"/><stop offset="0.9153" stop-color="#751b6e"/><stop offset="0.9236" stop-color="#902568"/><stop offset="0.9319" stop-color="#cb4149"/><stop offset="0.9347" stop-color="#d24644"/><stop offset="0.9458" stop-color="#ba3655"/><stop offset="0.9625" stop-color="#bd3853"/><stop offset="0.9986" stop-color="#ab2f5e"/></linearGradient><linearGradient id="g55"><stop offset="0.0014" stop-color="#ca404a"/><stop offset="0.0153" stop-color="#bc3754"/><stop offset="0.0347" stop-color="#741a6e"/><stop offset="0.0486" stop-color="#470b6a"/><stop offset="0.0653" stop-color="#380962"/><stop offset="0.0847" stop-color="#390963"/><stop offset="0.1181" stop-color="#550f6d"/><stop offset="0.1486" stop-color="#a22b62"/><stop offset="0.1597" stop-color="#d34743"/><stop offset="0.1625" stop-color="#d44842"/><stop offset="0.1736" stop-color="#922568"/><stop offset="0.1792" stop-color="#84206b"/><stop offset="0.1931" stop-color="#7d1e6d"/><stop offset="0.2042" stop-color="#a02a63"/><stop offset="0.2153" stop-color="#721a6e"/><stop offset="0.2264" stop-color="#69166e"/><stop offset="0.2403" stop-color="#781c6d"/><stop offset="0.2569" stop-color="#ad305d"/><stop offset="0.2681" stop-color="#c03a51"/><stop offset="0.3792" stop-color="#c33b4f"/><stop offset="0.3903" stop-color="#b3325a"/><stop offset="0.4153" stop-color="#6a176e"/><stop offset="0.4431" stop-color="#4f0d6c"/><stop offset="0.4569" stop-color="#340a5f"/><stop offset="0.4708" stop-color="#290b55"/><stop offset="0.5042" stop-color="#390963"/><stop offset="0.5403" stop-color="#2f0a5b"/><stop offset="0.5736" stop-color="#340a5f"/><stop offset="0.5875" stop-color="#510e6c"/><stop offset="0.6014" stop-color="#88226a"/><stop offset="0.6208" stop-color="#b43359"/><stop offset="0.6319" stop-color="#e65d2f"/><stop offset="0.6347" stop-color="#e75e2e"/><stop offset="0.6431" stop-color="#c83f4b"/><stop offset="0.6514" stop-color="#c63d4d"/><stop offset="0.6819" stop-color="#dd513a"/><stop offset="0.6931" stop-color="#f57b17"/><stop offset="0.6958" stop-color="#f57b17"/><stop offset="0.7042" stop-color="#e15635"/><stop offset="0.7097" stop-color="#d84c3e"/><stop offset="0.7514" stop-color="#b43359"/><stop offset="0.7708" stop-color="#82206c"/><stop offset="0.7792" stop-color="#84206b"/><stop offset="0.7875" stop-color="#520e6d"/><stop offset="0.7958" stop-color="#2d0b59"/><stop offset="0.8181" stop-color="#1c0c43"/><stop offset="0.8319" stop-color="#1c0c43"/><stop offset="0.8625" stop-color="#390963"/><stop offset="0.9153" stop-color="#62146e"/><stop offset="0.9208" stop-color="#721a6e"/><stop offset="0.9319" stop-color="#bc3754"/><stop offset="0.9347" stop-color="#c43c4e"/><stop offset="0.9486" stop-color="#9b2964"/><stop offset="0.9653" stop-color="#a52c60"/><stop offset="0.9986" stop-color="#9f2a63"/></linearGradient><linearGradient id="g56"><stop offset="0.0014" stop-color="#d84c3e"/><stop offset="0.0181" stop-color="#d44842"/><stop offset="0.0264" stop-color="#c73e4c"/><stop offset="0.0458" stop-color="#972766"/><stop offset="0.0542" stop-color="#65156e"/><stop offset="0.0597" stop-color="#510e6c"/><stop offset="0.0736" stop-color="#420a68"/><stop offset="0.1014" stop-color="#490b6a"/><stop offset="0.1431" stop-color="#87216b"/><stop offset="0.1514" stop-color="#9a2865"/><stop offset="0.1597" stop-color="#cb4149"/><stop offset="0.1625" stop-color="#d24644"/><stop offset="0.1764" stop-color="#902568"/><stop offset="0.1931" stop-color="#801f6c"/><stop offset="0.2042" stop-color="#9a2865"/><stop offset="0.2153" stop-color="#65156e"/><stop offset="0.2208" stop-color="#5a116e"/><stop offset="0.2431" stop-color="#69166e"/><stop offset="0.2597" stop-color="#8d2369"/><stop offset="0.2736" stop-color="#b73557"/><stop offset="0.2847" stop-color="#c63d4d"/><stop offset="0.3931" stop-color="#c73e4c"/><stop offset="0.4097" stop-color="#b73557"/><stop offset="0.4319" stop-color="#6c186e"/><stop offset="0.4431" stop-color="#5a116e"/><stop offset="0.4792" stop-color="#440a68"/><stop offset="0.5125" stop-color="#440a68"/><stop offset="0.5375" stop-color="#240c4f"/><stop offset="0.5681" stop-color="#1b0c41"/><stop offset="0.5875" stop-color="#1c0c43"/><stop offset="0.6042" stop-color="#340a5f"/><stop offset="0.6181" stop-color="#751b6e"/><stop offset="0.6319" stop-color="#c03a51"/><stop offset="0.6458" stop-color="#ad305d"/><stop offset="0.6597" stop-color="#ae305c"/><stop offset="0.6847" stop-color="#cb4149"/><stop offset="0.6986" stop-color="#e75e2e"/><stop offset="0.7069" stop-color="#de5238"/><stop offset="0.7486" stop-color="#d34743"/><stop offset="0.7708" stop-color="#b0315b"/><stop offset="0.7819" stop-color="#b73557"/><stop offset="0.7958" stop-color="#6a176e"/><stop offset="0.8181" stop-color="#4a0c6b"/><stop offset="0.8458" stop-color="#240c4f"/><stop offset="0.8597" stop-color="#290b55"/><stop offset="0.8764" stop-color="#470b6a"/><stop offset="0.8903" stop-color="#5c126e"/><stop offset="0.9181" stop-color="#62146e"/><stop offset="0.9236" stop-color="#71196e"/><stop offset="0.9347" stop-color="#a92e5e"/><stop offset="0.9486" stop-color="#82206c"/><stop offset="0.9986" stop-color="#8c2369"/></linearGradient><linearGradient id="g57"><stop offset="0.0014" stop-color="#db503b"/><stop offset="0.0347" stop-color="#cf4446"/><stop offset="0.0458" stop-color="#e15635"/><stop offset="0.0486" stop-color="#d94d3d"/><stop offset="0.0542" stop-color="#a82e5f"/><stop offset="0.0625" stop-color="#721a6e"/><stop offset="0.0736" stop-color="#5d126e"/><stop offset="0.0875" stop-color="#57106e"/><stop offset="0.1181" stop-color="#5c126e"/><stop offset="0.1458" stop-color="#7d1e6d"/><stop offset="0.1542" stop-color="#982766"/><stop offset="0.1625" stop-color="#ca404a"/><stop offset="0.1653" stop-color="#c63d4d"/><stop offset="0.1736" stop-color="#9a2865"/><stop offset="0.1792" stop-color="#8f2469"/><stop offset="0.1931" stop-color="#8c2369"/><stop offset="0.2014" stop-color="#a52c60"/><stop offset="0.2069" stop-color="#a52c60"/><stop offset="0.2181" stop-color="#67166e"/><stop offset="0.2319" stop-color="#520e6d"/><stop offset="0.2431" stop-color="#59106e"/><stop offset="0.2736" stop-color="#9f2a63"/><stop offset="0.2958" stop-color="#bd3853"/><stop offset="0.3181" stop-color="#c63d4d"/><stop offset="0.4208" stop-color="#c43c4e"/><stop offset="0.4319" stop-color="#ba3655"/><stop offset="0.4597" stop-color="#7a1d6d"/><stop offset="0.5097" stop-color="#540f6d"/><stop offset="0.5264" stop-color="#390963"/><stop offset="0.5403" stop-color="#210c4a"/><stop offset="0.5625" stop-color="#140b34"/><stop offset="0.6097" stop-color="#190c3e"/><stop offset="0.6208" stop-color="#340a5f"/><stop offset="0.6319" stop-color="#67166e"/><stop offset="0.6403" stop-color="#88226a"/><stop offset="0.6486" stop-color="#982766"/><stop offset="0.6819" stop-color="#a52c60"/><stop offset="0.7069" stop-color="#d04545"/><stop offset="0.7208" stop-color="#da4e3c"/><stop offset="0.7514" stop-color="#d94d3d"/><stop offset="0.7708" stop-color="#cb4149"/><stop offset="0.7819" stop-color="#d84c3e"/><stop offset="0.7847" stop-color="#d34743"/><stop offset="0.7931" stop-color="#a02a63"/><stop offset="0.7986" stop-color="#8f2469"/><stop offset="0.8375" stop-color="#5a116e"/><stop offset="0.8625" stop-color="#310a5c"/><stop offset="0.8819" stop-color="#340a5f"/><stop offset="0.9181" stop-color="#61136e"/><stop offset="0.9236" stop-color="#6d186e"/><stop offset="0.9347" stop-color="#a82e5f"/><stop offset="0.9375" stop-color="#a52c60"/><stop offset="0.9458" stop-color="#781c6d"/><stop offset="0.9514" stop-color="#6d186e"/><stop offset="0.9986" stop-color="#751b6e"/></linearGradient><linearGradient id="g58"><stop offset="0.0014" stop-color="#db503b"/><stop offset="0.0347" stop-color="#d84c3e"/><stop offset="0.0458" stop-color="#eb6628"/><stop offset="0.0486" stop-color="#e9612b"/><stop offset="0.0514" stop-color="#dd513a"/><stop offset="0.0569" stop-color="#ad305d"/><stop offset="0.0653" stop-color="#82206c"/><stop offset="0.0792" stop-color="#6c186e"/><stop offset="0.0931" stop-color="#65156e"/><stop offset="0.1486" stop-color="#6a176e"/><stop offset="0.1542" stop-color="#7a1d6d"/><stop offset="0.1625" stop-color="#ad305d"/><stop offset="0.1653" stop-color="#ad305d"/><stop offset="0.1736" stop-color="#82206c"/><stop offset="0.1792" stop-color="#7a1d6d"/><stop offset="0.1931" stop-color="#82206c"/><stop offset="0.2069" stop-color="#a52c60"/><stop offset="0.2153" stop-color="#741a6e"/><stop offset="0.2208" stop-color="#5f136e"/><stop offset="0.2431" stop-color="#470b6a"/><stop offset="0.2542" stop-color="#4d0d6c"/><stop offset="0.2764" stop-color="#751b6e"/><stop offset="0.2986" stop-color="#a62d60"/><stop offset="0.3208" stop-color="#bd3853"/><stop offset="0.4514" stop-color="#c13a50"/><stop offset="0.4792" stop-color="#a32c61"/><stop offset="0.5125" stop-color="#5d126e"/><stop offset="0.5292" stop-color="#390963"/><stop offset="0.5431" stop-color="#210c4a"/><stop offset="0.5625" stop-color="#150b37"/><stop offset="0.6181" stop-color="#190c3e"/><stop offset="0.6292" stop-color="#2d0b59"/><stop offset="0.6431" stop-color="#64156e"/><stop offset="0.6597" stop-color="#932667"/><stop offset="0.6931" stop-color="#a02a63"/><stop offset="0.7208" stop-color="#d34743"/><stop offset="0.7708" stop-color="#d84c3e"/><stop offset="0.7819" stop-color="#e9612b"/><stop offset="0.7875" stop-color="#e25734"/><stop offset="0.7958" stop-color="#b73557"/><stop offset="0.8014" stop-color="#a92e5e"/><stop offset="0.8264" stop-color="#932667"/><stop offset="0.8486" stop-color="#5a116e"/><stop offset="0.8736" stop-color="#3d0965"/><stop offset="0.8958" stop-color="#390963"/><stop offset="0.9181" stop-color="#450a69"/><stop offset="0.9236" stop-color="#520e6d"/><stop offset="0.9347" stop-color="#922568"/><stop offset="0.9375" stop-color="#922568"/><stop offset="0.9458" stop-color="#6d186e"/><stop offset="0.9514" stop-color="#64156e"/><stop offset="0.9986" stop-color="#6a176e"/></linearGradient><linearGradient id="g59"><stop offset="0.0014" stop-color="#db503b"/><stop offset="0.0347" stop-color="#dd513a"/><stop offset="0.0403" stop-color="#e65d2f"/><stop offset="0.0486" stop-color="#f8850f"/><stop offset="0.0542" stop-color="#ec6726"/><stop offset="0.0625" stop-color="#b43359"/><stop offset="0.0736" stop-color="#84206b"/><stop offset="0.0847" stop-color="#6c186e"/><stop offset="0.1486" stop-color="#69166e"/><stop offset="0.1542" stop-color="#751b6e"/><stop offset="0.1625" stop-color="#a52c60"/><stop offset="0.1653" stop-color="#a62d60"/><stop offset="0.1736" stop-color="#771c6d"/><stop offset="0.1792" stop-color="#69166e"/><stop offset="0.1931" stop-color="#6c186e"/><stop offset="0.2069" stop-color="#9a2865"/><stop offset="0.2181" stop-color="#64156e"/><stop offset="0.2236" stop-color="#550f6d"/><stop offset="0.2403" stop-color="#3e0966"/><stop offset="0.2569" stop-color="#390963"/><stop offset="0.2903" stop-color="#440a68"/><stop offset="0.3014" stop-color="#61136e"/><stop offset="0.3181" stop-color="#a62d60"/><stop offset="0.3319" stop-color="#bf3952"/><stop offset="0.4597" stop-color="#c63d4d"/><stop offset="0.4764" stop-color="#c03a51"/><stop offset="0.4903" stop-color="#ae305c"/><stop offset="0.5208" stop-color="#57106e"/><stop offset="0.5458" stop-color="#230c4c"/><stop offset="0.5625" stop-color="#190c3e"/><stop offset="0.6153" stop-color="#1b0c41"/><stop offset="0.6347" stop-color="#320a5e"/><stop offset="0.6486" stop-color="#5f136e"/><stop offset="0.6653" stop-color="#922568"/><stop offset="0.6792" stop-color="#9f2a63"/><stop offset="0.7042" stop-color="#a22b62"/><stop offset="0.7347" stop-color="#d74b3f"/><stop offset="0.7736" stop-color="#e05536"/><stop offset="0.7847" stop-color="#f57b17"/><stop offset="0.7903" stop-color="#ee6a24"/><stop offset="0.7986" stop-color="#ce4347"/><stop offset="0.8097" stop-color="#b3325a"/><stop offset="0.8431" stop-color="#952667"/><stop offset="0.8681" stop-color="#540f6d"/><stop offset="0.8764" stop-color="#490b6a"/><stop offset="0.9181" stop-color="#450a69"/><stop offset="0.9236" stop-color="#4f0d6c"/><stop offset="0.9319" stop-color="#7d1e6d"/><stop offset="0.9375" stop-color="#8a226a"/><stop offset="0.9458" stop-color="#65156e"/><stop offset="0.9514" stop-color="#5a116e"/><stop offset="0.9986" stop-color="#6a176e"/></linearGradient><linearGradient id="g60"><stop offset="0.0014" stop-color="#cc4248"/><stop offset="0.0375" stop-color="#d74b3f"/><stop offset="0.0514" stop-color="#f8870e"/><stop offset="0.0625" stop-color="#d94d3d"/><stop offset="0.0764" stop-color="#bf3952"/><stop offset="0.0875" stop-color="#982766"/><stop offset="0.1014" stop-color="#7d1e6d"/><stop offset="0.1486" stop-color="#6c186e"/><stop offset="0.1542" stop-color="#771c6d"/><stop offset="0.1625" stop-color="#a82e5f"/><stop offset="0.1653" stop-color="#ab2f5e"/><stop offset="0.1764" stop-color="#721a6e"/><stop offset="0.1903" stop-color="#6f196e"/><stop offset="0.1958" stop-color="#771c6d"/><stop offset="0.2069" stop-color="#a22b62"/><stop offset="0.2236" stop-color="#67166e"/><stop offset="0.2569" stop-color="#3e0966"/><stop offset="0.2819" stop-color="#360961"/><stop offset="0.3097" stop-color="#400a67"/><stop offset="0.3208" stop-color="#65156e"/><stop offset="0.3347" stop-color="#9f2a63"/><stop offset="0.3458" stop-color="#b3325a"/><stop offset="0.4097" stop-color="#c73e4c"/><stop offset="0.4792" stop-color="#c73e4c"/><stop offset="0.4958" stop-color="#ba3655"/><stop offset="0.5042" stop-color="#a82e5f"/><stop offset="0.5236" stop-color="#65156e"/><stop offset="0.5347" stop-color="#440a68"/><stop offset="0.5458" stop-color="#310a5c"/><stop offset="0.5903" stop-color="#1b0c41"/><stop offset="0.6264" stop-color="#1b0c41"/><stop offset="0.6375" stop-color="#260c51"/><stop offset="0.6514" stop-color="#4d0d6c"/><stop offset="0.6681" stop-color="#7c1d6d"/><stop offset="0.6986" stop-color="#a92e5e"/><stop offset="0.7236" stop-color="#b63458"/><stop offset="0.7514" stop-color="#db503b"/><stop offset="0.7736" stop-color="#e15635"/><stop offset="0.7875" stop-color="#f78410"/><stop offset="0.8014" stop-color="#df5337"/><stop offset="0.8153" stop-color="#cc4248"/><stop offset="0.8347" stop-color="#9b2964"/><stop offset="0.8625" stop-color="#87216b"/><stop offset="0.8986" stop-color="#540f6d"/><stop offset="0.9208" stop-color="#4f0d6c"/><stop offset="0.9264" stop-color="#5f136e"/><stop offset="0.9347" stop-color="#8c2369"/><stop offset="0.9375" stop-color="#8d2369"/><stop offset="0.9458" stop-color="#65156e"/><stop offset="0.9514" stop-color="#57106e"/><stop offset="0.9764" stop-color="#69166e"/><stop offset="0.9986" stop-color="#6a176e"/></linearGradient><linearGradient id="g61"><stop offset="0.0014" stop-color="#a92e5e"/><stop offset="0.0236" stop-color="#ad305d"/><stop offset="0.0403" stop-color="#bf3952"/><stop offset="0.0486" stop-color="#e9612b"/><stop offset="0.0514" stop-color="#f06f20"/><stop offset="0.0542" stop-color="#ef6e21"/><stop offset="0.0653" stop-color="#cf4446"/><stop offset="0.0875" stop-color="#c73e4c"/><stop offset="0.1097" stop-color="#a62d60"/><stop offset="0.1514" stop-color="#88226a"/><stop offset="0.1653" stop-color="#ba3655"/><stop offset="0.1764" stop-color="#801f6c"/><stop offset="0.1819" stop-color="#7a1d6d"/><stop offset="0.1958" stop-color="#82206c"/><stop offset="0.2069" stop-color="#b63458"/><stop offset="0.2097" stop-color="#b73557"/><stop offset="0.2208" stop-color="#922568"/><stop offset="0.2486" stop-color="#7d1e6d"/><stop offset="0.2819" stop-color="#4a0c6b"/><stop offset="0.3014" stop-color="#450a69"/><stop offset="0.3569" stop-color="#8a226a"/><stop offset="0.3958" stop-color="#932667"/><stop offset="0.4236" stop-color="#c33b4f"/><stop offset="0.4958" stop-color="#c73e4c"/><stop offset="0.5153" stop-color="#b43359"/><stop offset="0.5347" stop-color="#721a6e"/><stop offset="0.5514" stop-color="#470b6a"/><stop offset="0.5764" stop-color="#360961"/><stop offset="0.5958" stop-color="#230c4c"/><stop offset="0.6097" stop-color="#390963"/><stop offset="0.6236" stop-color="#160b39"/><stop offset="0.6431" stop-color="#150b37"/><stop offset="0.6542" stop-color="#1c0c43"/><stop offset="0.6708" stop-color="#440a68"/><stop offset="0.6931" stop-color="#6f196e"/><stop offset="0.7292" stop-color="#c03a51"/><stop offset="0.7736" stop-color="#dd513a"/><stop offset="0.7903" stop-color="#eb6628"/><stop offset="0.8014" stop-color="#df5337"/><stop offset="0.8375" stop-color="#d84c3e"/><stop offset="0.8514" stop-color="#9b2964"/><stop offset="0.8597" stop-color="#88226a"/><stop offset="0.9153" stop-color="#61136e"/><stop offset="0.9236" stop-color="#61136e"/><stop offset="0.9347" stop-color="#922568"/><stop offset="0.9375" stop-color="#932667"/><stop offset="0.9486" stop-color="#5d126e"/><stop offset="0.9542" stop-color="#540f6d"/><stop offset="0.9986" stop-color="#6a176e"/></linearGradient><linearGradient id="g62"><stop offset="0.0014" stop-color="#87216b"/><stop offset="0.0403" stop-color="#a62d60"/><stop offset="0.0458" stop-color="#c13a50"/><stop offset="0.0514" stop-color="#e15635"/><stop offset="0.0542" stop-color="#e45a31"/><stop offset="0.0653" stop-color="#c03a51"/><stop offset="0.0931" stop-color="#c63d4d"/><stop offset="0.1458" stop-color="#ab2f5e"/><stop offset="0.1542" stop-color="#b0315b"/><stop offset="0.1653" stop-color="#d74b3f"/><stop offset="0.1681" stop-color="#cf4446"/><stop offset="0.1764" stop-color="#9b2964"/><stop offset="0.1819" stop-color="#8f2469"/><stop offset="0.1958" stop-color="#922568"/><stop offset="0.2097" stop-color="#c13a50"/><stop offset="0.2208" stop-color="#a22b62"/><stop offset="0.2486" stop-color="#a02a63"/><stop offset="0.2958" stop-color="#5c126e"/><stop offset="0.3153" stop-color="#550f6d"/><stop offset="0.4097" stop-color="#87216b"/><stop offset="0.4403" stop-color="#bd3853"/><stop offset="0.5014" stop-color="#c73e4c"/><stop offset="0.5264" stop-color="#b0315b"/><stop offset="0.5486" stop-color="#741a6e"/><stop offset="0.5958" stop-color="#380962"/><stop offset="0.6014" stop-color="#3e0966"/><stop offset="0.6097" stop-color="#61136e"/><stop offset="0.6153" stop-color="#470b6a"/><stop offset="0.6208" stop-color="#1f0c48"/><stop offset="0.6236" stop-color="#180c3c"/><stop offset="0.6319" stop-color="#120a32"/><stop offset="0.6653" stop-color="#120a32"/><stop offset="0.6819" stop-color="#1f0c48"/><stop offset="0.6931" stop-color="#390963"/><stop offset="0.7069" stop-color="#5c126e"/><stop offset="0.7347" stop-color="#8f2469"/><stop offset="0.7514" stop-color="#c63d4d"/><stop offset="0.7597" stop-color="#d44842"/><stop offset="0.8264" stop-color="#d74b3f"/><stop offset="0.8403" stop-color="#ee6a24"/><stop offset="0.8431" stop-color="#e8602d"/><stop offset="0.8514" stop-color="#b73557"/><stop offset="0.8597" stop-color="#9b2964"/><stop offset="0.8736" stop-color="#8a226a"/><stop offset="0.9208" stop-color="#6f196e"/><stop offset="0.9264" stop-color="#771c6d"/><stop offset="0.9347" stop-color="#a22b62"/><stop offset="0.9375" stop-color="#a62d60"/><stop offset="0.9486" stop-color="#6d186e"/><stop offset="0.9542" stop-color="#61136e"/><stop offset="0.9986" stop-color="#67166e"/></linearGradient><linearGradient id="g63"><stop offset="0.0014" stop-color="#550f6d"/><stop offset="0.0125" stop-color="#59106e"/><stop offset="0.0264" stop-color="#721a6e"/><stop offset="0.0431" stop-color="#a32c61"/><stop offset="0.0542" stop-color="#de5238"/><stop offset="0.0681" stop-color="#b0315b"/><stop offset="0.1069" stop-color="#c43c4e"/><stop offset="0.1514" stop-color="#ab2f5e"/><stop offset="0.1569" stop-color="#ba3655"/><stop offset="0.1653" stop-color="#e05536"/><stop offset="0.1681" stop-color="#dd513a"/><stop offset="0.1792" stop-color="#a92e5e"/><stop offset="0.1847" stop-color="#a32c61"/><stop offset="0.1986" stop-color="#a82e5f"/><stop offset="0.2097" stop-color="#ce4347"/><stop offset="0.2236" stop-color="#a82e5f"/><stop offset="0.2542" stop-color="#a92e5e"/><stop offset="0.2653" stop-color="#b63458"/><stop offset="0.2792" stop-color="#85216b"/><stop offset="0.2875" stop-color="#781c6d"/><stop offset="0.3542" stop-color="#57106e"/><stop offset="0.3819" stop-color="#69166e"/><stop offset="0.4125" stop-color="#9a2865"/><stop offset="0.4542" stop-color="#b43359"/><stop offset="0.5125" stop-color="#c63d4d"/><stop offset="0.5319" stop-color="#b3325a"/><stop offset="0.5625" stop-color="#741a6e"/><stop offset="0.5986" stop-color="#59106e"/><stop offset="0.6097" stop-color="#771c6d"/><stop offset="0.6153" stop-color="#5a116e"/><stop offset="0.6208" stop-color="#2d0b59"/><stop offset="0.6264" stop-color="#1c0c43"/><stop offset="0.6792" stop-color="#120a32"/><stop offset="0.6958" stop-color="#1b0c41"/><stop offset="0.7153" stop-color="#4d0d6c"/><stop offset="0.7264" stop-color="#64156e"/><stop offset="0.7431" stop-color="#71196e"/><stop offset="0.7569" stop-color="#932667"/><stop offset="0.7708" stop-color="#c63d4d"/><stop offset="0.7764" stop-color="#cf4446"/><stop offset="0.8264" stop-color="#d24644"/><stop offset="0.8403" stop-color="#eb6429"/><stop offset="0.8458" stop-color="#d84c3e"/><stop offset="0.8542" stop-color="#a02a63"/><stop offset="0.8708" stop-color="#82206c"/><stop offset="0.9208" stop-color="#721a6e"/><stop offset="0.9264" stop-color="#781c6d"/><stop offset="0.9375" stop-color="#a82e5f"/><stop offset="0.9486" stop-color="#741a6e"/><stop offset="0.9542" stop-color="#67166e"/><stop offset="0.9986" stop-color="#64156e"/></linearGradient><linearGradient id="g64"><stop offset="0.0014" stop-color="#380962"/><stop offset="0.0264" stop-color="#3d0965"/><stop offset="0.0375" stop-color="#4f0d6c"/><stop offset="0.0458" stop-color="#741a6e"/><stop offset="0.0514" stop-color="#a82e5f"/><stop offset="0.0569" stop-color="#c33b4f"/><stop offset="0.0653" stop-color="#a32c61"/><stop offset="0.0708" stop-color="#9b2964"/><stop offset="0.1125" stop-color="#c33b4f"/><stop offset="0.1542" stop-color="#b73557"/><stop offset="0.1653" stop-color="#e35933"/><stop offset="0.1708" stop-color="#d84c3e"/><stop offset="0.1764" stop-color="#ba3655"/><stop offset="0.1847" stop-color="#ad305d"/><stop offset="0.1986" stop-color="#b3325a"/><stop offset="0.2097" stop-color="#d84c3e"/><stop offset="0.2236" stop-color="#b0315b"/><stop offset="0.2514" stop-color="#a92e5e"/><stop offset="0.2569" stop-color="#b1325a"/><stop offset="0.2653" stop-color="#d84c3e"/><stop offset="0.2681" stop-color="#d94d3d"/><stop offset="0.2764" stop-color="#a62d60"/><stop offset="0.2847" stop-color="#8a226a"/><stop offset="0.3236" stop-color="#741a6e"/><stop offset="0.3681" stop-color="#490b6a"/><stop offset="0.3792" stop-color="#510e6c"/><stop offset="0.4097" stop-color="#922568"/><stop offset="0.4292" stop-color="#a82e5f"/><stop offset="0.4736" stop-color="#ad305d"/><stop offset="0.5319" stop-color="#c63d4d"/><stop offset="0.5403" stop-color="#c03a51"/><stop offset="0.5653" stop-color="#922568"/><stop offset="0.5931" stop-color="#7c1d6d"/><stop offset="0.6014" stop-color="#84206b"/><stop offset="0.6097" stop-color="#a62d60"/><stop offset="0.6125" stop-color="#a22b62"/><stop offset="0.6236" stop-color="#4f0d6c"/><stop offset="0.6292" stop-color="#3e0966"/><stop offset="0.6542" stop-color="#1e0c45"/><stop offset="0.6819" stop-color="#120a32"/><stop offset="0.7014" stop-color="#120a32"/><stop offset="0.7153" stop-color="#1e0c45"/><stop offset="0.7264" stop-color="#3e0966"/><stop offset="0.7403" stop-color="#65156e"/><stop offset="0.7653" stop-color="#7c1d6d"/><stop offset="0.7931" stop-color="#c63d4d"/><stop offset="0.8292" stop-color="#c73e4c"/><stop offset="0.8403" stop-color="#e35933"/><stop offset="0.8458" stop-color="#d74b3f"/><stop offset="0.8514" stop-color="#b0315b"/><stop offset="0.8569" stop-color="#932667"/><stop offset="0.8708" stop-color="#7c1d6d"/><stop offset="0.9236" stop-color="#721a6e"/><stop offset="0.9375" stop-color="#a82e5f"/><stop offset="0.9403" stop-color="#a52c60"/><stop offset="0.9486" stop-color="#751b6e"/><stop offset="0.9542" stop-color="#67166e"/><stop offset="0.9986" stop-color="#64156e"/></linearGradient><linearGradient id="g65"><stop offset="0.0014" stop-color="#290b55"/><stop offset="0.0375" stop-color="#360961"/><stop offset="0.0458" stop-color="#490b6a"/><stop offset="0.0569" stop-color="#801f6c"/><stop offset="0.0681" stop-color="#7d1e6d"/><stop offset="0.0819" stop-color="#922568"/><stop offset="0.0986" stop-color="#ca404a"/><stop offset="0.1069" stop-color="#bf3952"/><stop offset="0.1264" stop-color="#c63d4d"/><stop offset="0.1514" stop-color="#bf3952"/><stop offset="0.1569" stop-color="#c63d4d"/><stop offset="0.1653" stop-color="#e65d2f"/><stop offset="0.1708" stop-color="#dd513a"/><stop offset="0.1764" stop-color="#bd3853"/><stop offset="0.1875" stop-color="#ad305d"/><stop offset="0.1986" stop-color="#b1325a"/><stop offset="0.2097" stop-color="#d74b3f"/><stop offset="0.2236" stop-color="#b0315b"/><stop offset="0.2514" stop-color="#a82e5f"/><stop offset="0.2569" stop-color="#ad305d"/><stop offset="0.2681" stop-color="#d54a41"/><stop offset="0.2819" stop-color="#932667"/><stop offset="0.3014" stop-color="#8a226a"/><stop offset="0.3153" stop-color="#a32c61"/><stop offset="0.3292" stop-color="#7d1e6d"/><stop offset="0.3542" stop-color="#470b6a"/><stop offset="0.3764" stop-color="#340a5f"/><stop offset="0.3931" stop-color="#440a68"/><stop offset="0.4125" stop-color="#801f6c"/><stop offset="0.4264" stop-color="#982766"/><stop offset="0.4736" stop-color="#a02a63"/><stop offset="0.5181" stop-color="#c43c4e"/><stop offset="0.5514" stop-color="#c73e4c"/><stop offset="0.5792" stop-color="#b43359"/><stop offset="0.5986" stop-color="#932667"/><stop offset="0.6125" stop-color="#bd3853"/><stop offset="0.6208" stop-color="#8a226a"/><stop offset="0.6264" stop-color="#751b6e"/><stop offset="0.6597" stop-color="#490b6a"/><stop offset="0.6764" stop-color="#1e0c45"/><stop offset="0.6903" stop-color="#120a32"/><stop offset="0.7208" stop-color="#110a30"/><stop offset="0.7347" stop-color="#1f0c48"/><stop offset="0.7431" stop-color="#3b0964"/><stop offset="0.7542" stop-color="#64156e"/><stop offset="0.7903" stop-color="#8d2369"/><stop offset="0.8097" stop-color="#bc3754"/><stop offset="0.8292" stop-color="#c63d4d"/><stop offset="0.8431" stop-color="#e25734"/><stop offset="0.8458" stop-color="#da4e3c"/><stop offset="0.8569" stop-color="#922568"/><stop offset="0.8708" stop-color="#7a1d6d"/><stop offset="0.9236" stop-color="#721a6e"/><stop offset="0.9292" stop-color="#82206c"/><stop offset="0.9375" stop-color="#ad305d"/><stop offset="0.9403" stop-color="#ab2f5e"/><stop offset="0.9514" stop-color="#721a6e"/><stop offset="0.9569" stop-color="#6a176e"/><stop offset="0.9986" stop-color="#69166e"/></linearGradient><linearGradient id="g66"><stop offset="0.0014" stop-color="#280b53"/><stop offset="0.0375" stop-color="#290b55"/><stop offset="0.0514" stop-color="#390963"/><stop offset="0.0653" stop-color="#5c126e"/><stop offset="0.0847" stop-color="#85216b"/><stop offset="0.0903" stop-color="#a22b62"/><stop offset="0.0986" stop-color="#d84c3e"/><stop offset="0.1097" stop-color="#b93556"/><stop offset="0.1292" stop-color="#c03a51"/><stop offset="0.1542" stop-color="#b93556"/><stop offset="0.1681" stop-color="#e05536"/><stop offset="0.1792" stop-color="#a82e5f"/><stop offset="0.1847" stop-color="#9f2a63"/><stop offset="0.1986" stop-color="#a22b62"/><stop offset="0.2125" stop-color="#d04545"/><stop offset="0.2264" stop-color="#a92e5e"/><stop offset="0.2542" stop-color="#ae305c"/><stop offset="0.2597" stop-color="#bc3754"/><stop offset="0.2681" stop-color="#e05536"/><stop offset="0.2708" stop-color="#dd513a"/><stop offset="0.2819" stop-color="#a52c60"/><stop offset="0.2986" stop-color="#9b2964"/><stop offset="0.3042" stop-color="#a52c60"/><stop offset="0.3125" stop-color="#d04545"/><stop offset="0.3153" stop-color="#d44842"/><stop offset="0.3264" stop-color="#9f2a63"/><stop offset="0.3403" stop-color="#8c2369"/><stop offset="0.3514" stop-color="#6d186e"/><stop offset="0.3681" stop-color="#380962"/><stop offset="0.3847" stop-color="#260c51"/><stop offset="0.4069" stop-color="#2f0a5b"/><stop offset="0.4236" stop-color="#5d126e"/><stop offset="0.4319" stop-color="#7a1d6d"/><stop offset="0.4431" stop-color="#8d2369"/><stop offset="0.4764" stop-color="#972766"/><stop offset="0.5319" stop-color="#c73e4c"/><stop offset="0.5764" stop-color="#c63d4d"/><stop offset="0.6014" stop-color="#b0315b"/><stop offset="0.6097" stop-color="#ca404a"/><stop offset="0.6125" stop-color="#c83f4b"/><stop offset="0.6208" stop-color="#8f2469"/><stop offset="0.6264" stop-color="#781c6d"/><stop offset="0.6653" stop-color="#6a176e"/><stop offset="0.6792" stop-color="#4c0c6b"/><stop offset="0.6958" stop-color="#1b0c41"/><stop offset="0.7125" stop-color="#10092d"/><stop offset="0.7319" stop-color="#110a30"/><stop offset="0.7431" stop-color="#190c3e"/><stop offset="0.7542" stop-color="#380962"/><stop offset="0.7681" stop-color="#6a176e"/><stop offset="0.7819" stop-color="#84206b"/><stop offset="0.8069" stop-color="#8d2369"/><stop offset="0.8208" stop-color="#a32c61"/><stop offset="0.8319" stop-color="#bf3952"/><stop offset="0.8431" stop-color="#e9612b"/><stop offset="0.8486" stop-color="#de5238"/><stop offset="0.8569" stop-color="#a62d60"/><stop offset="0.8625" stop-color="#902568"/><stop offset="0.8764" stop-color="#781c6d"/><stop offset="0.9236" stop-color="#721a6e"/><stop offset="0.9292" stop-color="#801f6c"/><stop offset="0.9375" stop-color="#ab2f5e"/><stop offset="0.9403" stop-color="#ab2f5e"/><stop offset="0.9514" stop-color="#741a6e"/><stop offset="0.9569" stop-color="#6c186e"/><stop offset="0.9986" stop-color="#6a176e"/></linearGradient><linearGradient id="g67"><stop offset="0.0014" stop-color="#420a68"/><stop offset="0.0486" stop-color="#3b0964"/><stop offset="0.0625" stop-color="#450a69"/><stop offset="0.0847" stop-color="#751b6e"/><stop offset="0.0903" stop-color="#8c2369"/><stop offset="0.0986" stop-color="#c43c4e"/><stop offset="0.1014" stop-color="#c73e4c"/><stop offset="0.1125" stop-color="#a32c61"/><stop offset="0.1319" stop-color="#b0315b"/><stop offset="0.1542" stop-color="#9f2a63"/><stop offset="0.1681" stop-color="#cb4149"/><stop offset="0.1792" stop-color="#8f2469"/><stop offset="0.1931" stop-color="#82206c"/><stop offset="0.2014" stop-color="#8d2369"/><stop offset="0.2125" stop-color="#bc3754"/><stop offset="0.2236" stop-color="#9b2964"/><stop offset="0.2542" stop-color="#b63458"/><stop offset="0.2597" stop-color="#c63d4d"/><stop offset="0.2653" stop-color="#e35933"/><stop offset="0.2708" stop-color="#ee6a24"/><stop offset="0.2792" stop-color="#cf4446"/><stop offset="0.2875" stop-color="#c13a50"/><stop offset="0.3042" stop-color="#c73e4c"/><stop offset="0.3153" stop-color="#ed6925"/><stop offset="0.3181" stop-color="#ea632a"/><stop offset="0.3236" stop-color="#cf4446"/><stop offset="0.3292" stop-color="#ba3655"/><stop offset="0.3514" stop-color="#a32c61"/><stop offset="0.3653" stop-color="#741a6e"/><stop offset="0.3819" stop-color="#340a5f"/><stop offset="0.4042" stop-color="#240c4f"/><stop offset="0.4347" stop-color="#320a5e"/><stop offset="0.4542" stop-color="#67166e"/><stop offset="0.4903" stop-color="#982766"/><stop offset="0.5153" stop-color="#bf3952"/><stop offset="0.5736" stop-color="#c73e4c"/><stop offset="0.6014" stop-color="#b43359"/><stop offset="0.6125" stop-color="#d24644"/><stop offset="0.6236" stop-color="#8c2369"/><stop offset="0.6292" stop-color="#7c1d6d"/><stop offset="0.6764" stop-color="#6c186e"/><stop offset="0.6903" stop-color="#520e6d"/><stop offset="0.7069" stop-color="#230c4c"/><stop offset="0.7236" stop-color="#140b34"/><stop offset="0.7403" stop-color="#140b34"/><stop offset="0.7514" stop-color="#1b0c41"/><stop offset="0.7653" stop-color="#420a68"/><stop offset="0.7736" stop-color="#65156e"/><stop offset="0.7819" stop-color="#801f6c"/><stop offset="0.7903" stop-color="#8d2369"/><stop offset="0.8292" stop-color="#9a2865"/><stop offset="0.8347" stop-color="#a82e5f"/><stop offset="0.8431" stop-color="#d74b3f"/><stop offset="0.8458" stop-color="#db503b"/><stop offset="0.8625" stop-color="#9a2865"/><stop offset="0.8875" stop-color="#771c6d"/><stop offset="0.9236" stop-color="#721a6e"/><stop offset="0.9403" stop-color="#ad305d"/><stop offset="0.9514" stop-color="#751b6e"/><stop offset="0.9569" stop-color="#6c186e"/><stop offset="0.9986" stop-color="#6a176e"/></linearGradient><linearGradient id="g68"><stop offset="0.0014" stop-color="#7c1d6d"/><stop offset="0.0486" stop-color="#64156e"/><stop offset="0.0764" stop-color="#6c186e"/><stop offset="0.0875" stop-color="#7f1e6c"/><stop offset="0.0931" stop-color="#9d2964"/><stop offset="0.0986" stop-color="#c83f4b"/><stop offset="0.1014" stop-color="#d24644"/><stop offset="0.1042" stop-color="#cf4446"/><stop offset="0.1125" stop-color="#ab2f5e"/><stop offset="0.1403" stop-color="#a62d60"/><stop offset="0.1542" stop-color="#922568"/><stop offset="0.1597" stop-color="#982766"/><stop offset="0.1681" stop-color="#b93556"/><stop offset="0.1792" stop-color="#7a1d6d"/><stop offset="0.1931" stop-color="#6d186e"/><stop offset="0.2014" stop-color="#771c6d"/><stop offset="0.2125" stop-color="#a62d60"/><stop offset="0.2264" stop-color="#8c2369"/><stop offset="0.2569" stop-color="#b73557"/><stop offset="0.2625" stop-color="#d24644"/><stop offset="0.2708" stop-color="#f2741c"/><stop offset="0.2819" stop-color="#d84c3e"/><stop offset="0.3014" stop-color="#d84c3e"/><stop offset="0.3069" stop-color="#e25734"/><stop offset="0.3153" stop-color="#f8850f"/><stop offset="0.3181" stop-color="#f78410"/><stop offset="0.3264" stop-color="#dd513a"/><stop offset="0.3319" stop-color="#cf4446"/><stop offset="0.3708" stop-color="#a02a63"/><stop offset="0.3847" stop-color="#751b6e"/><stop offset="0.4014" stop-color="#440a68"/><stop offset="0.4403" stop-color="#2d0b59"/><stop offset="0.4653" stop-color="#3e0966"/><stop offset="0.4958" stop-color="#781c6d"/><stop offset="0.5236" stop-color="#bf3952"/><stop offset="0.5375" stop-color="#c73e4c"/><stop offset="0.5986" stop-color="#c33b4f"/><stop offset="0.6125" stop-color="#e45a31"/><stop offset="0.6181" stop-color="#cf4446"/><stop offset="0.6236" stop-color="#a82e5f"/><stop offset="0.6292" stop-color="#972766"/><stop offset="0.6681" stop-color="#721a6e"/><stop offset="0.7014" stop-color="#4c0c6b"/><stop offset="0.7153" stop-color="#290b55"/><stop offset="0.7292" stop-color="#180c3c"/><stop offset="0.7514" stop-color="#1b0c41"/><stop offset="0.7653" stop-color="#290b55"/><stop offset="0.7847" stop-color="#64156e"/><stop offset="0.8014" stop-color="#87216b"/><stop offset="0.8319" stop-color="#932667"/><stop offset="0.8458" stop-color="#d24644"/><stop offset="0.8486" stop-color="#d04545"/><stop offset="0.8625" stop-color="#952667"/><stop offset="0.8847" stop-color="#7c1d6d"/><stop offset="0.9236" stop-color="#741a6e"/><stop offset="0.9292" stop-color="#7f1e6c"/><stop offset="0.9375" stop-color="#ab2f5e"/><stop offset="0.9403" stop-color="#b0315b"/><stop offset="0.9514" stop-color="#7a1d6d"/><stop offset="0.9569" stop-color="#6f196e"/><stop offset="0.9986" stop-color="#6d186e"/></linearGradient><linearGradient id="g69"><stop offset="0.0014" stop-color="#9d2964"/><stop offset="0.0264" stop-color="#9a2865"/><stop offset="0.0569" stop-color="#85216b"/><stop offset="0.0792" stop-color="#8c2369"/><stop offset="0.0903" stop-color="#9d2964"/><stop offset="0.0986" stop-color="#d24644"/><stop offset="0.1042" stop-color="#e15635"/><stop offset="0.1153" stop-color="#bd3853"/><stop offset="0.1375" stop-color="#b73557"/><stop offset="0.1569" stop-color="#9b2964"/><stop offset="0.1681" stop-color="#bd3853"/><stop offset="0.1708" stop-color="#b63458"/><stop offset="0.1819" stop-color="#6d186e"/><stop offset="0.1986" stop-color="#5f136e"/><stop offset="0.2042" stop-color="#6c186e"/><stop offset="0.2125" stop-color="#952667"/><stop offset="0.2153" stop-color="#972766"/><stop offset="0.2236" stop-color="#7a1d6d"/><stop offset="0.2292" stop-color="#781c6d"/><stop offset="0.2514" stop-color="#9d2964"/><stop offset="0.2625" stop-color="#ca404a"/><stop offset="0.2708" stop-color="#f2741c"/><stop offset="0.2847" stop-color="#d74b3f"/><stop offset="0.3014" stop-color="#db503b"/><stop offset="0.3069" stop-color="#e35933"/><stop offset="0.3153" stop-color="#f98b0b"/><stop offset="0.3181" stop-color="#f98e09"/><stop offset="0.3264" stop-color="#e55c30"/><stop offset="0.3319" stop-color="#d94d3d"/><stop offset="0.3958" stop-color="#a62d60"/><stop offset="0.4181" stop-color="#6c186e"/><stop offset="0.4403" stop-color="#420a68"/><stop offset="0.4681" stop-color="#340a5f"/><stop offset="0.4875" stop-color="#3e0966"/><stop offset="0.5069" stop-color="#5c126e"/><stop offset="0.5208" stop-color="#85216b"/><stop offset="0.5403" stop-color="#bf3952"/><stop offset="0.6014" stop-color="#cc4248"/><stop offset="0.6125" stop-color="#f1711f"/><stop offset="0.6181" stop-color="#e8602d"/><stop offset="0.6264" stop-color="#c43c4e"/><stop offset="0.6569" stop-color="#b1325a"/><stop offset="0.6681" stop-color="#9a2865"/><stop offset="0.6792" stop-color="#721a6e"/><stop offset="0.6958" stop-color="#3e0966"/><stop offset="0.7375" stop-color="#190c3e"/><stop offset="0.7542" stop-color="#1e0c45"/><stop offset="0.7847" stop-color="#4a0c6b"/><stop offset="0.8069" stop-color="#6a176e"/><stop offset="0.8319" stop-color="#771c6d"/><stop offset="0.8375" stop-color="#88226a"/><stop offset="0.8458" stop-color="#ba3655"/><stop offset="0.8486" stop-color="#bf3952"/><stop offset="0.8625" stop-color="#88226a"/><stop offset="0.8931" stop-color="#771c6d"/><stop offset="0.9264" stop-color="#781c6d"/><stop offset="0.9403" stop-color="#b3325a"/><stop offset="0.9431" stop-color="#ae305c"/><stop offset="0.9514" stop-color="#801f6c"/><stop offset="0.9569" stop-color="#741a6e"/><stop offset="0.9986" stop-color="#721a6e"/></linearGradient><linearGradient id="g70"><stop offset="0.0014" stop-color="#a92e5e"/><stop offset="0.0264" stop-color="#a62d60"/><stop offset="0.0625" stop-color="#88226a"/><stop offset="0.0819" stop-color="#8c2369"/><stop offset="0.0931" stop-color="#a52c60"/><stop offset="0.1014" stop-color="#de5238"/><stop offset="0.1042" stop-color="#e65d2f"/><stop offset="0.1153" stop-color="#c73e4c"/><stop offset="0.1375" stop-color="#c13a50"/><stop offset="0.1542" stop-color="#a52c60"/><stop offset="0.1597" stop-color="#a52c60"/><stop offset="0.1681" stop-color="#c13a50"/><stop offset="0.1708" stop-color="#bd3853"/><stop offset="0.1792" stop-color="#7f1e6c"/><stop offset="0.1847" stop-color="#69166e"/><stop offset="0.2014" stop-color="#520e6d"/><stop offset="0.2153" stop-color="#71196e"/><stop offset="0.2264" stop-color="#490b6a"/><stop offset="0.2375" stop-color="#57106e"/><stop offset="0.2542" stop-color="#7f1e6c"/><stop offset="0.2625" stop-color="#a32c61"/><stop offset="0.2708" stop-color="#e15635"/><stop offset="0.2736" stop-color="#e55c30"/><stop offset="0.2847" stop-color="#d24644"/><stop offset="0.3042" stop-color="#dd513a"/><stop offset="0.3097" stop-color="#e9612b"/><stop offset="0.3181" stop-color="#fa9008"/><stop offset="0.3264" stop-color="#ea632a"/><stop offset="0.3319" stop-color="#dd513a"/><stop offset="0.4069" stop-color="#bf3952"/><stop offset="0.4153" stop-color="#ae305c"/><stop offset="0.4292" stop-color="#781c6d"/><stop offset="0.4458" stop-color="#400a67"/><stop offset="0.4736" stop-color="#2f0a5b"/><stop offset="0.4986" stop-color="#400a67"/><stop offset="0.5264" stop-color="#7d1e6d"/><stop offset="0.5403" stop-color="#a62d60"/><stop offset="0.5542" stop-color="#c03a51"/><stop offset="0.5986" stop-color="#c83f4b"/><stop offset="0.6042" stop-color="#d34743"/><stop offset="0.6125" stop-color="#f1731d"/><stop offset="0.6153" stop-color="#f2741c"/><stop offset="0.6264" stop-color="#cc4248"/><stop offset="0.6625" stop-color="#bf3952"/><stop offset="0.6736" stop-color="#a62d60"/><stop offset="0.6875" stop-color="#721a6e"/><stop offset="0.7042" stop-color="#380962"/><stop offset="0.7264" stop-color="#210c4a"/><stop offset="0.7486" stop-color="#1f0c48"/><stop offset="0.7625" stop-color="#280b53"/><stop offset="0.7958" stop-color="#59106e"/><stop offset="0.8347" stop-color="#6a176e"/><stop offset="0.8486" stop-color="#b0315b"/><stop offset="0.8514" stop-color="#ae305c"/><stop offset="0.8597" stop-color="#85216b"/><stop offset="0.8653" stop-color="#7a1d6d"/><stop offset="0.9236" stop-color="#751b6e"/><stop offset="0.9292" stop-color="#7f1e6c"/><stop offset="0.9403" stop-color="#b43359"/><stop offset="0.9431" stop-color="#b1325a"/><stop offset="0.9514" stop-color="#84206b"/><stop offset="0.9569" stop-color="#751b6e"/><stop offset="0.9986" stop-color="#741a6e"/></linearGradient><linearGradient id="g71"><stop offset="0.0014" stop-color="#b0315b"/><stop offset="0.0292" stop-color="#ad305d"/><stop offset="0.0819" stop-color="#88226a"/><stop offset="0.0931" stop-color="#952667"/><stop offset="0.1042" stop-color="#d94d3d"/><stop offset="0.1069" stop-color="#dd513a"/><stop offset="0.1181" stop-color="#bf3952"/><stop offset="0.1347" stop-color="#c43c4e"/><stop offset="0.1569" stop-color="#b0315b"/><stop offset="0.1681" stop-color="#cb4149"/><stop offset="0.1708" stop-color="#c83f4b"/><stop offset="0.1792" stop-color="#88226a"/><stop offset="0.1847" stop-color="#6d186e"/><stop offset="0.2042" stop-color="#4a0c6b"/><stop offset="0.2153" stop-color="#5f136e"/><stop offset="0.2208" stop-color="#440a68"/><stop offset="0.2264" stop-color="#280b53"/><stop offset="0.2319" stop-color="#230c4c"/><stop offset="0.2458" stop-color="#390963"/><stop offset="0.2597" stop-color="#65156e"/><stop offset="0.2653" stop-color="#8f2469"/><stop offset="0.2708" stop-color="#c13a50"/><stop offset="0.2736" stop-color="#cc4248"/><stop offset="0.2847" stop-color="#bf3952"/><stop offset="0.3042" stop-color="#d84c3e"/><stop offset="0.3097" stop-color="#e55c30"/><stop offset="0.3181" stop-color="#f98e09"/><stop offset="0.3208" stop-color="#f98c0a"/><stop offset="0.3292" stop-color="#e45a31"/><stop offset="0.3347" stop-color="#dd513a"/><stop offset="0.4097" stop-color="#cc4248"/><stop offset="0.4208" stop-color="#b3325a"/><stop offset="0.4375" stop-color="#6a176e"/><stop offset="0.4542" stop-color="#320a5e"/><stop offset="0.4708" stop-color="#230c4c"/><stop offset="0.4931" stop-color="#2d0b59"/><stop offset="0.5069" stop-color="#4a0c6b"/><stop offset="0.5264" stop-color="#771c6d"/><stop offset="0.5542" stop-color="#b43359"/><stop offset="0.6014" stop-color="#cb4149"/><stop offset="0.6153" stop-color="#f2741c"/><stop offset="0.6236" stop-color="#d74b3f"/><stop offset="0.6292" stop-color="#ca404a"/><stop offset="0.6597" stop-color="#c73e4c"/><stop offset="0.6736" stop-color="#bc3754"/><stop offset="0.7014" stop-color="#62146e"/><stop offset="0.7236" stop-color="#3e0966"/><stop offset="0.7653" stop-color="#380962"/><stop offset="0.7958" stop-color="#550f6d"/><stop offset="0.8319" stop-color="#62146e"/><stop offset="0.8375" stop-color="#6a176e"/><stop offset="0.8486" stop-color="#a62d60"/><stop offset="0.8514" stop-color="#a92e5e"/><stop offset="0.8653" stop-color="#751b6e"/><stop offset="0.9264" stop-color="#771c6d"/><stop offset="0.9403" stop-color="#b3325a"/><stop offset="0.9458" stop-color="#a62d60"/><stop offset="0.9542" stop-color="#7c1d6d"/><stop offset="0.9597" stop-color="#741a6e"/><stop offset="0.9986" stop-color="#741a6e"/></linearGradient><linearGradient id="g72"><stop offset="0.0014" stop-color="#a92e5e"/><stop offset="0.0347" stop-color="#a92e5e"/><stop offset="0.0875" stop-color="#8f2469"/><stop offset="0.0958" stop-color="#9b2964"/><stop offset="0.1069" stop-color="#d54a41"/><stop offset="0.1208" stop-color="#b0315b"/><stop offset="0.1403" stop-color="#b93556"/><stop offset="0.1569" stop-color="#b1325a"/><stop offset="0.1708" stop-color="#d34743"/><stop offset="0.1819" stop-color="#8c2369"/><stop offset="0.1903" stop-color="#721a6e"/><stop offset="0.2042" stop-color="#520e6d"/><stop offset="0.2153" stop-color="#61136e"/><stop offset="0.2208" stop-color="#440a68"/><stop offset="0.2264" stop-color="#230c4c"/><stop offset="0.2319" stop-color="#180c3c"/><stop offset="0.2458" stop-color="#1e0c45"/><stop offset="0.2569" stop-color="#3b0964"/><stop offset="0.2653" stop-color="#6c186e"/><stop offset="0.2708" stop-color="#9f2a63"/><stop offset="0.2736" stop-color="#ab2f5e"/><stop offset="0.2819" stop-color="#952667"/><stop offset="0.2875" stop-color="#952667"/><stop offset="0.3069" stop-color="#d44842"/><stop offset="0.3153" stop-color="#f37819"/><stop offset="0.3208" stop-color="#f98e09"/><stop offset="0.3292" stop-color="#e65d2f"/><stop offset="0.3347" stop-color="#dd513a"/><stop offset="0.4153" stop-color="#d54a41"/><stop offset="0.4236" stop-color="#c43c4e"/><stop offset="0.4375" stop-color="#801f6c"/><stop offset="0.4458" stop-color="#59106e"/><stop offset="0.4569" stop-color="#380962"/><stop offset="0.4931" stop-color="#1e0c45"/><stop offset="0.5125" stop-color="#2d0b59"/><stop offset="0.5264" stop-color="#59106e"/><stop offset="0.5486" stop-color="#952667"/><stop offset="0.5875" stop-color="#ab2f5e"/><stop offset="0.6042" stop-color="#c83f4b"/><stop offset="0.6097" stop-color="#e45a31"/><stop offset="0.6153" stop-color="#f1731d"/><stop offset="0.6236" stop-color="#d94d3d"/><stop offset="0.6292" stop-color="#ca404a"/><stop offset="0.6792" stop-color="#c43c4e"/><stop offset="0.6875" stop-color="#bc3754"/><stop offset="0.7153" stop-color="#7a1d6d"/><stop offset="0.7736" stop-color="#520e6d"/><stop offset="0.8319" stop-color="#5c126e"/><stop offset="0.8403" stop-color="#6c186e"/><stop offset="0.8514" stop-color="#a52c60"/><stop offset="0.8625" stop-color="#781c6d"/><stop offset="0.8681" stop-color="#6f196e"/><stop offset="0.9264" stop-color="#771c6d"/><stop offset="0.9319" stop-color="#87216b"/><stop offset="0.9403" stop-color="#b3325a"/><stop offset="0.9431" stop-color="#b3325a"/><stop offset="0.9514" stop-color="#87216b"/><stop offset="0.9569" stop-color="#771c6d"/><stop offset="0.9986" stop-color="#741a6e"/></linearGradient><linearGradient id="g73"><stop offset="0.0014" stop-color="#9d2964"/><stop offset="0.0875" stop-color="#932667"/><stop offset="0.0958" stop-color="#9f2a63"/><stop offset="0.1042" stop-color="#cc4248"/><stop offset="0.1097" stop-color="#d94d3d"/><stop offset="0.1181" stop-color="#b3325a"/><stop offset="0.1236" stop-color="#a82e5f"/><stop offset="0.1569" stop-color="#a52c60"/><stop offset="0.1708" stop-color="#d34743"/><stop offset="0.1847" stop-color="#8a226a"/><stop offset="0.2014" stop-color="#65156e"/><stop offset="0.2153" stop-color="#6c186e"/><stop offset="0.2181" stop-color="#62146e"/><stop offset="0.2236" stop-color="#3b0964"/><stop offset="0.2292" stop-color="#1e0c45"/><stop offset="0.2375" stop-color="#140b34"/><stop offset="0.2486" stop-color="#150b37"/><stop offset="0.2569" stop-color="#210c4a"/><stop offset="0.2653" stop-color="#4d0d6c"/><stop offset="0.2736" stop-color="#982766"/><stop offset="0.2764" stop-color="#9b2964"/><stop offset="0.2875" stop-color="#7a1d6d"/><stop offset="0.2958" stop-color="#82206c"/><stop offset="0.3042" stop-color="#932667"/><stop offset="0.3097" stop-color="#ae305c"/><stop offset="0.3181" stop-color="#eb6628"/><stop offset="0.3208" stop-color="#f2741c"/><stop offset="0.3236" stop-color="#f2741c"/><stop offset="0.3319" stop-color="#de5238"/><stop offset="0.3375" stop-color="#da4e3c"/><stop offset="0.4181" stop-color="#db503b"/><stop offset="0.4292" stop-color="#e35933"/><stop offset="0.4347" stop-color="#d44842"/><stop offset="0.4458" stop-color="#8d2369"/><stop offset="0.4514" stop-color="#6c186e"/><stop offset="0.4625" stop-color="#400a67"/><stop offset="0.5125" stop-color="#160b39"/><stop offset="0.5264" stop-color="#190c3e"/><stop offset="0.5347" stop-color="#240c4f"/><stop offset="0.5458" stop-color="#4a0c6b"/><stop offset="0.5542" stop-color="#6c186e"/><stop offset="0.5681" stop-color="#8d2369"/><stop offset="0.6014" stop-color="#a02a63"/><stop offset="0.6069" stop-color="#b93556"/><stop offset="0.6153" stop-color="#e8602d"/><stop offset="0.6292" stop-color="#c73e4c"/><stop offset="0.6875" stop-color="#c33b4f"/><stop offset="0.7236" stop-color="#972766"/><stop offset="0.7903" stop-color="#5c126e"/><stop offset="0.8347" stop-color="#5c126e"/><stop offset="0.8431" stop-color="#721a6e"/><stop offset="0.8514" stop-color="#a22b62"/><stop offset="0.8542" stop-color="#a22b62"/><stop offset="0.8625" stop-color="#7a1d6d"/><stop offset="0.8681" stop-color="#6d186e"/><stop offset="0.9236" stop-color="#741a6e"/><stop offset="0.9292" stop-color="#7c1d6d"/><stop offset="0.9403" stop-color="#b1325a"/><stop offset="0.9431" stop-color="#b43359"/><stop offset="0.9569" stop-color="#771c6d"/><stop offset="0.9986" stop-color="#741a6e"/></linearGradient><linearGradient id="g74"><stop offset="0.0014" stop-color="#972766"/><stop offset="0.0736" stop-color="#82206c"/><stop offset="0.0958" stop-color="#952667"/><stop offset="0.1014" stop-color="#b0315b"/><stop offset="0.1069" stop-color="#d54a41"/><stop offset="0.1097" stop-color="#dd513a"/><stop offset="0.1236" stop-color="#b93556"/><stop offset="0.1569" stop-color="#ae305c"/><stop offset="0.1708" stop-color="#d84c3e"/><stop offset="0.1736" stop-color="#d24644"/><stop offset="0.1847" stop-color="#952667"/><stop offset="0.2042" stop-color="#6d186e"/><stop offset="0.2153" stop-color="#741a6e"/><stop offset="0.2208" stop-color="#5c126e"/><stop offset="0.2292" stop-color="#260c51"/><stop offset="0.2458" stop-color="#140b34"/><stop offset="0.2569" stop-color="#150b37"/><stop offset="0.2625" stop-color="#1e0c45"/><stop offset="0.2681" stop-color="#440a68"/><stop offset="0.2708" stop-color="#5d126e"/><stop offset="0.2736" stop-color="#721a6e"/><stop offset="0.2764" stop-color="#781c6d"/><stop offset="0.2875" stop-color="#65156e"/><stop offset="0.3069" stop-color="#801f6c"/><stop offset="0.3125" stop-color="#982766"/><stop offset="0.3208" stop-color="#d34743"/><stop offset="0.3236" stop-color="#d84c3e"/><stop offset="0.3319" stop-color="#c73e4c"/><stop offset="0.3542" stop-color="#da4e3c"/><stop offset="0.4181" stop-color="#db503b"/><stop offset="0.4236" stop-color="#e15635"/><stop offset="0.4319" stop-color="#f37819"/><stop offset="0.4347" stop-color="#f37819"/><stop offset="0.4403" stop-color="#e55c30"/><stop offset="0.4514" stop-color="#b3325a"/><stop offset="0.4653" stop-color="#6f196e"/><stop offset="0.4819" stop-color="#3d0965"/><stop offset="0.5069" stop-color="#1c0c43"/><stop offset="0.5236" stop-color="#140b34"/><stop offset="0.5403" stop-color="#120a32"/><stop offset="0.5542" stop-color="#1c0c43"/><stop offset="0.5653" stop-color="#3e0966"/><stop offset="0.5736" stop-color="#62146e"/><stop offset="0.5847" stop-color="#7f1e6c"/><stop offset="0.6042" stop-color="#902568"/><stop offset="0.6153" stop-color="#cf4446"/><stop offset="0.6292" stop-color="#b3325a"/><stop offset="0.6514" stop-color="#c73e4c"/><stop offset="0.6958" stop-color="#c13a50"/><stop offset="0.7292" stop-color="#9f2a63"/><stop offset="0.7903" stop-color="#5c126e"/><stop offset="0.8375" stop-color="#5f136e"/><stop offset="0.8431" stop-color="#6d186e"/><stop offset="0.8514" stop-color="#9f2a63"/><stop offset="0.8542" stop-color="#a52c60"/><stop offset="0.8681" stop-color="#71196e"/><stop offset="0.9264" stop-color="#751b6e"/><stop offset="0.9319" stop-color="#82206c"/><stop offset="0.9403" stop-color="#b0315b"/><stop offset="0.9431" stop-color="#b43359"/><stop offset="0.9569" stop-color="#781c6d"/><stop offset="0.9986" stop-color="#741a6e"/></linearGradient><linearGradient id="g75"><stop offset="0.0014" stop-color="#9d2964"/><stop offset="0.0236" stop-color="#9a2865"/><stop offset="0.0597" stop-color="#781c6d"/><stop offset="0.0764" stop-color="#741a6e"/><stop offset="0.0958" stop-color="#87216b"/><stop offset="0.1014" stop-color="#9f2a63"/><stop offset="0.1097" stop-color="#d94d3d"/><stop offset="0.1125" stop-color="#dd513a"/><stop offset="0.1236" stop-color="#bc3754"/><stop offset="0.1597" stop-color="#bc3754"/><stop offset="0.1708" stop-color="#e05536"/><stop offset="0.1736" stop-color="#dd513a"/><stop offset="0.1847" stop-color="#a02a63"/><stop offset="0.2069" stop-color="#7c1d6d"/><stop offset="0.2153" stop-color="#84206b"/><stop offset="0.2208" stop-color="#6c186e"/><stop offset="0.2264" stop-color="#420a68"/><stop offset="0.2319" stop-color="#280b53"/><stop offset="0.2375" stop-color="#1c0c43"/><stop offset="0.2514" stop-color="#150b37"/><stop offset="0.2625" stop-color="#190c3e"/><stop offset="0.2681" stop-color="#340a5f"/><stop offset="0.2736" stop-color="#5c126e"/><stop offset="0.2764" stop-color="#62146e"/><stop offset="0.2847" stop-color="#450a69"/><stop offset="0.2903" stop-color="#440a68"/><stop offset="0.3097" stop-color="#721a6e"/><stop offset="0.3208" stop-color="#b73557"/><stop offset="0.3236" stop-color="#bc3754"/><stop offset="0.3347" stop-color="#a22b62"/><stop offset="0.3486" stop-color="#ca404a"/><stop offset="0.3597" stop-color="#d84c3e"/><stop offset="0.4236" stop-color="#dd513a"/><stop offset="0.4375" stop-color="#f57b17"/><stop offset="0.4514" stop-color="#d04545"/><stop offset="0.4625" stop-color="#b43359"/><stop offset="0.4792" stop-color="#751b6e"/><stop offset="0.4931" stop-color="#4d0d6c"/><stop offset="0.5069" stop-color="#290b55"/><stop offset="0.5292" stop-color="#140b34"/><stop offset="0.5569" stop-color="#120a32"/><stop offset="0.5764" stop-color="#1f0c48"/><stop offset="0.5875" stop-color="#420a68"/><stop offset="0.5958" stop-color="#62146e"/><stop offset="0.6069" stop-color="#8a226a"/><stop offset="0.6153" stop-color="#c03a51"/><stop offset="0.6181" stop-color="#c13a50"/><stop offset="0.6292" stop-color="#932667"/><stop offset="0.6597" stop-color="#c33b4f"/><stop offset="0.7042" stop-color="#c13a50"/><stop offset="0.7569" stop-color="#8f2469"/><stop offset="0.7819" stop-color="#65156e"/><stop offset="0.8042" stop-color="#5a116e"/><stop offset="0.8403" stop-color="#62146e"/><stop offset="0.8542" stop-color="#a52c60"/><stop offset="0.8569" stop-color="#a32c61"/><stop offset="0.8653" stop-color="#7a1d6d"/><stop offset="0.8708" stop-color="#6f196e"/><stop offset="0.9264" stop-color="#751b6e"/><stop offset="0.9319" stop-color="#801f6c"/><stop offset="0.9431" stop-color="#b43359"/><stop offset="0.9569" stop-color="#781c6d"/><stop offset="0.9986" stop-color="#741a6e"/></linearGradient><linearGradient id="g76"><stop offset="0.0014" stop-color="#a92e5e"/><stop offset="0.0236" stop-color="#a62d60"/><stop offset="0.0653" stop-color="#741a6e"/><stop offset="0.0792" stop-color="#71196e"/><stop offset="0.0986" stop-color="#88226a"/><stop offset="0.1042" stop-color="#a62d60"/><stop offset="0.1097" stop-color="#d24644"/><stop offset="0.1125" stop-color="#da4e3c"/><stop offset="0.1236" stop-color="#bf3952"/><stop offset="0.1597" stop-color="#bf3952"/><stop offset="0.1708" stop-color="#e25734"/><stop offset="0.1736" stop-color="#e05536"/><stop offset="0.1819" stop-color="#b0315b"/><stop offset="0.1875" stop-color="#9d2964"/><stop offset="0.2042" stop-color="#902568"/><stop offset="0.2181" stop-color="#a22b62"/><stop offset="0.2292" stop-color="#550f6d"/><stop offset="0.2403" stop-color="#340a5f"/><stop offset="0.2625" stop-color="#280b53"/><stop offset="0.2708" stop-color="#4a0c6b"/><stop offset="0.2764" stop-color="#61136e"/><stop offset="0.2847" stop-color="#340a5f"/><stop offset="0.2903" stop-color="#280b53"/><stop offset="0.3097" stop-color="#5f136e"/><stop offset="0.3208" stop-color="#a82e5f"/><stop offset="0.3236" stop-color="#b1325a"/><stop offset="0.3319" stop-color="#8f2469"/><stop offset="0.3375" stop-color="#88226a"/><stop offset="0.3569" stop-color="#c43c4e"/><stop offset="0.3653" stop-color="#d34743"/><stop offset="0.4264" stop-color="#dd513a"/><stop offset="0.4403" stop-color="#f57d15"/><stop offset="0.4542" stop-color="#d74b3f"/><stop offset="0.4653" stop-color="#c43c4e"/><stop offset="0.4903" stop-color="#7a1d6d"/><stop offset="0.5125" stop-color="#470b6a"/><stop offset="0.5264" stop-color="#230c4c"/><stop offset="0.5458" stop-color="#140b34"/><stop offset="0.5819" stop-color="#150b37"/><stop offset="0.5958" stop-color="#230c4c"/><stop offset="0.6014" stop-color="#340a5f"/><stop offset="0.6069" stop-color="#550f6d"/><stop offset="0.6153" stop-color="#a62d60"/><stop offset="0.6181" stop-color="#b0315b"/><stop offset="0.6264" stop-color="#922568"/><stop offset="0.6319" stop-color="#8a226a"/><stop offset="0.6625" stop-color="#bc3754"/><stop offset="0.6847" stop-color="#ca404a"/><stop offset="0.7125" stop-color="#c33b4f"/><stop offset="0.7403" stop-color="#952667"/><stop offset="0.7653" stop-color="#8a226a"/><stop offset="0.7931" stop-color="#64156e"/><stop offset="0.8042" stop-color="#5f136e"/><stop offset="0.8403" stop-color="#62146e"/><stop offset="0.8458" stop-color="#721a6e"/><stop offset="0.8542" stop-color="#a32c61"/><stop offset="0.8569" stop-color="#a62d60"/><stop offset="0.8708" stop-color="#71196e"/><stop offset="0.9264" stop-color="#751b6e"/><stop offset="0.9319" stop-color="#7f1e6c"/><stop offset="0.9431" stop-color="#b43359"/><stop offset="0.9597" stop-color="#751b6e"/><stop offset="0.9986" stop-color="#741a6e"/></linearGradient><linearGradient id="g77"><stop offset="0.0014" stop-color="#b63458"/><stop offset="0.0236" stop-color="#b3325a"/><stop offset="0.0681" stop-color="#7a1d6d"/><stop offset="0.0847" stop-color="#771c6d"/><stop offset="0.1014" stop-color="#902568"/><stop offset="0.1125" stop-color="#da4e3c"/><stop offset="0.1153" stop-color="#de5238"/><stop offset="0.1264" stop-color="#bf3952"/><stop offset="0.1569" stop-color="#c63d4d"/><stop offset="0.1625" stop-color="#cc4248"/><stop offset="0.1736" stop-color="#ea632a"/><stop offset="0.1819" stop-color="#bf3952"/><stop offset="0.1875" stop-color="#ab2f5e"/><stop offset="0.2042" stop-color="#982766"/><stop offset="0.2181" stop-color="#b93556"/><stop offset="0.2208" stop-color="#b43359"/><stop offset="0.2319" stop-color="#7a1d6d"/><stop offset="0.2514" stop-color="#5d126e"/><stop offset="0.2653" stop-color="#59106e"/><stop offset="0.2764" stop-color="#84206b"/><stop offset="0.2792" stop-color="#7c1d6d"/><stop offset="0.2875" stop-color="#400a67"/><stop offset="0.2958" stop-color="#310a5c"/><stop offset="0.3097" stop-color="#4a0c6b"/><stop offset="0.3153" stop-color="#6d186e"/><stop offset="0.3236" stop-color="#b43359"/><stop offset="0.3264" stop-color="#b73557"/><stop offset="0.3347" stop-color="#932667"/><stop offset="0.3403" stop-color="#8f2469"/><stop offset="0.3514" stop-color="#9b2964"/><stop offset="0.3736" stop-color="#ce4347"/><stop offset="0.4292" stop-color="#d84c3e"/><stop offset="0.4347" stop-color="#e05536"/><stop offset="0.4431" stop-color="#f3761b"/><stop offset="0.4458" stop-color="#f2741c"/><stop offset="0.4569" stop-color="#d84c3e"/><stop offset="0.4764" stop-color="#c03a51"/><stop offset="0.5014" stop-color="#771c6d"/><stop offset="0.5264" stop-color="#490b6a"/><stop offset="0.5431" stop-color="#260c51"/><stop offset="0.5653" stop-color="#180c3c"/><stop offset="0.5847" stop-color="#190c3e"/><stop offset="0.6014" stop-color="#290b55"/><stop offset="0.6097" stop-color="#540f6d"/><stop offset="0.6153" stop-color="#87216b"/><stop offset="0.6181" stop-color="#952667"/><stop offset="0.6319" stop-color="#82206c"/><stop offset="0.6736" stop-color="#bd3853"/><stop offset="0.6875" stop-color="#c63d4d"/><stop offset="0.7208" stop-color="#bd3853"/><stop offset="0.7569" stop-color="#7c1d6d"/><stop offset="0.8069" stop-color="#6a176e"/><stop offset="0.8431" stop-color="#6d186e"/><stop offset="0.8569" stop-color="#ab2f5e"/><stop offset="0.8597" stop-color="#a62d60"/><stop offset="0.8681" stop-color="#7c1d6d"/><stop offset="0.8736" stop-color="#71196e"/><stop offset="0.9236" stop-color="#741a6e"/><stop offset="0.9319" stop-color="#7d1e6d"/><stop offset="0.9431" stop-color="#b3325a"/><stop offset="0.9458" stop-color="#b1325a"/><stop offset="0.9569" stop-color="#7c1d6d"/><stop offset="0.9625" stop-color="#741a6e"/><stop offset="0.9986" stop-color="#741a6e"/></linearGradient><linearGradient id="g78"><stop offset="0.0014" stop-color="#c03a51"/><stop offset="0.0375" stop-color="#ba3655"/><stop offset="0.0653" stop-color="#8a226a"/><stop offset="0.0903" stop-color="#7c1d6d"/><stop offset="0.1014" stop-color="#8a226a"/><stop offset="0.1069" stop-color="#a62d60"/><stop offset="0.1125" stop-color="#d04545"/><stop offset="0.1153" stop-color="#da4e3c"/><stop offset="0.1292" stop-color="#bd3853"/><stop offset="0.1569" stop-color="#c83f4b"/><stop offset="0.1625" stop-color="#d04545"/><stop offset="0.1736" stop-color="#f1731d"/><stop offset="0.1819" stop-color="#d44842"/><stop offset="0.1875" stop-color="#c33b4f"/><stop offset="0.2069" stop-color="#b43359"/><stop offset="0.2181" stop-color="#ca404a"/><stop offset="0.2208" stop-color="#c43c4e"/><stop offset="0.2292" stop-color="#972766"/><stop offset="0.2375" stop-color="#84206b"/><stop offset="0.2625" stop-color="#7c1d6d"/><stop offset="0.2681" stop-color="#87216b"/><stop offset="0.2764" stop-color="#ae305c"/><stop offset="0.2819" stop-color="#982766"/><stop offset="0.2903" stop-color="#57106e"/><stop offset="0.2958" stop-color="#440a68"/><stop offset="0.3042" stop-color="#3b0964"/><stop offset="0.3125" stop-color="#4a0c6b"/><stop offset="0.3181" stop-color="#751b6e"/><stop offset="0.3236" stop-color="#a92e5e"/><stop offset="0.3264" stop-color="#b43359"/><stop offset="0.3375" stop-color="#9f2a63"/><stop offset="0.3847" stop-color="#c83f4b"/><stop offset="0.4319" stop-color="#cf4446"/><stop offset="0.4486" stop-color="#ee6a24"/><stop offset="0.4597" stop-color="#d24644"/><stop offset="0.4875" stop-color="#c33b4f"/><stop offset="0.5153" stop-color="#751b6e"/><stop offset="0.5347" stop-color="#520e6d"/><stop offset="0.5514" stop-color="#2f0a5b"/><stop offset="0.5764" stop-color="#1c0c43"/><stop offset="0.5986" stop-color="#1e0c45"/><stop offset="0.6042" stop-color="#260c51"/><stop offset="0.6069" stop-color="#310a5c"/><stop offset="0.6125" stop-color="#5c126e"/><stop offset="0.6181" stop-color="#84206b"/><stop offset="0.6292" stop-color="#771c6d"/><stop offset="0.6486" stop-color="#9d2964"/><stop offset="0.7042" stop-color="#bc3754"/><stop offset="0.7292" stop-color="#b43359"/><stop offset="0.7542" stop-color="#87216b"/><stop offset="0.7736" stop-color="#721a6e"/><stop offset="0.8431" stop-color="#741a6e"/><stop offset="0.8486" stop-color="#84206b"/><stop offset="0.8569" stop-color="#b0315b"/><stop offset="0.8597" stop-color="#b0315b"/><stop offset="0.8681" stop-color="#85216b"/><stop offset="0.8736" stop-color="#751b6e"/><stop offset="0.9236" stop-color="#741a6e"/><stop offset="0.9319" stop-color="#7c1d6d"/><stop offset="0.9431" stop-color="#b3325a"/><stop offset="0.9458" stop-color="#b3325a"/><stop offset="0.9542" stop-color="#87216b"/><stop offset="0.9597" stop-color="#771c6d"/><stop offset="0.9986" stop-color="#741a6e"/></linearGradient><linearGradient id="g79"><stop offset="0.0014" stop-color="#a52c60"/><stop offset="0.0403" stop-color="#5c126e"/><stop offset="0.0847" stop-color="#57106e"/><stop offset="0.0986" stop-color="#65156e"/><stop offset="0.1236" stop-color="#b73557"/><stop offset="0.1486" stop-color="#c73e4c"/><stop offset="0.1597" stop-color="#ed6925"/><stop offset="0.1625" stop-color="#ed6925"/><stop offset="0.1708" stop-color="#cb4149"/><stop offset="0.1819" stop-color="#bd3853"/><stop offset="0.1931" stop-color="#c73e4c"/><stop offset="0.1986" stop-color="#e15635"/><stop offset="0.2042" stop-color="#e75e2e"/><stop offset="0.2125" stop-color="#bf3952"/><stop offset="0.2208" stop-color="#b0315b"/><stop offset="0.3292" stop-color="#d74b3f"/><stop offset="0.4653" stop-color="#ba3655"/><stop offset="0.5153" stop-color="#d74b3f"/><stop offset="0.5903" stop-color="#d84c3e"/><stop offset="0.6681" stop-color="#e8602d"/><stop offset="0.6903" stop-color="#de5238"/><stop offset="0.7097" stop-color="#ba3655"/><stop offset="0.7431" stop-color="#a92e5e"/><stop offset="0.7653" stop-color="#6f196e"/><stop offset="0.7764" stop-color="#84206b"/><stop offset="0.7792" stop-color="#7d1e6d"/><stop offset="0.7875" stop-color="#420a68"/><stop offset="0.7958" stop-color="#2d0b59"/><stop offset="0.8375" stop-color="#2d0b59"/><stop offset="0.8569" stop-color="#400a67"/><stop offset="0.8708" stop-color="#6c186e"/><stop offset="0.8875" stop-color="#982766"/><stop offset="0.9125" stop-color="#a82e5f"/><stop offset="0.9181" stop-color="#b1325a"/><stop offset="0.9236" stop-color="#c83f4b"/><stop offset="0.9319" stop-color="#f1711f"/><stop offset="0.9347" stop-color="#f3761b"/><stop offset="0.9486" stop-color="#d84c3e"/><stop offset="0.9986" stop-color="#d04545"/></linearGradient><linearGradient id="g80"><stop offset="0.0014" stop-color="#c73e4c"/><stop offset="0.0181" stop-color="#ad305d"/><stop offset="0.0375" stop-color="#6d186e"/><stop offset="0.0458" stop-color="#5f136e"/><stop offset="0.0847" stop-color="#540f6d"/><stop offset="0.1069" stop-color="#62146e"/><stop offset="0.1208" stop-color="#88226a"/><stop offset="0.1347" stop-color="#b3325a"/><stop offset="0.1486" stop-color="#c43c4e"/><stop offset="0.1597" stop-color="#eb6628"/><stop offset="0.1625" stop-color="#ec6726"/><stop offset="0.1708" stop-color="#c83f4b"/><stop offset="0.1792" stop-color="#b73557"/><stop offset="0.1931" stop-color="#c03a51"/><stop offset="0.1986" stop-color="#db503b"/><stop offset="0.2042" stop-color="#e75e2e"/><stop offset="0.2153" stop-color="#b63458"/><stop offset="0.2264" stop-color="#ab2f5e"/><stop offset="0.3514" stop-color="#e05536"/><stop offset="0.4292" stop-color="#de5238"/><stop offset="0.4903" stop-color="#c63d4d"/><stop offset="0.5347" stop-color="#d34743"/><stop offset="0.5958" stop-color="#d44842"/><stop offset="0.6569" stop-color="#e75e2e"/><stop offset="0.6875" stop-color="#e55c30"/><stop offset="0.7431" stop-color="#ba3655"/><stop offset="0.7681" stop-color="#932667"/><stop offset="0.7792" stop-color="#a62d60"/><stop offset="0.7903" stop-color="#57106e"/><stop offset="0.7958" stop-color="#450a69"/><stop offset="0.8319" stop-color="#2d0b59"/><stop offset="0.8653" stop-color="#470b6a"/><stop offset="0.8931" stop-color="#8a226a"/><stop offset="0.9125" stop-color="#a22b62"/><stop offset="0.9236" stop-color="#c03a51"/><stop offset="0.9292" stop-color="#e05536"/><stop offset="0.9347" stop-color="#ee6a24"/><stop offset="0.9486" stop-color="#cf4446"/><stop offset="0.9986" stop-color="#cc4248"/></linearGradient><linearGradient id="g81"><stop offset="0.0014" stop-color="#e15635"/><stop offset="0.0236" stop-color="#d04545"/><stop offset="0.0403" stop-color="#902568"/><stop offset="0.0542" stop-color="#67166e"/><stop offset="0.0875" stop-color="#5d126e"/><stop offset="0.1208" stop-color="#7a1d6d"/><stop offset="0.1486" stop-color="#b43359"/><stop offset="0.1542" stop-color="#ca404a"/><stop offset="0.1597" stop-color="#e55c30"/><stop offset="0.1625" stop-color="#e75e2e"/><stop offset="0.1736" stop-color="#b43359"/><stop offset="0.1819" stop-color="#a82e5f"/><stop offset="0.1931" stop-color="#ad305d"/><stop offset="0.2042" stop-color="#db503b"/><stop offset="0.2153" stop-color="#a82e5f"/><stop offset="0.2292" stop-color="#9d2964"/><stop offset="0.2597" stop-color="#a92e5e"/><stop offset="0.3069" stop-color="#d24644"/><stop offset="0.3458" stop-color="#e35933"/><stop offset="0.4569" stop-color="#e55c30"/><stop offset="0.5236" stop-color="#c63d4d"/><stop offset="0.5875" stop-color="#c13a50"/><stop offset="0.6375" stop-color="#e55c30"/><stop offset="0.6903" stop-color="#e75e2e"/><stop offset="0.7486" stop-color="#c83f4b"/><stop offset="0.7681" stop-color="#b0315b"/><stop offset="0.7792" stop-color="#ca404a"/><stop offset="0.7819" stop-color="#c33b4f"/><stop offset="0.7875" stop-color="#982766"/><stop offset="0.7958" stop-color="#6c186e"/><stop offset="0.8181" stop-color="#4c0c6b"/><stop offset="0.8431" stop-color="#2d0b59"/><stop offset="0.8597" stop-color="#380962"/><stop offset="0.8764" stop-color="#59106e"/><stop offset="0.9125" stop-color="#8d2369"/><stop offset="0.9236" stop-color="#ad305d"/><stop offset="0.9292" stop-color="#d24644"/><stop offset="0.9347" stop-color="#e65d2f"/><stop offset="0.9486" stop-color="#cb4149"/><stop offset="0.9986" stop-color="#c33b4f"/></linearGradient><linearGradient id="g82"><stop offset="0.0014" stop-color="#e65d2f"/><stop offset="0.0431" stop-color="#d34743"/><stop offset="0.0486" stop-color="#c03a51"/><stop offset="0.0542" stop-color="#9b2964"/><stop offset="0.0625" stop-color="#7a1d6d"/><stop offset="0.0847" stop-color="#6d186e"/><stop offset="0.1125" stop-color="#721a6e"/><stop offset="0.1292" stop-color="#88226a"/><stop offset="0.1486" stop-color="#a82e5f"/><stop offset="0.1625" stop-color="#e25734"/><stop offset="0.1653" stop-color="#de5238"/><stop offset="0.1708" stop-color="#bf3952"/><stop offset="0.1792" stop-color="#a82e5f"/><stop offset="0.1931" stop-color="#a82e5f"/><stop offset="0.2042" stop-color="#d74b3f"/><stop offset="0.2069" stop-color="#d24644"/><stop offset="0.2181" stop-color="#982766"/><stop offset="0.2347" stop-color="#922568"/><stop offset="0.2569" stop-color="#9b2964"/><stop offset="0.2931" stop-color="#bf3952"/><stop offset="0.3236" stop-color="#e05536"/><stop offset="0.3486" stop-color="#e8602d"/><stop offset="0.4819" stop-color="#e65d2f"/><stop offset="0.5014" stop-color="#db503b"/><stop offset="0.5347" stop-color="#b43359"/><stop offset="0.5681" stop-color="#ab2f5e"/><stop offset="0.6069" stop-color="#b0315b"/><stop offset="0.6319" stop-color="#da4e3c"/><stop offset="0.6486" stop-color="#e75e2e"/><stop offset="0.7042" stop-color="#e8602d"/><stop offset="0.7681" stop-color="#c43c4e"/><stop offset="0.7819" stop-color="#e25734"/><stop offset="0.7903" stop-color="#b1325a"/><stop offset="0.7986" stop-color="#902568"/><stop offset="0.8153" stop-color="#7a1d6d"/><stop offset="0.8264" stop-color="#5d126e"/><stop offset="0.8431" stop-color="#380962"/><stop offset="0.8569" stop-color="#2d0b59"/><stop offset="0.8681" stop-color="#320a5e"/><stop offset="0.8847" stop-color="#550f6d"/><stop offset="0.9181" stop-color="#801f6c"/><stop offset="0.9264" stop-color="#a52c60"/><stop offset="0.9347" stop-color="#d54a41"/><stop offset="0.9486" stop-color="#b43359"/><stop offset="0.9653" stop-color="#bf3952"/><stop offset="0.9986" stop-color="#ba3655"/></linearGradient><linearGradient id="g83"><stop offset="0.0014" stop-color="#e8602d"/><stop offset="0.0347" stop-color="#e45a31"/><stop offset="0.0458" stop-color="#f67e14"/><stop offset="0.0514" stop-color="#e55c30"/><stop offset="0.0569" stop-color="#bd3853"/><stop offset="0.0625" stop-color="#a32c61"/><stop offset="0.0792" stop-color="#87216b"/><stop offset="0.1236" stop-color="#71196e"/><stop offset="0.1375" stop-color="#7a1d6d"/><stop offset="0.1486" stop-color="#8f2469"/><stop offset="0.1542" stop-color="#a92e5e"/><stop offset="0.1625" stop-color="#db503b"/><stop offset="0.1653" stop-color="#da4e3c"/><stop offset="0.1764" stop-color="#ae305c"/><stop offset="0.1875" stop-color="#a92e5e"/><stop offset="0.1931" stop-color="#ae305c"/><stop offset="0.2014" stop-color="#d44842"/><stop offset="0.2069" stop-color="#db503b"/><stop offset="0.2153" stop-color="#b0315b"/><stop offset="0.2208" stop-color="#a02a63"/><stop offset="0.2458" stop-color="#982766"/><stop offset="0.3014" stop-color="#bf3952"/><stop offset="0.3375" stop-color="#e8602d"/><stop offset="0.4764" stop-color="#ea632a"/><stop offset="0.5014" stop-color="#dd513a"/><stop offset="0.5236" stop-color="#b73557"/><stop offset="0.5431" stop-color="#9d2964"/><stop offset="0.5847" stop-color="#932667"/><stop offset="0.6236" stop-color="#b43359"/><stop offset="0.6458" stop-color="#de5238"/><stop offset="0.6569" stop-color="#e65d2f"/><stop offset="0.7125" stop-color="#e8602d"/><stop offset="0.7708" stop-color="#ce4347"/><stop offset="0.7819" stop-color="#eb6628"/><stop offset="0.7875" stop-color="#e05536"/><stop offset="0.7931" stop-color="#bf3952"/><stop offset="0.7986" stop-color="#ae305c"/><stop offset="0.8236" stop-color="#982766"/><stop offset="0.8375" stop-color="#6d186e"/><stop offset="0.8514" stop-color="#440a68"/><stop offset="0.8681" stop-color="#340a5f"/><stop offset="0.8819" stop-color="#380962"/><stop offset="0.9181" stop-color="#71196e"/><stop offset="0.9264" stop-color="#932667"/><stop offset="0.9347" stop-color="#c73e4c"/><stop offset="0.9375" stop-color="#c73e4c"/><stop offset="0.9486" stop-color="#a32c61"/><stop offset="0.9986" stop-color="#ae305c"/></linearGradient><linearGradient id="g84"><stop offset="0.0014" stop-color="#e9612b"/><stop offset="0.0347" stop-color="#e9612b"/><stop offset="0.0458" stop-color="#f98e09"/><stop offset="0.0486" stop-color="#fa9008"/><stop offset="0.0569" stop-color="#d94d3d"/><stop offset="0.0625" stop-color="#bd3853"/><stop offset="0.0708" stop-color="#a92e5e"/><stop offset="0.1292" stop-color="#71196e"/><stop offset="0.1486" stop-color="#7a1d6d"/><stop offset="0.1542" stop-color="#8f2469"/><stop offset="0.1625" stop-color="#ca404a"/><stop offset="0.1653" stop-color="#cc4248"/><stop offset="0.1736" stop-color="#ad305d"/><stop offset="0.1792" stop-color="#a62d60"/><stop offset="0.1931" stop-color="#b0315b"/><stop offset="0.2042" stop-color="#de5238"/><stop offset="0.2069" stop-color="#df5337"/><stop offset="0.2153" stop-color="#b43359"/><stop offset="0.2208" stop-color="#a22b62"/><stop offset="0.2486" stop-color="#982766"/><stop offset="0.3069" stop-color="#bc3754"/><stop offset="0.3292" stop-color="#de5238"/><stop offset="0.3569" stop-color="#ec6726"/><stop offset="0.4681" stop-color="#ec6726"/><stop offset="0.4931" stop-color="#e55c30"/><stop offset="0.5153" stop-color="#d34743"/><stop offset="0.5347" stop-color="#a32c61"/><stop offset="0.5542" stop-color="#7f1e6c"/><stop offset="0.5958" stop-color="#7a1d6d"/><stop offset="0.6097" stop-color="#84206b"/><stop offset="0.6375" stop-color="#ce4347"/><stop offset="0.6542" stop-color="#de5238"/><stop offset="0.7347" stop-color="#eb6429"/><stop offset="0.7681" stop-color="#e55c30"/><stop offset="0.7736" stop-color="#e8602d"/><stop offset="0.7819" stop-color="#f8890c"/><stop offset="0.7847" stop-color="#f98c0a"/><stop offset="0.7958" stop-color="#d34743"/><stop offset="0.8014" stop-color="#c43c4e"/><stop offset="0.8292" stop-color="#b0315b"/><stop offset="0.8375" stop-color="#a22b62"/><stop offset="0.8625" stop-color="#540f6d"/><stop offset="0.8847" stop-color="#450a69"/><stop offset="0.9069" stop-color="#4c0c6b"/><stop offset="0.9181" stop-color="#5a116e"/><stop offset="0.9236" stop-color="#6c186e"/><stop offset="0.9347" stop-color="#b63458"/><stop offset="0.9375" stop-color="#b93556"/><stop offset="0.9514" stop-color="#952667"/><stop offset="0.9986" stop-color="#a02a63"/></linearGradient><linearGradient id="g85"><stop offset="0.0014" stop-color="#e8602d"/><stop offset="0.0347" stop-color="#e9612b"/><stop offset="0.0403" stop-color="#f06f20"/><stop offset="0.0458" stop-color="#fa9407"/><stop offset="0.0486" stop-color="#fca108"/><stop offset="0.0514" stop-color="#fb9b06"/><stop offset="0.0542" stop-color="#f8850f"/><stop offset="0.0625" stop-color="#db503b"/><stop offset="0.0736" stop-color="#bf3952"/><stop offset="0.1292" stop-color="#82206c"/><stop offset="0.1431" stop-color="#7c1d6d"/><stop offset="0.1514" stop-color="#85216b"/><stop offset="0.1625" stop-color="#c83f4b"/><stop offset="0.1653" stop-color="#cc4248"/><stop offset="0.1736" stop-color="#ab2f5e"/><stop offset="0.1792" stop-color="#a32c61"/><stop offset="0.1931" stop-color="#ad305d"/><stop offset="0.2069" stop-color="#e05536"/><stop offset="0.2208" stop-color="#a32c61"/><stop offset="0.2681" stop-color="#88226a"/><stop offset="0.3153" stop-color="#bd3853"/><stop offset="0.3319" stop-color="#de5238"/><stop offset="0.3458" stop-color="#e9612b"/><stop offset="0.3681" stop-color="#ee6a24"/><stop offset="0.4764" stop-color="#ec6726"/><stop offset="0.5319" stop-color="#ce4347"/><stop offset="0.5569" stop-color="#9b2964"/><stop offset="0.5847" stop-color="#741a6e"/><stop offset="0.6153" stop-color="#69166e"/><stop offset="0.6264" stop-color="#751b6e"/><stop offset="0.6486" stop-color="#c83f4b"/><stop offset="0.6569" stop-color="#d94d3d"/><stop offset="0.7236" stop-color="#e25734"/><stop offset="0.7708" stop-color="#f37819"/><stop offset="0.7792" stop-color="#fb9606"/><stop offset="0.7847" stop-color="#fbb81d"/><stop offset="0.7875" stop-color="#fcb418"/><stop offset="0.7903" stop-color="#fc9f07"/><stop offset="0.7958" stop-color="#f1711f"/><stop offset="0.8014" stop-color="#e65d2f"/><stop offset="0.8431" stop-color="#bd3853"/><stop offset="0.8681" stop-color="#721a6e"/><stop offset="0.8847" stop-color="#5c126e"/><stop offset="0.9208" stop-color="#62146e"/><stop offset="0.9264" stop-color="#781c6d"/><stop offset="0.9347" stop-color="#b0315b"/><stop offset="0.9375" stop-color="#b43359"/><stop offset="0.9458" stop-color="#972766"/><stop offset="0.9514" stop-color="#8f2469"/><stop offset="0.9986" stop-color="#9b2964"/></linearGradient><linearGradient id="g86"><stop offset="0.0014" stop-color="#e25734"/><stop offset="0.0375" stop-color="#e65d2f"/><stop offset="0.0458" stop-color="#f8870e"/><stop offset="0.0486" stop-color="#fb9906"/><stop offset="0.0514" stop-color="#fb9d07"/><stop offset="0.0542" stop-color="#fa9207"/><stop offset="0.0625" stop-color="#e75e2e"/><stop offset="0.0986" stop-color="#bd3853"/><stop offset="0.1486" stop-color="#922568"/><stop offset="0.1542" stop-color="#9b2964"/><stop offset="0.1625" stop-color="#cb4149"/><stop offset="0.1653" stop-color="#d04545"/><stop offset="0.1736" stop-color="#ab2f5e"/><stop offset="0.1819" stop-color="#a22b62"/><stop offset="0.1958" stop-color="#b43359"/><stop offset="0.2069" stop-color="#e55c30"/><stop offset="0.2097" stop-color="#e25734"/><stop offset="0.2153" stop-color="#c63d4d"/><stop offset="0.2208" stop-color="#b0315b"/><stop offset="0.2903" stop-color="#7a1d6d"/><stop offset="0.3236" stop-color="#c13a50"/><stop offset="0.3514" stop-color="#e65d2f"/><stop offset="0.3903" stop-color="#ed6925"/><stop offset="0.4847" stop-color="#ec6726"/><stop offset="0.5319" stop-color="#cc4248"/><stop offset="0.5653" stop-color="#bd3853"/><stop offset="0.5819" stop-color="#a62d60"/><stop offset="0.6097" stop-color="#65156e"/><stop offset="0.6319" stop-color="#5c126e"/><stop offset="0.6458" stop-color="#6d186e"/><stop offset="0.6653" stop-color="#b93556"/><stop offset="0.6764" stop-color="#cc4248"/><stop offset="0.7486" stop-color="#de5238"/><stop offset="0.7736" stop-color="#f2741c"/><stop offset="0.7792" stop-color="#f98e09"/><stop offset="0.7819" stop-color="#fca60c"/><stop offset="0.7875" stop-color="#f9c72f"/><stop offset="0.7903" stop-color="#fac026"/><stop offset="0.7931" stop-color="#fcaa0f"/><stop offset="0.7958" stop-color="#fa9407"/><stop offset="0.8042" stop-color="#f3761b"/><stop offset="0.8542" stop-color="#c43c4e"/><stop offset="0.8819" stop-color="#7c1d6d"/><stop offset="0.8958" stop-color="#6a176e"/><stop offset="0.9181" stop-color="#6a176e"/><stop offset="0.9236" stop-color="#741a6e"/><stop offset="0.9347" stop-color="#b0315b"/><stop offset="0.9375" stop-color="#b43359"/><stop offset="0.9514" stop-color="#8c2369"/><stop offset="0.9986" stop-color="#9a2865"/></linearGradient><linearGradient id="g87"><stop offset="0.0014" stop-color="#d34743"/><stop offset="0.0375" stop-color="#da4e3c"/><stop offset="0.0431" stop-color="#e75e2e"/><stop offset="0.0514" stop-color="#fa9207"/><stop offset="0.0542" stop-color="#f98e09"/><stop offset="0.0597" stop-color="#ed6925"/><stop offset="0.0653" stop-color="#e15635"/><stop offset="0.1208" stop-color="#c73e4c"/><stop offset="0.1458" stop-color="#a92e5e"/><stop offset="0.1542" stop-color="#ab2f5e"/><stop offset="0.1653" stop-color="#d54a41"/><stop offset="0.1764" stop-color="#a22b62"/><stop offset="0.1903" stop-color="#a02a63"/><stop offset="0.1986" stop-color="#b63458"/><stop offset="0.2042" stop-color="#d94d3d"/><stop offset="0.2097" stop-color="#e45a31"/><stop offset="0.2208" stop-color="#bc3754"/><stop offset="0.2542" stop-color="#b0315b"/><stop offset="0.2653" stop-color="#bf3952"/><stop offset="0.2819" stop-color="#8f2469"/><stop offset="0.3069" stop-color="#801f6c"/><stop offset="0.3181" stop-color="#902568"/><stop offset="0.3375" stop-color="#cc4248"/><stop offset="0.3514" stop-color="#dd513a"/><stop offset="0.4181" stop-color="#ea632a"/><stop offset="0.5069" stop-color="#ea632a"/><stop offset="0.5292" stop-color="#df5337"/><stop offset="0.5486" stop-color="#bf3952"/><stop offset="0.5819" stop-color="#b0315b"/><stop offset="0.5986" stop-color="#932667"/><stop offset="0.6069" stop-color="#952667"/><stop offset="0.6236" stop-color="#5a116e"/><stop offset="0.6486" stop-color="#510e6c"/><stop offset="0.6625" stop-color="#64156e"/><stop offset="0.6792" stop-color="#a32c61"/><stop offset="0.6903" stop-color="#ba3655"/><stop offset="0.7431" stop-color="#c33b4f"/><stop offset="0.7569" stop-color="#cf4446"/><stop offset="0.7764" stop-color="#ea632a"/><stop offset="0.7903" stop-color="#fb9606"/><stop offset="0.8014" stop-color="#f57d15"/><stop offset="0.8486" stop-color="#ef6e21"/><stop offset="0.8569" stop-color="#d44842"/><stop offset="0.8653" stop-color="#bd3853"/><stop offset="0.9153" stop-color="#7d1e6d"/><stop offset="0.9264" stop-color="#8c2369"/><stop offset="0.9347" stop-color="#ba3655"/><stop offset="0.9375" stop-color="#bf3952"/><stop offset="0.9514" stop-color="#8f2469"/><stop offset="0.9986" stop-color="#9d2964"/></linearGradient><linearGradient id="g88"><stop offset="0.0014" stop-color="#bf3952"/><stop offset="0.0403" stop-color="#cc4248"/><stop offset="0.0486" stop-color="#ee6a24"/><stop offset="0.0542" stop-color="#f78212"/><stop offset="0.0625" stop-color="#e25734"/><stop offset="0.0681" stop-color="#d94d3d"/><stop offset="0.1069" stop-color="#d84c3e"/><stop offset="0.1514" stop-color="#b63458"/><stop offset="0.1653" stop-color="#de5238"/><stop offset="0.1681" stop-color="#d84c3e"/><stop offset="0.1764" stop-color="#a82e5f"/><stop offset="0.1847" stop-color="#9d2964"/><stop offset="0.1958" stop-color="#a52c60"/><stop offset="0.2014" stop-color="#bf3952"/><stop offset="0.2069" stop-color="#df5337"/><stop offset="0.2097" stop-color="#e25734"/><stop offset="0.2181" stop-color="#c33b4f"/><stop offset="0.2236" stop-color="#b93556"/><stop offset="0.2542" stop-color="#bc3754"/><stop offset="0.2653" stop-color="#e15635"/><stop offset="0.2681" stop-color="#e15635"/><stop offset="0.2764" stop-color="#b3325a"/><stop offset="0.2819" stop-color="#9d2964"/><stop offset="0.3125" stop-color="#8c2369"/><stop offset="0.3319" stop-color="#982766"/><stop offset="0.3542" stop-color="#d04545"/><stop offset="0.3653" stop-color="#df5337"/><stop offset="0.5236" stop-color="#e8602d"/><stop offset="0.5431" stop-color="#de5238"/><stop offset="0.5653" stop-color="#b93556"/><stop offset="0.5958" stop-color="#9d2964"/><stop offset="0.6097" stop-color="#b43359"/><stop offset="0.6125" stop-color="#a82e5f"/><stop offset="0.6208" stop-color="#65156e"/><stop offset="0.6264" stop-color="#540f6d"/><stop offset="0.6625" stop-color="#4a0c6b"/><stop offset="0.6792" stop-color="#5a116e"/><stop offset="0.6986" stop-color="#9f2a63"/><stop offset="0.7097" stop-color="#b63458"/><stop offset="0.7597" stop-color="#c73e4c"/><stop offset="0.7958" stop-color="#eb6628"/><stop offset="0.8319" stop-color="#f2741c"/><stop offset="0.8375" stop-color="#f67e14"/><stop offset="0.8431" stop-color="#fb9906"/><stop offset="0.8486" stop-color="#fca60c"/><stop offset="0.8514" stop-color="#fb9906"/><stop offset="0.8569" stop-color="#ee6a24"/><stop offset="0.8625" stop-color="#dd513a"/><stop offset="0.8764" stop-color="#c33b4f"/><stop offset="0.9208" stop-color="#a52c60"/><stop offset="0.9264" stop-color="#ae305c"/><stop offset="0.9347" stop-color="#d54a41"/><stop offset="0.9375" stop-color="#d94d3d"/><stop offset="0.9486" stop-color="#ab2f5e"/><stop offset="0.9542" stop-color="#a22b62"/><stop offset="0.9986" stop-color="#a82e5f"/></linearGradient><linearGradient id="g89"><stop offset="0.0014" stop-color="#a92e5e"/><stop offset="0.0403" stop-color="#b93556"/><stop offset="0.0458" stop-color="#cc4248"/><stop offset="0.0542" stop-color="#ef6e21"/><stop offset="0.0653" stop-color="#d34743"/><stop offset="0.0708" stop-color="#ce4347"/><stop offset="0.1208" stop-color="#d84c3e"/><stop offset="0.1542" stop-color="#c03a51"/><stop offset="0.1653" stop-color="#e25734"/><stop offset="0.1681" stop-color="#df5337"/><stop offset="0.1764" stop-color="#b1325a"/><stop offset="0.1875" stop-color="#a32c61"/><stop offset="0.1986" stop-color="#ae305c"/><stop offset="0.2069" stop-color="#da4e3c"/><stop offset="0.2097" stop-color="#df5337"/><stop offset="0.2208" stop-color="#b63458"/><stop offset="0.2264" stop-color="#b3325a"/><stop offset="0.2542" stop-color="#bc3754"/><stop offset="0.2681" stop-color="#e75e2e"/><stop offset="0.2764" stop-color="#c03a51"/><stop offset="0.2819" stop-color="#a92e5e"/><stop offset="0.3097" stop-color="#922568"/><stop offset="0.3431" stop-color="#9a2865"/><stop offset="0.3569" stop-color="#ad305d"/><stop offset="0.3764" stop-color="#d84c3e"/><stop offset="0.3875" stop-color="#e25734"/><stop offset="0.5292" stop-color="#e9612b"/><stop offset="0.5542" stop-color="#dd513a"/><stop offset="0.5708" stop-color="#c43c4e"/><stop offset="0.5958" stop-color="#ab2f5e"/><stop offset="0.6097" stop-color="#c33b4f"/><stop offset="0.6125" stop-color="#ba3655"/><stop offset="0.6208" stop-color="#751b6e"/><stop offset="0.6292" stop-color="#5c126e"/><stop offset="0.6847" stop-color="#4a0c6b"/><stop offset="0.6986" stop-color="#5a116e"/><stop offset="0.7181" stop-color="#9d2964"/><stop offset="0.7319" stop-color="#b93556"/><stop offset="0.7597" stop-color="#c73e4c"/><stop offset="0.7958" stop-color="#e55c30"/><stop offset="0.8347" stop-color="#ee6a24"/><stop offset="0.8431" stop-color="#f98c0a"/><stop offset="0.8486" stop-color="#fca50a"/><stop offset="0.8542" stop-color="#f98b0b"/><stop offset="0.8625" stop-color="#e35933"/><stop offset="0.8792" stop-color="#d24644"/><stop offset="0.9208" stop-color="#b73557"/><stop offset="0.9292" stop-color="#c83f4b"/><stop offset="0.9375" stop-color="#e55c30"/><stop offset="0.9403" stop-color="#e25734"/><stop offset="0.9486" stop-color="#bc3754"/><stop offset="0.9542" stop-color="#b0315b"/><stop offset="0.9986" stop-color="#ae305c"/></linearGradient><linearGradient id="g90"><stop offset="0.0014" stop-color="#8a226a"/><stop offset="0.0375" stop-color="#9a2865"/><stop offset="0.0458" stop-color="#b1325a"/><stop offset="0.0514" stop-color="#d54a41"/><stop offset="0.0569" stop-color="#e55c30"/><stop offset="0.0653" stop-color="#c63d4d"/><stop offset="0.0708" stop-color="#bd3853"/><stop offset="0.1181" stop-color="#d24644"/><stop offset="0.1542" stop-color="#ce4347"/><stop offset="0.1653" stop-color="#eb6429"/><stop offset="0.1708" stop-color="#de5238"/><stop offset="0.1792" stop-color="#b3325a"/><stop offset="0.1931" stop-color="#ab2f5e"/><stop offset="0.2014" stop-color="#bd3853"/><stop offset="0.2097" stop-color="#e25734"/><stop offset="0.2208" stop-color="#b63458"/><stop offset="0.2319" stop-color="#ad305d"/><stop offset="0.2542" stop-color="#b63458"/><stop offset="0.2597" stop-color="#c63d4d"/><stop offset="0.2681" stop-color="#e9612b"/><stop offset="0.2708" stop-color="#e65d2f"/><stop offset="0.2764" stop-color="#cb4149"/><stop offset="0.2819" stop-color="#b73557"/><stop offset="0.3514" stop-color="#8d2369"/><stop offset="0.3708" stop-color="#a62d60"/><stop offset="0.3847" stop-color="#cf4446"/><stop offset="0.3986" stop-color="#e15635"/><stop offset="0.5514" stop-color="#e9612b"/><stop offset="0.5708" stop-color="#df5337"/><stop offset="0.5958" stop-color="#bd3853"/><stop offset="0.6014" stop-color="#c33b4f"/><stop offset="0.6097" stop-color="#e05536"/><stop offset="0.6153" stop-color="#cc4248"/><stop offset="0.6236" stop-color="#8d2369"/><stop offset="0.6403" stop-color="#65156e"/><stop offset="0.6653" stop-color="#4d0d6c"/><stop offset="0.7014" stop-color="#440a68"/><stop offset="0.7125" stop-color="#520e6d"/><stop offset="0.7319" stop-color="#9a2865"/><stop offset="0.7458" stop-color="#b63458"/><stop offset="0.7903" stop-color="#de5238"/><stop offset="0.8347" stop-color="#ea632a"/><stop offset="0.8403" stop-color="#f1711f"/><stop offset="0.8458" stop-color="#fa9207"/><stop offset="0.8486" stop-color="#fb9d07"/><stop offset="0.8514" stop-color="#fb9d07"/><stop offset="0.8542" stop-color="#f98e09"/><stop offset="0.8625" stop-color="#e65d2f"/><stop offset="0.8681" stop-color="#e05536"/><stop offset="0.9236" stop-color="#c13a50"/><stop offset="0.9375" stop-color="#e9612b"/><stop offset="0.9431" stop-color="#dd513a"/><stop offset="0.9486" stop-color="#c13a50"/><stop offset="0.9542" stop-color="#b3325a"/><stop offset="0.9986" stop-color="#ae305c"/></linearGradient><linearGradient id="g91"><stop offset="0.0014" stop-color="#741a6e"/><stop offset="0.0375" stop-color="#7d1e6d"/><stop offset="0.0458" stop-color="#8f2469"/><stop offset="0.0569" stop-color="#bc3754"/><stop offset="0.0681" stop-color="#ae305c"/><stop offset="0.0764" stop-color="#b1325a"/><stop offset="0.0875" stop-color="#c03a51"/><stop offset="0.0958" stop-color="#da4e3c"/><stop offset="0.1125" stop-color="#cb4149"/><stop offset="0.1514" stop-color="#ca404a"/><stop offset="0.1569" stop-color="#d04545"/><stop offset="0.1653" stop-color="#eb6628"/><stop offset="0.1708" stop-color="#e35933"/><stop offset="0.1792" stop-color="#ba3655"/><stop offset="0.1903" stop-color="#b0315b"/><stop offset="0.1986" stop-color="#b43359"/><stop offset="0.2097" stop-color="#e35933"/><stop offset="0.2125" stop-color="#e25734"/><stop offset="0.2181" stop-color="#c73e4c"/><stop offset="0.2264" stop-color="#ae305c"/><stop offset="0.2542" stop-color="#b3325a"/><stop offset="0.2597" stop-color="#c13a50"/><stop offset="0.2681" stop-color="#e8602d"/><stop offset="0.2736" stop-color="#e05536"/><stop offset="0.2792" stop-color="#c63d4d"/><stop offset="0.2875" stop-color="#ba3655"/><stop offset="0.3014" stop-color="#bd3853"/><stop offset="0.3153" stop-color="#d54a41"/><stop offset="0.3292" stop-color="#b43359"/><stop offset="0.3653" stop-color="#82206c"/><stop offset="0.3792" stop-color="#8a226a"/><stop offset="0.4014" stop-color="#d04545"/><stop offset="0.4125" stop-color="#e05536"/><stop offset="0.5653" stop-color="#e9612b"/><stop offset="0.5986" stop-color="#d24644"/><stop offset="0.6125" stop-color="#e9612b"/><stop offset="0.6208" stop-color="#c03a51"/><stop offset="0.6292" stop-color="#a92e5e"/><stop offset="0.6542" stop-color="#8d2369"/><stop offset="0.6792" stop-color="#450a69"/><stop offset="0.7097" stop-color="#360961"/><stop offset="0.7264" stop-color="#4a0c6b"/><stop offset="0.7458" stop-color="#982766"/><stop offset="0.7542" stop-color="#ab2f5e"/><stop offset="0.7958" stop-color="#d94d3d"/><stop offset="0.8347" stop-color="#e25734"/><stop offset="0.8403" stop-color="#eb6429"/><stop offset="0.8486" stop-color="#fb9706"/><stop offset="0.8514" stop-color="#fb9d07"/><stop offset="0.8542" stop-color="#fa9407"/><stop offset="0.8625" stop-color="#ea632a"/><stop offset="0.8681" stop-color="#e35933"/><stop offset="0.8986" stop-color="#e35933"/><stop offset="0.9236" stop-color="#d54a41"/><stop offset="0.9292" stop-color="#dd513a"/><stop offset="0.9375" stop-color="#ef6e21"/><stop offset="0.9431" stop-color="#e65d2f"/><stop offset="0.9486" stop-color="#cb4149"/><stop offset="0.9542" stop-color="#ba3655"/><stop offset="0.9986" stop-color="#ae305c"/></linearGradient><linearGradient id="g92"><stop offset="0.0014" stop-color="#741a6e"/><stop offset="0.0486" stop-color="#7f1e6c"/><stop offset="0.0875" stop-color="#bd3853"/><stop offset="0.0986" stop-color="#ed6925"/><stop offset="0.1097" stop-color="#ce4347"/><stop offset="0.1153" stop-color="#ca404a"/><stop offset="0.1542" stop-color="#c83f4b"/><stop offset="0.1681" stop-color="#eb6429"/><stop offset="0.1792" stop-color="#b93556"/><stop offset="0.1903" stop-color="#ad305d"/><stop offset="0.1986" stop-color="#b0315b"/><stop offset="0.2097" stop-color="#e05536"/><stop offset="0.2125" stop-color="#e15635"/><stop offset="0.2236" stop-color="#b1325a"/><stop offset="0.2347" stop-color="#ab2f5e"/><stop offset="0.2569" stop-color="#b93556"/><stop offset="0.2653" stop-color="#df5337"/><stop offset="0.2708" stop-color="#eb6628"/><stop offset="0.2819" stop-color="#c63d4d"/><stop offset="0.3014" stop-color="#c63d4d"/><stop offset="0.3153" stop-color="#f06f20"/><stop offset="0.3236" stop-color="#d44842"/><stop offset="0.3292" stop-color="#c43c4e"/><stop offset="0.3486" stop-color="#b1325a"/><stop offset="0.3736" stop-color="#7c1d6d"/><stop offset="0.3847" stop-color="#771c6d"/><stop offset="0.3958" stop-color="#82206c"/><stop offset="0.4181" stop-color="#cb4149"/><stop offset="0.4319" stop-color="#de5238"/><stop offset="0.5653" stop-color="#e9612b"/><stop offset="0.5986" stop-color="#d94d3d"/><stop offset="0.6125" stop-color="#ef6c23"/><stop offset="0.6208" stop-color="#c83f4b"/><stop offset="0.6292" stop-color="#b1325a"/><stop offset="0.6681" stop-color="#a52c60"/><stop offset="0.6764" stop-color="#8f2469"/><stop offset="0.6847" stop-color="#6a176e"/><stop offset="0.6958" stop-color="#400a67"/><stop offset="0.7042" stop-color="#2f0a5b"/><stop offset="0.7181" stop-color="#290b55"/><stop offset="0.7375" stop-color="#420a68"/><stop offset="0.7486" stop-color="#6a176e"/><stop offset="0.7653" stop-color="#a02a63"/><stop offset="0.7903" stop-color="#b63458"/><stop offset="0.8097" stop-color="#d34743"/><stop offset="0.8347" stop-color="#d94d3d"/><stop offset="0.8403" stop-color="#e15635"/><stop offset="0.8514" stop-color="#fa9008"/><stop offset="0.8542" stop-color="#f98c0a"/><stop offset="0.8625" stop-color="#e8602d"/><stop offset="0.8681" stop-color="#e05536"/><stop offset="0.9236" stop-color="#e15635"/><stop offset="0.9292" stop-color="#e8602d"/><stop offset="0.9375" stop-color="#f78410"/><stop offset="0.9431" stop-color="#f1731d"/><stop offset="0.9486" stop-color="#da4e3c"/><stop offset="0.9542" stop-color="#c73e4c"/><stop offset="0.9986" stop-color="#b0315b"/></linearGradient><linearGradient id="g93"><stop offset="0.0014" stop-color="#8f2469"/><stop offset="0.0597" stop-color="#902568"/><stop offset="0.0875" stop-color="#b93556"/><stop offset="0.0931" stop-color="#d34743"/><stop offset="0.0986" stop-color="#ec6726"/><stop offset="0.1014" stop-color="#ed6925"/><stop offset="0.1125" stop-color="#cc4248"/><stop offset="0.1375" stop-color="#cc4248"/><stop offset="0.1514" stop-color="#c13a50"/><stop offset="0.1569" stop-color="#c43c4e"/><stop offset="0.1681" stop-color="#e55c30"/><stop offset="0.1764" stop-color="#bd3853"/><stop offset="0.1819" stop-color="#a82e5f"/><stop offset="0.1931" stop-color="#a32c61"/><stop offset="0.2014" stop-color="#b0315b"/><stop offset="0.2097" stop-color="#dd513a"/><stop offset="0.2125" stop-color="#e15635"/><stop offset="0.2236" stop-color="#b43359"/><stop offset="0.2431" stop-color="#ae305c"/><stop offset="0.2597" stop-color="#c13a50"/><stop offset="0.2708" stop-color="#ef6e21"/><stop offset="0.2819" stop-color="#d24644"/><stop offset="0.3014" stop-color="#d24644"/><stop offset="0.3069" stop-color="#de5238"/><stop offset="0.3153" stop-color="#f67e14"/><stop offset="0.3181" stop-color="#f57b17"/><stop offset="0.3236" stop-color="#e45a31"/><stop offset="0.3292" stop-color="#d44842"/><stop offset="0.3486" stop-color="#cb4149"/><stop offset="0.3819" stop-color="#801f6c"/><stop offset="0.4014" stop-color="#751b6e"/><stop offset="0.4125" stop-color="#7f1e6c"/><stop offset="0.4236" stop-color="#a02a63"/><stop offset="0.4375" stop-color="#cf4446"/><stop offset="0.4458" stop-color="#d94d3d"/><stop offset="0.5264" stop-color="#e9612b"/><stop offset="0.5736" stop-color="#e9612b"/><stop offset="0.6014" stop-color="#da4e3c"/><stop offset="0.6125" stop-color="#ef6e21"/><stop offset="0.6208" stop-color="#cb4149"/><stop offset="0.6292" stop-color="#b1325a"/><stop offset="0.6792" stop-color="#a62d60"/><stop offset="0.6875" stop-color="#952667"/><stop offset="0.6986" stop-color="#67166e"/><stop offset="0.7125" stop-color="#390963"/><stop offset="0.7236" stop-color="#2b0b57"/><stop offset="0.7347" stop-color="#2b0b57"/><stop offset="0.7514" stop-color="#470b6a"/><stop offset="0.7736" stop-color="#932667"/><stop offset="0.8069" stop-color="#ad305d"/><stop offset="0.8403" stop-color="#d84c3e"/><stop offset="0.8514" stop-color="#f78212"/><stop offset="0.8542" stop-color="#f78410"/><stop offset="0.8653" stop-color="#dd513a"/><stop offset="0.8764" stop-color="#d84c3e"/><stop offset="0.9264" stop-color="#e45a31"/><stop offset="0.9375" stop-color="#f98c0a"/><stop offset="0.9403" stop-color="#f98c0a"/><stop offset="0.9514" stop-color="#db503b"/><stop offset="0.9569" stop-color="#d04545"/><stop offset="0.9986" stop-color="#b43359"/></linearGradient><linearGradient id="g94"><stop offset="0.0014" stop-color="#b1325a"/><stop offset="0.0514" stop-color="#a22b62"/><stop offset="0.0764" stop-color="#a62d60"/><stop offset="0.0903" stop-color="#bd3853"/><stop offset="0.0986" stop-color="#e9612b"/><stop offset="0.1014" stop-color="#ee6a24"/><stop offset="0.1125" stop-color="#cf4446"/><stop offset="0.1542" stop-color="#bf3952"/><stop offset="0.1681" stop-color="#e05536"/><stop offset="0.1819" stop-color="#952667"/><stop offset="0.1958" stop-color="#8c2369"/><stop offset="0.2014" stop-color="#982766"/><stop offset="0.2125" stop-color="#d74b3f"/><stop offset="0.2264" stop-color="#ae305c"/><stop offset="0.2542" stop-color="#c13a50"/><stop offset="0.2625" stop-color="#d94d3d"/><stop offset="0.2708" stop-color="#f68013"/><stop offset="0.2847" stop-color="#db503b"/><stop offset="0.3014" stop-color="#df5337"/><stop offset="0.3069" stop-color="#e65d2f"/><stop offset="0.3153" stop-color="#fa9008"/><stop offset="0.3181" stop-color="#fa9207"/><stop offset="0.3264" stop-color="#e75e2e"/><stop offset="0.3319" stop-color="#db503b"/><stop offset="0.3625" stop-color="#d44842"/><stop offset="0.3986" stop-color="#9a2865"/><stop offset="0.4208" stop-color="#972766"/><stop offset="0.4319" stop-color="#9d2964"/><stop offset="0.4625" stop-color="#d74b3f"/><stop offset="0.5292" stop-color="#e8602d"/><stop offset="0.5986" stop-color="#e65d2f"/><stop offset="0.6042" stop-color="#ec6726"/><stop offset="0.6125" stop-color="#f98b0b"/><stop offset="0.6153" stop-color="#f68013"/><stop offset="0.6208" stop-color="#e05536"/><stop offset="0.6264" stop-color="#c83f4b"/><stop offset="0.6653" stop-color="#9f2a63"/><stop offset="0.6931" stop-color="#902568"/><stop offset="0.7097" stop-color="#61136e"/><stop offset="0.7208" stop-color="#3e0966"/><stop offset="0.7347" stop-color="#310a5c"/><stop offset="0.7597" stop-color="#4a0c6b"/><stop offset="0.7847" stop-color="#922568"/><stop offset="0.8208" stop-color="#a82e5f"/><stop offset="0.8403" stop-color="#cc4248"/><stop offset="0.8486" stop-color="#ec6726"/><stop offset="0.8542" stop-color="#f57d15"/><stop offset="0.8681" stop-color="#d34743"/><stop offset="0.8958" stop-color="#d34743"/><stop offset="0.9264" stop-color="#e15635"/><stop offset="0.9403" stop-color="#fa9008"/><stop offset="0.9542" stop-color="#de5238"/><stop offset="0.9986" stop-color="#c33b4f"/></linearGradient><linearGradient id="g95"><stop offset="0.0014" stop-color="#bf3952"/><stop offset="0.0764" stop-color="#a82e5f"/><stop offset="0.0903" stop-color="#b73557"/><stop offset="0.1014" stop-color="#ec6726"/><stop offset="0.1042" stop-color="#ee6a24"/><stop offset="0.1153" stop-color="#ce4347"/><stop offset="0.1542" stop-color="#bc3754"/><stop offset="0.1681" stop-color="#de5238"/><stop offset="0.1736" stop-color="#c83f4b"/><stop offset="0.1819" stop-color="#8f2469"/><stop offset="0.1986" stop-color="#6d186e"/><stop offset="0.2042" stop-color="#7a1d6d"/><stop offset="0.2125" stop-color="#b1325a"/><stop offset="0.2153" stop-color="#b63458"/><stop offset="0.2264" stop-color="#982766"/><stop offset="0.2569" stop-color="#c33b4f"/><stop offset="0.2625" stop-color="#d84c3e"/><stop offset="0.2708" stop-color="#f8870e"/><stop offset="0.2736" stop-color="#f98b0b"/><stop offset="0.2847" stop-color="#e55c30"/><stop offset="0.3014" stop-color="#e55c30"/><stop offset="0.3097" stop-color="#f06f20"/><stop offset="0.3153" stop-color="#fb9706"/><stop offset="0.3181" stop-color="#fc9f07"/><stop offset="0.3208" stop-color="#fb9706"/><stop offset="0.3292" stop-color="#e9612b"/><stop offset="0.3375" stop-color="#e05536"/><stop offset="0.4153" stop-color="#bc3754"/><stop offset="0.4486" stop-color="#b73557"/><stop offset="0.5153" stop-color="#e25734"/><stop offset="0.5986" stop-color="#e55c30"/><stop offset="0.6042" stop-color="#ed6925"/><stop offset="0.6097" stop-color="#f98e09"/><stop offset="0.6125" stop-color="#fb9b06"/><stop offset="0.6153" stop-color="#fb9906"/><stop offset="0.6236" stop-color="#e9612b"/><stop offset="0.6264" stop-color="#e35933"/><stop offset="0.6597" stop-color="#cf4446"/><stop offset="0.6819" stop-color="#801f6c"/><stop offset="0.6903" stop-color="#6d186e"/><stop offset="0.7153" stop-color="#57106e"/><stop offset="0.7319" stop-color="#390963"/><stop offset="0.7431" stop-color="#320a5e"/><stop offset="0.7625" stop-color="#450a69"/><stop offset="0.7958" stop-color="#982766"/><stop offset="0.8347" stop-color="#ae305c"/><stop offset="0.8431" stop-color="#c13a50"/><stop offset="0.8542" stop-color="#f1731d"/><stop offset="0.8569" stop-color="#f1731d"/><stop offset="0.8653" stop-color="#d94d3d"/><stop offset="0.8708" stop-color="#cc4248"/><stop offset="0.9069" stop-color="#c83f4b"/><stop offset="0.9264" stop-color="#d54a41"/><stop offset="0.9403" stop-color="#f98b0b"/><stop offset="0.9542" stop-color="#e05536"/><stop offset="0.9986" stop-color="#d74b3f"/></linearGradient><linearGradient id="g96"><stop offset="0.0014" stop-color="#bf3952"/><stop offset="0.0736" stop-color="#a62d60"/><stop offset="0.0875" stop-color="#ad305d"/><stop offset="0.0931" stop-color="#ba3655"/><stop offset="0.1014" stop-color="#e75e2e"/><stop offset="0.1042" stop-color="#ec6726"/><stop offset="0.1153" stop-color="#ce4347"/><stop offset="0.1542" stop-color="#bd3853"/><stop offset="0.1597" stop-color="#c13a50"/><stop offset="0.1681" stop-color="#df5337"/><stop offset="0.1736" stop-color="#ce4347"/><stop offset="0.1819" stop-color="#932667"/><stop offset="0.1958" stop-color="#67166e"/><stop offset="0.2014" stop-color="#5f136e"/><stop offset="0.2069" stop-color="#6d186e"/><stop offset="0.2125" stop-color="#8c2369"/><stop offset="0.2153" stop-color="#8d2369"/><stop offset="0.2236" stop-color="#69166e"/><stop offset="0.2292" stop-color="#67166e"/><stop offset="0.2458" stop-color="#9b2964"/><stop offset="0.2569" stop-color="#b1325a"/><stop offset="0.2625" stop-color="#c63d4d"/><stop offset="0.2681" stop-color="#e8602d"/><stop offset="0.2736" stop-color="#f67e14"/><stop offset="0.2847" stop-color="#e15635"/><stop offset="0.3014" stop-color="#e35933"/><stop offset="0.3097" stop-color="#ed6925"/><stop offset="0.3153" stop-color="#f98e09"/><stop offset="0.3181" stop-color="#fb9d07"/><stop offset="0.3208" stop-color="#fb9b06"/><stop offset="0.3236" stop-color="#f98b0b"/><stop offset="0.3292" stop-color="#eb6628"/><stop offset="0.3347" stop-color="#e35933"/><stop offset="0.4625" stop-color="#ba3655"/><stop offset="0.5236" stop-color="#dd513a"/><stop offset="0.5986" stop-color="#df5337"/><stop offset="0.6042" stop-color="#e75e2e"/><stop offset="0.6125" stop-color="#fa9207"/><stop offset="0.6153" stop-color="#fa9207"/><stop offset="0.6236" stop-color="#e8602d"/><stop offset="0.6292" stop-color="#df5337"/><stop offset="0.6736" stop-color="#d34743"/><stop offset="0.6931" stop-color="#952667"/><stop offset="0.7042" stop-color="#6f196e"/><stop offset="0.7375" stop-color="#3e0966"/><stop offset="0.7569" stop-color="#380962"/><stop offset="0.7708" stop-color="#470b6a"/><stop offset="0.8069" stop-color="#9a2865"/><stop offset="0.8375" stop-color="#b1325a"/><stop offset="0.8458" stop-color="#c73e4c"/><stop offset="0.8514" stop-color="#e45a31"/><stop offset="0.8569" stop-color="#ef6c23"/><stop offset="0.8681" stop-color="#cf4446"/><stop offset="0.8792" stop-color="#c63d4d"/><stop offset="0.9264" stop-color="#c83f4b"/><stop offset="0.9319" stop-color="#da4e3c"/><stop offset="0.9403" stop-color="#f47918"/><stop offset="0.9431" stop-color="#f37819"/><stop offset="0.9514" stop-color="#de5238"/><stop offset="0.9569" stop-color="#d74b3f"/><stop offset="0.9986" stop-color="#e05536"/></linearGradient><linearGradient id="g97"><stop offset="0.0014" stop-color="#bf3952"/><stop offset="0.0819" stop-color="#a62d60"/><stop offset="0.0903" stop-color="#ae305c"/><stop offset="0.0958" stop-color="#c03a51"/><stop offset="0.1042" stop-color="#eb6429"/><stop offset="0.1069" stop-color="#ec6726"/><stop offset="0.1181" stop-color="#cc4248"/><stop offset="0.1375" stop-color="#cc4248"/><stop offset="0.1542" stop-color="#bf3952"/><stop offset="0.1708" stop-color="#e05536"/><stop offset="0.1819" stop-color="#a02a63"/><stop offset="0.1986" stop-color="#6c186e"/><stop offset="0.2042" stop-color="#65156e"/><stop offset="0.2153" stop-color="#82206c"/><stop offset="0.2236" stop-color="#510e6c"/><stop offset="0.2292" stop-color="#470b6a"/><stop offset="0.2458" stop-color="#71196e"/><stop offset="0.2597" stop-color="#9f2a63"/><stop offset="0.2653" stop-color="#c03a51"/><stop offset="0.2708" stop-color="#e55c30"/><stop offset="0.2736" stop-color="#eb6628"/><stop offset="0.2847" stop-color="#d54a41"/><stop offset="0.3042" stop-color="#df5337"/><stop offset="0.3097" stop-color="#e75e2e"/><stop offset="0.3181" stop-color="#fa9207"/><stop offset="0.3208" stop-color="#fb9706"/><stop offset="0.3292" stop-color="#ec6726"/><stop offset="0.3347" stop-color="#e25734"/><stop offset="0.4292" stop-color="#d84c3e"/><stop offset="0.4958" stop-color="#bd3853"/><stop offset="0.5292" stop-color="#d34743"/><stop offset="0.5986" stop-color="#d84c3e"/><stop offset="0.6042" stop-color="#e15635"/><stop offset="0.6125" stop-color="#f8870e"/><stop offset="0.6153" stop-color="#f98c0a"/><stop offset="0.6236" stop-color="#e65d2f"/><stop offset="0.6319" stop-color="#d94d3d"/><stop offset="0.6681" stop-color="#d84c3e"/><stop offset="0.6847" stop-color="#cc4248"/><stop offset="0.7181" stop-color="#972766"/><stop offset="0.7486" stop-color="#57106e"/><stop offset="0.7681" stop-color="#4c0c6b"/><stop offset="0.7847" stop-color="#59106e"/><stop offset="0.8153" stop-color="#9a2865"/><stop offset="0.8403" stop-color="#b0315b"/><stop offset="0.8458" stop-color="#c03a51"/><stop offset="0.8569" stop-color="#ec6726"/><stop offset="0.8708" stop-color="#c63d4d"/><stop offset="0.9042" stop-color="#ba3655"/><stop offset="0.9292" stop-color="#c43c4e"/><stop offset="0.9403" stop-color="#ed6925"/><stop offset="0.9569" stop-color="#c73e4c"/><stop offset="0.9986" stop-color="#dd513a"/></linearGradient><linearGradient id="g98"><stop offset="0.0014" stop-color="#bf3952"/><stop offset="0.0847" stop-color="#a32c61"/><stop offset="0.0958" stop-color="#b43359"/><stop offset="0.1042" stop-color="#e45a31"/><stop offset="0.1069" stop-color="#ea632a"/><stop offset="0.1208" stop-color="#ca404a"/><stop offset="0.1569" stop-color="#c63d4d"/><stop offset="0.1708" stop-color="#e65d2f"/><stop offset="0.1792" stop-color="#b93556"/><stop offset="0.1875" stop-color="#972766"/><stop offset="0.2042" stop-color="#71196e"/><stop offset="0.2153" stop-color="#88226a"/><stop offset="0.2264" stop-color="#440a68"/><stop offset="0.2319" stop-color="#3d0965"/><stop offset="0.2431" stop-color="#510e6c"/><stop offset="0.2597" stop-color="#82206c"/><stop offset="0.2653" stop-color="#a22b62"/><stop offset="0.2708" stop-color="#cf4446"/><stop offset="0.2736" stop-color="#da4e3c"/><stop offset="0.2875" stop-color="#bf3952"/><stop offset="0.3069" stop-color="#d74b3f"/><stop offset="0.3125" stop-color="#e65d2f"/><stop offset="0.3208" stop-color="#fb9606"/><stop offset="0.3236" stop-color="#fa9207"/><stop offset="0.3319" stop-color="#e9612b"/><stop offset="0.3375" stop-color="#e45a31"/><stop offset="0.4681" stop-color="#df5337"/><stop offset="0.5125" stop-color="#b73557"/><stop offset="0.6014" stop-color="#cf4446"/><stop offset="0.6069" stop-color="#e15635"/><stop offset="0.6153" stop-color="#f78410"/><stop offset="0.6236" stop-color="#e55c30"/><stop offset="0.6292" stop-color="#d94d3d"/><stop offset="0.6931" stop-color="#d04545"/><stop offset="0.7375" stop-color="#a92e5e"/><stop offset="0.7625" stop-color="#741a6e"/><stop offset="0.7764" stop-color="#6a176e"/><stop offset="0.7958" stop-color="#6d186e"/><stop offset="0.8403" stop-color="#ad305d"/><stop offset="0.8486" stop-color="#c43c4e"/><stop offset="0.8569" stop-color="#e8602d"/><stop offset="0.8625" stop-color="#e05536"/><stop offset="0.8681" stop-color="#c73e4c"/><stop offset="0.8736" stop-color="#b93556"/><stop offset="0.8958" stop-color="#b0315b"/><stop offset="0.9264" stop-color="#b1325a"/><stop offset="0.9319" stop-color="#c03a51"/><stop offset="0.9375" stop-color="#db503b"/><stop offset="0.9431" stop-color="#e45a31"/><stop offset="0.9514" stop-color="#c33b4f"/><stop offset="0.9597" stop-color="#b3325a"/><stop offset="0.9986" stop-color="#c83f4b"/></linearGradient><linearGradient id="g99"><stop offset="0.0014" stop-color="#bf3952"/><stop offset="0.0847" stop-color="#a02a63"/><stop offset="0.0958" stop-color="#ab2f5e"/><stop offset="0.1069" stop-color="#e45a31"/><stop offset="0.1097" stop-color="#e65d2f"/><stop offset="0.1208" stop-color="#c63d4d"/><stop offset="0.1542" stop-color="#c83f4b"/><stop offset="0.1625" stop-color="#d44842"/><stop offset="0.1708" stop-color="#eb6628"/><stop offset="0.1736" stop-color="#e65d2f"/><stop offset="0.1819" stop-color="#b63458"/><stop offset="0.1931" stop-color="#952667"/><stop offset="0.2042" stop-color="#781c6d"/><stop offset="0.2153" stop-color="#8f2469"/><stop offset="0.2181" stop-color="#85216b"/><stop offset="0.2264" stop-color="#450a69"/><stop offset="0.2319" stop-color="#360961"/><stop offset="0.2431" stop-color="#420a68"/><stop offset="0.2597" stop-color="#71196e"/><stop offset="0.2653" stop-color="#8d2369"/><stop offset="0.2736" stop-color="#ce4347"/><stop offset="0.2764" stop-color="#d24644"/><stop offset="0.2875" stop-color="#b73557"/><stop offset="0.3069" stop-color="#d04545"/><stop offset="0.3125" stop-color="#de5238"/><stop offset="0.3208" stop-color="#f98c0a"/><stop offset="0.3236" stop-color="#fa9008"/><stop offset="0.3319" stop-color="#eb6429"/><stop offset="0.3375" stop-color="#e45a31"/><stop offset="0.4153" stop-color="#e65d2f"/><stop offset="0.4319" stop-color="#f57b17"/><stop offset="0.4431" stop-color="#e75e2e"/><stop offset="0.4847" stop-color="#de5238"/><stop offset="0.5264" stop-color="#a82e5f"/><stop offset="0.6014" stop-color="#c63d4d"/><stop offset="0.6069" stop-color="#d74b3f"/><stop offset="0.6153" stop-color="#f57b17"/><stop offset="0.6292" stop-color="#d74b3f"/><stop offset="0.7042" stop-color="#cf4446"/><stop offset="0.7431" stop-color="#ba3655"/><stop offset="0.7708" stop-color="#8f2469"/><stop offset="0.7847" stop-color="#84206b"/><stop offset="0.8153" stop-color="#85216b"/><stop offset="0.8375" stop-color="#982766"/><stop offset="0.8486" stop-color="#b43359"/><stop offset="0.8542" stop-color="#d54a41"/><stop offset="0.8597" stop-color="#e45a31"/><stop offset="0.8708" stop-color="#bc3754"/><stop offset="0.8764" stop-color="#b1325a"/><stop offset="0.8986" stop-color="#a62d60"/><stop offset="0.9264" stop-color="#a62d60"/><stop offset="0.9431" stop-color="#de5238"/><stop offset="0.9514" stop-color="#ba3655"/><stop offset="0.9597" stop-color="#a62d60"/><stop offset="0.9986" stop-color="#b3325a"/></linearGradient><linearGradient id="g100"><stop offset="0.0014" stop-color="#bf3952"/><stop offset="0.0319" stop-color="#ba3655"/><stop offset="0.0653" stop-color="#a22b62"/><stop offset="0.0847" stop-color="#9f2a63"/><stop offset="0.0986" stop-color="#b3325a"/><stop offset="0.1097" stop-color="#e9612b"/><stop offset="0.1208" stop-color="#ca404a"/><stop offset="0.1569" stop-color="#cc4248"/><stop offset="0.1625" stop-color="#d74b3f"/><stop offset="0.1708" stop-color="#ef6e21"/><stop offset="0.1764" stop-color="#e15635"/><stop offset="0.1819" stop-color="#c33b4f"/><stop offset="0.2014" stop-color="#932667"/><stop offset="0.2069" stop-color="#8a226a"/><stop offset="0.2153" stop-color="#9d2964"/><stop offset="0.2181" stop-color="#952667"/><stop offset="0.2264" stop-color="#510e6c"/><stop offset="0.2292" stop-color="#440a68"/><stop offset="0.2403" stop-color="#320a5e"/><stop offset="0.2514" stop-color="#3d0965"/><stop offset="0.2597" stop-color="#540f6d"/><stop offset="0.2653" stop-color="#71196e"/><stop offset="0.2736" stop-color="#b63458"/><stop offset="0.2764" stop-color="#bc3754"/><stop offset="0.2847" stop-color="#a22b62"/><stop offset="0.2903" stop-color="#a52c60"/><stop offset="0.3125" stop-color="#e05536"/><stop offset="0.3208" stop-color="#f98c0a"/><stop offset="0.3236" stop-color="#fa9407"/><stop offset="0.3319" stop-color="#ed6925"/><stop offset="0.3375" stop-color="#e35933"/><stop offset="0.4153" stop-color="#e45a31"/><stop offset="0.4236" stop-color="#eb6628"/><stop offset="0.4292" stop-color="#f8890c"/><stop offset="0.4319" stop-color="#fb9b06"/><stop offset="0.4347" stop-color="#fc9f07"/><stop offset="0.4375" stop-color="#fa9008"/><stop offset="0.4431" stop-color="#ee6a24"/><stop offset="0.4486" stop-color="#e55c30"/><stop offset="0.4875" stop-color="#dd513a"/><stop offset="0.5125" stop-color="#b1325a"/><stop offset="0.5347" stop-color="#9a2865"/><stop offset="0.5653" stop-color="#a02a63"/><stop offset="0.6014" stop-color="#c43c4e"/><stop offset="0.6069" stop-color="#d34743"/><stop offset="0.6153" stop-color="#f1731d"/><stop offset="0.6181" stop-color="#f1711f"/><stop offset="0.6236" stop-color="#e05536"/><stop offset="0.6292" stop-color="#d34743"/><stop offset="0.6931" stop-color="#d44842"/><stop offset="0.7264" stop-color="#ba3655"/><stop offset="0.7625" stop-color="#b0315b"/><stop offset="0.7958" stop-color="#922568"/><stop offset="0.8431" stop-color="#982766"/><stop offset="0.8486" stop-color="#a62d60"/><stop offset="0.8597" stop-color="#da4e3c"/><stop offset="0.8708" stop-color="#b3325a"/><stop offset="0.8792" stop-color="#a82e5f"/><stop offset="0.9264" stop-color="#a52c60"/><stop offset="0.9431" stop-color="#dd513a"/><stop offset="0.9542" stop-color="#ae305c"/><stop offset="0.9597" stop-color="#a52c60"/><stop offset="0.9986" stop-color="#a82e5f"/></linearGradient><linearGradient id="g101"><stop offset="0.0014" stop-color="#bf3952"/><stop offset="0.0208" stop-color="#bd3853"/><stop offset="0.0847" stop-color="#982766"/><stop offset="0.0986" stop-color="#a92e5e"/><stop offset="0.1042" stop-color="#c83f4b"/><stop offset="0.1097" stop-color="#e8602d"/><stop offset="0.1125" stop-color="#ea632a"/><stop offset="0.1236" stop-color="#d04545"/><stop offset="0.1569" stop-color="#d34743"/><stop offset="0.1625" stop-color="#da4e3c"/><stop offset="0.1708" stop-color="#f1731d"/><stop offset="0.1764" stop-color="#e75e2e"/><stop offset="0.1847" stop-color="#c13a50"/><stop offset="0.2042" stop-color="#a92e5e"/><stop offset="0.2153" stop-color="#c03a51"/><stop offset="0.2181" stop-color="#bc3754"/><stop offset="0.2236" stop-color="#8d2369"/><stop offset="0.2292" stop-color="#64156e"/><stop offset="0.2347" stop-color="#520e6d"/><stop offset="0.2458" stop-color="#4a0c6b"/><stop offset="0.2625" stop-color="#540f6d"/><stop offset="0.2764" stop-color="#a32c61"/><stop offset="0.2875" stop-color="#801f6c"/><stop offset="0.2931" stop-color="#87216b"/><stop offset="0.3042" stop-color="#a92e5e"/><stop offset="0.3125" stop-color="#cb4149"/><stop offset="0.3181" stop-color="#eb6429"/><stop offset="0.3236" stop-color="#fa9008"/><stop offset="0.3264" stop-color="#fa9008"/><stop offset="0.3347" stop-color="#e9612b"/><stop offset="0.3403" stop-color="#e25734"/><stop offset="0.4181" stop-color="#e15635"/><stop offset="0.4264" stop-color="#e8602d"/><stop offset="0.4347" stop-color="#fa9207"/><stop offset="0.4375" stop-color="#fb9906"/><stop offset="0.4403" stop-color="#fa9008"/><stop offset="0.4458" stop-color="#ed6925"/><stop offset="0.4514" stop-color="#e35933"/><stop offset="0.4958" stop-color="#d44842"/><stop offset="0.5347" stop-color="#8f2469"/><stop offset="0.5542" stop-color="#87216b"/><stop offset="0.5792" stop-color="#8c2369"/><stop offset="0.6014" stop-color="#b63458"/><stop offset="0.6069" stop-color="#cb4149"/><stop offset="0.6125" stop-color="#eb6429"/><stop offset="0.6153" stop-color="#f2741c"/><stop offset="0.6181" stop-color="#f3761b"/><stop offset="0.6264" stop-color="#d84c3e"/><stop offset="0.6319" stop-color="#ce4347"/><stop offset="0.6986" stop-color="#d04545"/><stop offset="0.7458" stop-color="#a52c60"/><stop offset="0.8431" stop-color="#9d2964"/><stop offset="0.8486" stop-color="#a62d60"/><stop offset="0.8597" stop-color="#d94d3d"/><stop offset="0.8625" stop-color="#d94d3d"/><stop offset="0.8764" stop-color="#a52c60"/><stop offset="0.9236" stop-color="#a32c61"/><stop offset="0.9319" stop-color="#b0315b"/><stop offset="0.9431" stop-color="#dd513a"/><stop offset="0.9542" stop-color="#b0315b"/><stop offset="0.9597" stop-color="#a52c60"/><stop offset="0.9986" stop-color="#a32c61"/></linearGradient><linearGradient id="g102"><stop offset="0.0014" stop-color="#bf3952"/><stop offset="0.0319" stop-color="#b73557"/><stop offset="0.0653" stop-color="#932667"/><stop offset="0.0875" stop-color="#8d2369"/><stop offset="0.0986" stop-color="#982766"/><stop offset="0.1042" stop-color="#b3325a"/><stop offset="0.1097" stop-color="#d94d3d"/><stop offset="0.1125" stop-color="#e15635"/><stop offset="0.1236" stop-color="#c73e4c"/><stop offset="0.1597" stop-color="#d94d3d"/><stop offset="0.1708" stop-color="#f57b17"/><stop offset="0.1736" stop-color="#f47918"/><stop offset="0.1819" stop-color="#d44842"/><stop offset="0.1875" stop-color="#c43c4e"/><stop offset="0.2069" stop-color="#b73557"/><stop offset="0.2181" stop-color="#d84c3e"/><stop offset="0.2208" stop-color="#ce4347"/><stop offset="0.2264" stop-color="#a22b62"/><stop offset="0.2319" stop-color="#85216b"/><stop offset="0.2431" stop-color="#741a6e"/><stop offset="0.2597" stop-color="#6d186e"/><stop offset="0.2653" stop-color="#751b6e"/><stop offset="0.2764" stop-color="#a92e5e"/><stop offset="0.2875" stop-color="#771c6d"/><stop offset="0.2958" stop-color="#7d1e6d"/><stop offset="0.3097" stop-color="#a52c60"/><stop offset="0.3153" stop-color="#bf3952"/><stop offset="0.3208" stop-color="#e55c30"/><stop offset="0.3264" stop-color="#f67e14"/><stop offset="0.3347" stop-color="#e65d2f"/><stop offset="0.3403" stop-color="#df5337"/><stop offset="0.4208" stop-color="#df5337"/><stop offset="0.4292" stop-color="#e55c30"/><stop offset="0.4403" stop-color="#fb9606"/><stop offset="0.4431" stop-color="#fa9008"/><stop offset="0.4514" stop-color="#e65d2f"/><stop offset="0.4569" stop-color="#e05536"/><stop offset="0.4986" stop-color="#d04545"/><stop offset="0.5208" stop-color="#b3325a"/><stop offset="0.5431" stop-color="#85216b"/><stop offset="0.5681" stop-color="#781c6d"/><stop offset="0.5875" stop-color="#7c1d6d"/><stop offset="0.5986" stop-color="#8a226a"/><stop offset="0.6069" stop-color="#a92e5e"/><stop offset="0.6125" stop-color="#d44842"/><stop offset="0.6181" stop-color="#ea632a"/><stop offset="0.6292" stop-color="#cf4446"/><stop offset="0.7097" stop-color="#ce4347"/><stop offset="0.7431" stop-color="#a52c60"/><stop offset="0.7625" stop-color="#9d2964"/><stop offset="0.8431" stop-color="#9f2a63"/><stop offset="0.8486" stop-color="#a62d60"/><stop offset="0.8597" stop-color="#d84c3e"/><stop offset="0.8625" stop-color="#db503b"/><stop offset="0.8736" stop-color="#ad305d"/><stop offset="0.8792" stop-color="#a32c61"/><stop offset="0.9264" stop-color="#a52c60"/><stop offset="0.9319" stop-color="#ae305c"/><stop offset="0.9431" stop-color="#db503b"/><stop offset="0.9597" stop-color="#a52c60"/><stop offset="0.9986" stop-color="#a32c61"/></linearGradient><linearGradient id="g103"><stop offset="0.0014" stop-color="#c33b4f"/><stop offset="0.0319" stop-color="#bc3754"/><stop offset="0.0708" stop-color="#922568"/><stop offset="0.0931" stop-color="#8f2469"/><stop offset="0.1014" stop-color="#9b2964"/><stop offset="0.1125" stop-color="#db503b"/><stop offset="0.1153" stop-color="#de5238"/><stop offset="0.1264" stop-color="#bd3853"/><stop offset="0.1569" stop-color="#d44842"/><stop offset="0.1625" stop-color="#dd513a"/><stop offset="0.1708" stop-color="#f67e14"/><stop offset="0.1736" stop-color="#f78212"/><stop offset="0.1819" stop-color="#de5238"/><stop offset="0.1875" stop-color="#cf4446"/><stop offset="0.2069" stop-color="#c63d4d"/><stop offset="0.2181" stop-color="#e65d2f"/><stop offset="0.2208" stop-color="#e15635"/><stop offset="0.2264" stop-color="#c03a51"/><stop offset="0.2319" stop-color="#a62d60"/><stop offset="0.2486" stop-color="#972766"/><stop offset="0.2653" stop-color="#982766"/><stop offset="0.2764" stop-color="#c43c4e"/><stop offset="0.2792" stop-color="#bf3952"/><stop offset="0.2875" stop-color="#87216b"/><stop offset="0.2958" stop-color="#781c6d"/><stop offset="0.3042" stop-color="#84206b"/><stop offset="0.3153" stop-color="#ad305d"/><stop offset="0.3236" stop-color="#e8602d"/><stop offset="0.3264" stop-color="#f1711f"/><stop offset="0.3292" stop-color="#f1731d"/><stop offset="0.3403" stop-color="#da4e3c"/><stop offset="0.4264" stop-color="#de5238"/><stop offset="0.4347" stop-color="#e9612b"/><stop offset="0.4431" stop-color="#fa9207"/><stop offset="0.4458" stop-color="#f98e09"/><stop offset="0.4542" stop-color="#e65d2f"/><stop offset="0.4597" stop-color="#df5337"/><stop offset="0.4875" stop-color="#d54a41"/><stop offset="0.5292" stop-color="#b1325a"/><stop offset="0.5431" stop-color="#9f2a63"/><stop offset="0.5569" stop-color="#7d1e6d"/><stop offset="0.5736" stop-color="#6f196e"/><stop offset="0.6014" stop-color="#82206c"/><stop offset="0.6097" stop-color="#a92e5e"/><stop offset="0.6153" stop-color="#d54a41"/><stop offset="0.6181" stop-color="#de5238"/><stop offset="0.6292" stop-color="#c33b4f"/><stop offset="0.6569" stop-color="#d04545"/><stop offset="0.7153" stop-color="#cf4446"/><stop offset="0.7681" stop-color="#a32c61"/><stop offset="0.8458" stop-color="#a52c60"/><stop offset="0.8514" stop-color="#ae305c"/><stop offset="0.8625" stop-color="#dd513a"/><stop offset="0.8792" stop-color="#a62d60"/><stop offset="0.9236" stop-color="#a52c60"/><stop offset="0.9319" stop-color="#ae305c"/><stop offset="0.9431" stop-color="#dd513a"/><stop offset="0.9458" stop-color="#db503b"/><stop offset="0.9569" stop-color="#ad305d"/><stop offset="0.9625" stop-color="#a52c60"/><stop offset="0.9986" stop-color="#a52c60"/></linearGradient><linearGradient id="g104"><stop offset="0.0014" stop-color="#cb4149"/><stop offset="0.0403" stop-color="#c43c4e"/><stop offset="0.0736" stop-color="#9b2964"/><stop offset="0.0958" stop-color="#952667"/><stop offset="0.1042" stop-color="#a22b62"/><stop offset="0.1125" stop-color="#d54a41"/><stop offset="0.1153" stop-color="#dd513a"/><stop offset="0.1292" stop-color="#ba3655"/><stop offset="0.1597" stop-color="#d34743"/><stop offset="0.1736" stop-color="#f68013"/><stop offset="0.1847" stop-color="#d74b3f"/><stop offset="0.2042" stop-color="#cf4446"/><stop offset="0.2097" stop-color="#d84c3e"/><stop offset="0.2181" stop-color="#f06f20"/><stop offset="0.2236" stop-color="#e45a31"/><stop offset="0.2319" stop-color="#b93556"/><stop offset="0.2458" stop-color="#a92e5e"/><stop offset="0.2653" stop-color="#ad305d"/><stop offset="0.2764" stop-color="#db503b"/><stop offset="0.2792" stop-color="#d94d3d"/><stop offset="0.2875" stop-color="#a32c61"/><stop offset="0.2931" stop-color="#8c2369"/><stop offset="0.3069" stop-color="#7c1d6d"/><stop offset="0.3125" stop-color="#87216b"/><stop offset="0.3181" stop-color="#a52c60"/><stop offset="0.3236" stop-color="#d44842"/><stop offset="0.3292" stop-color="#e9612b"/><stop offset="0.3403" stop-color="#d54a41"/><stop offset="0.4292" stop-color="#dd513a"/><stop offset="0.4375" stop-color="#e65d2f"/><stop offset="0.4458" stop-color="#fa9008"/><stop offset="0.4486" stop-color="#fa9008"/><stop offset="0.4569" stop-color="#e65d2f"/><stop offset="0.4625" stop-color="#de5238"/><stop offset="0.4931" stop-color="#d74b3f"/><stop offset="0.5181" stop-color="#b73557"/><stop offset="0.5486" stop-color="#a92e5e"/><stop offset="0.5597" stop-color="#9b2964"/><stop offset="0.5764" stop-color="#741a6e"/><stop offset="0.5903" stop-color="#6a176e"/><stop offset="0.6042" stop-color="#721a6e"/><stop offset="0.6097" stop-color="#8f2469"/><stop offset="0.6153" stop-color="#bf3952"/><stop offset="0.6208" stop-color="#ce4347"/><stop offset="0.6292" stop-color="#b73557"/><stop offset="0.6569" stop-color="#cf4446"/><stop offset="0.7236" stop-color="#d04545"/><stop offset="0.7681" stop-color="#ad305d"/><stop offset="0.8458" stop-color="#a92e5e"/><stop offset="0.8542" stop-color="#ba3655"/><stop offset="0.8597" stop-color="#d74b3f"/><stop offset="0.8653" stop-color="#df5337"/><stop offset="0.8764" stop-color="#b0315b"/><stop offset="0.8819" stop-color="#a82e5f"/><stop offset="0.9264" stop-color="#a82e5f"/><stop offset="0.9319" stop-color="#b0315b"/><stop offset="0.9403" stop-color="#d74b3f"/><stop offset="0.9458" stop-color="#df5337"/><stop offset="0.9569" stop-color="#b0315b"/><stop offset="0.9625" stop-color="#a82e5f"/><stop offset="0.9986" stop-color="#a82e5f"/></linearGradient><filter id="tex" x="0" y="0" width="1" height="1" color-interpolation-filters="sRGB"><feTurbulence type="fractalNoise" baseFrequency="0.28 0.004" numOctaves="1" seed="7"/><feColorMatrix type="matrix" values="1.6 0 0 0 -0.3  1.6 0 0 0 -0.3  1.6 0 0 0 -0.3  0 0 0 0 1"/></filter><linearGradient id="cbg" x1="0" y1="0" x2="0" y2="1"><stop offset="0.00" stop-color="#ffffff"/><stop offset="0.01" stop-color="#ffffff"/><stop offset="0.02" stop-color="#ffffff"/><stop offset="0.03" stop-color="#ffffff"/><stop offset="0.04" stop-color="#ffffff"/><stop offset="0.05" stop-color="#ffffff"/><stop offset="0.06" stop-color="#ffffff"/><stop offset="0.07" stop-color="#ffffff"/><stop offset="0.08" stop-color="#ffffff"/><stop offset="0.09" stop-color="#ffffff"/><stop offset="0.10" stop-color="#ffffff"/><stop offset="0.11" stop-color="#ffffff"/><stop offset="0.12" stop-color="#ffffff"/><stop offset="0.13" stop-color="#ffffff"/><stop offset="0.14" stop-color="#ffffff"/><stop offset="0.15" stop-color="#ffffff"/><stop offset="0.16" stop-color="#ffffff"/><stop offset="0.17" stop-color="#ffffff"/><stop offset="0.18" stop-color="#ffffff"/><stop offset="0.19" stop-color="#ffffff"/><stop offset="0.20" stop-color="#fffffc"/><stop offset="0.21" stop-color="#fffff4"/><stop offset="0.22" stop-color="#feffeb"/><stop offset="0.23" stop-color="#feffe2"/><stop offset="0.24" stop-color="#feffd9"/><stop offset="0.25" stop-color="#fdffd1"/><stop offset="0.26" stop-color="#fdffc8"/><stop offset="0.27" stop-color="#fdffbf"/><stop offset="0.28" stop-color="#fdffb8"/><stop offset="0.29" stop-color="#fdffb3"/><stop offset="0.30" stop-color="#fcffae"/><stop offset="0.31" stop-color="#fcffa9"/><stop offset="0.32" stop-color="#fcffa4"/><stop offset="0.33" stop-color="#f4f88e"/><stop offset="0.34" stop-color="#f1f179"/><stop offset="0.35" stop-color="#f2ea69"/><stop offset="0.36" stop-color="#f3e35a"/><stop offset="0.37" stop-color="#f5db4c"/><stop offset="0.38" stop-color="#f7d340"/><stop offset="0.39" stop-color="#f8cd37"/><stop offset="0.40" stop-color="#fac62d"/><stop offset="0.41" stop-color="#fbbe23"/><stop offset="0.42" stop-color="#fbb61a"/><stop offset="0.43" stop-color="#fcb014"/><stop offset="0.44" stop-color="#fca80d"/><stop offset="0.45" stop-color="#fca108"/><stop offset="0.46" stop-color="#fb9706"/><stop offset="0.47" stop-color="#f98b0b"/><stop offset="0.48" stop-color="#f68013"/><stop offset="0.49" stop-color="#f3761b"/><stop offset="0.50" stop-color="#ee6a24"/><stop offset="0.51" stop-color="#e9612b"/><stop offset="0.52" stop-color="#e25734"/><stop offset="0.53" stop-color="#db503b"/><stop offset="0.54" stop-color="#d44842"/><stop offset="0.55" stop-color="#cb4149"/><stop offset="0.56" stop-color="#c33b4f"/><stop offset="0.57" stop-color="#b93556"/><stop offset="0.58" stop-color="#b0315b"/><stop offset="0.59" stop-color="#a62d60"/><stop offset="0.60" stop-color="#9b2964"/><stop offset="0.61" stop-color="#922568"/><stop offset="0.62" stop-color="#87216b"/><stop offset="0.63" stop-color="#7d1e6d"/><stop offset="0.64" stop-color="#741a6e"/><stop offset="0.65" stop-color="#69166e"/><stop offset="0.66" stop-color="#5f136e"/><stop offset="0.67" stop-color="#550f6d"/><stop offset="0.68" stop-color="#4a0c6b"/><stop offset="0.69" stop-color="#400a67"/><stop offset="0.70" stop-color="#340a5f"/><stop offset="0.71" stop-color="#290b55"/><stop offset="0.72" stop-color="#1f0c48"/><stop offset="0.73" stop-color="#150b37"/><stop offset="0.74" stop-color="#0d0829"/><stop offset="0.75" stop-color="#060419"/><stop offset="0.76" stop-color="#02020c"/><stop offset="0.77" stop-color="#000004"/><stop offset="0.78" stop-color="#000004"/><stop offset="0.79" stop-color="#000004"/><stop offset="0.80" stop-color="#000004"/><stop offset="0.81" stop-color="#000004"/><stop offset="0.82" stop-color="#000004"/><stop offset="0.83" stop-color="#000004"/><stop offset="0.84" stop-color="#000004"/><stop offset="0.85" stop-color="#000004"/><stop offset="0.86" stop-color="#000004"/><stop offset="0.87" stop-color="#000004"/><stop offset="0.88" stop-color="#000004"/><stop offset="0.89" stop-color="#000004"/><stop offset="0.90" stop-color="#000004"/><stop offset="0.91" stop-color="#000004"/><stop offset="0.92" stop-color="#000004"/><stop offset="0.93" stop-color="#000004"/><stop offset="0.94" stop-color="#000004"/><stop offset="0.95" stop-color="#000004"/><stop offset="0.96" stop-color="#000004"/><stop offset="0.97" stop-color="#000004"/><stop offset="0.98" stop-color="#000004"/><stop offset="0.99" stop-color="#000004"/><stop offset="1.00" stop-color="#000004"/></linearGradient></defs><rect width="1004" height="893" fill="#fff"/><clipPath id="cpa"><rect x="111.9" y="39.5" width="362.6" height="375.0"/></clipPath><g clip-path="url(#cpa)"><rect x="111.9" y="37.64" width="362.6" height="15.66" fill="url(#g1)" shape-rendering="crispEdges"/><rect x="111.9" y="52.30" width="362.6" height="15.66" fill="url(#g2)" shape-rendering="crispEdges"/><rect x="111.9" y="66.96" width="362.6" height="15.66" fill="url(#g3)" shape-rendering="crispEdges"/><rect x="111.9" y="81.62" width="362.6" height="15.66" fill="url(#g4)" shape-rendering="crispEdges"/><rect x="111.9" y="96.28" width="362.6" height="15.66" fill="url(#g5)" shape-rendering="crispEdges"/><rect x="111.9" y="110.94" width="362.6" height="15.66" fill="url(#g6)" shape-rendering="crispEdges"/><rect x="111.9" y="125.60" width="362.6" height="15.66" fill="url(#g7)" shape-rendering="crispEdges"/><rect x="111.9" y="140.26" width="362.6" height="15.66" fill="url(#g8)" shape-rendering="crispEdges"/><rect x="111.9" y="154.92" width="362.6" height="15.66" fill="url(#g9)" shape-rendering="crispEdges"/><rect x="111.9" y="169.58" width="362.6" height="15.66" fill="url(#g10)" shape-rendering="crispEdges"/><rect x="111.9" y="184.24" width="362.6" height="15.66" fill="url(#g11)" shape-rendering="crispEdges"/><rect x="111.9" y="198.90" width="362.6" height="15.66" fill="url(#g12)" shape-rendering="crispEdges"/><rect x="111.9" y="213.56" width="362.6" height="15.66" fill="url(#g13)" shape-rendering="crispEdges"/><rect x="111.9" y="228.22" width="362.6" height="15.66" fill="url(#g14)" shape-rendering="crispEdges"/><rect x="111.9" y="242.88" width="362.6" height="15.66" fill="url(#g15)" shape-rendering="crispEdges"/><rect x="111.9" y="257.54" width="362.6" height="15.66" fill="url(#g16)" shape-rendering="crispEdges"/><rect x="111.9" y="272.20" width="362.6" height="15.66" fill="url(#g17)" shape-rendering="crispEdges"/><rect x="111.9" y="286.86" width="362.6" height="15.66" fill="url(#g18)" shape-rendering="crispEdges"/><rect x="111.9" y="301.52" width="362.6" height="15.66" fill="url(#g19)" shape-rendering="crispEdges"/><rect x="111.9" y="316.18" width="362.6" height="15.66" fill="url(#g20)" shape-rendering="crispEdges"/><rect x="111.9" y="330.84" width="362.6" height="15.66" fill="url(#g21)" shape-rendering="crispEdges"/><rect x="111.9" y="345.50" width="362.6" height="15.66" fill="url(#g22)" shape-rendering="crispEdges"/><rect x="111.9" y="360.16" width="362.6" height="15.66" fill="url(#g23)" shape-rendering="crispEdges"/><rect x="111.9" y="374.82" width="362.6" height="15.66" fill="url(#g24)" shape-rendering="crispEdges"/><rect x="111.9" y="389.48" width="362.6" height="15.66" fill="url(#g25)" shape-rendering="crispEdges"/><rect x="111.9" y="404.14" width="362.6" height="15.66" fill="url(#g26)" shape-rendering="crispEdges"/></g><clipPath id="cpb"><rect x="490.8" y="39.5" width="362.6" height="375.0"/></clipPath><g clip-path="url(#cpb)"><rect x="490.8" y="37.64" width="362.6" height="15.66" fill="url(#g27)" shape-rendering="crispEdges"/><rect x="490.8" y="52.30" width="362.6" height="15.66" fill="url(#g28)" shape-rendering="crispEdges"/><rect x="490.8" y="66.96" width="362.6" height="15.66" fill="url(#g29)" shape-rendering="crispEdges"/><rect x="490.8" y="81.62" width="362.6" height="15.66" fill="url(#g30)" shape-rendering="crispEdges"/><rect x="490.8" y="96.28" width="362.6" height="15.66" fill="url(#g31)" shape-rendering="crispEdges"/><rect x="490.8" y="110.94" width="362.6" height="15.66" fill="url(#g32)" shape-rendering="crispEdges"/><rect x="490.8" y="125.60" width="362.6" height="15.66" fill="url(#g33)" shape-rendering="crispEdges"/><rect x="490.8" y="140.26" width="362.6" height="15.66" fill="url(#g34)" shape-rendering="crispEdges"/><rect x="490.8" y="154.92" width="362.6" height="15.66" fill="url(#g35)" shape-rendering="crispEdges"/><rect x="490.8" y="169.58" width="362.6" height="15.66" fill="url(#g36)" shape-rendering="crispEdges"/><rect x="490.8" y="184.24" width="362.6" height="15.66" fill="url(#g37)" shape-rendering="crispEdges"/><rect x="490.8" y="198.90" width="362.6" height="15.66" fill="url(#g38)" shape-rendering="crispEdges"/><rect x="490.8" y="213.56" width="362.6" height="15.66" fill="url(#g39)" shape-rendering="crispEdges"/><rect x="490.8" y="228.22" width="362.6" height="15.66" fill="url(#g40)" shape-rendering="crispEdges"/><rect x="490.8" y="242.88" width="362.6" height="15.66" fill="url(#g41)" shape-rendering="crispEdges"/><rect x="490.8" y="257.54" width="362.6" height="15.66" fill="url(#g42)" shape-rendering="crispEdges"/><rect x="490.8" y="272.20" width="362.6" height="15.66" fill="url(#g43)" shape-rendering="crispEdges"/><rect x="490.8" y="286.86" width="362.6" height="15.66" fill="url(#g44)" shape-rendering="crispEdges"/><rect x="490.8" y="301.52" width="362.6" height="15.66" fill="url(#g45)" shape-rendering="crispEdges"/><rect x="490.8" y="316.18" width="362.6" height="15.66" fill="url(#g46)" shape-rendering="crispEdges"/><rect x="490.8" y="330.84" width="362.6" height="15.66" fill="url(#g47)" shape-rendering="crispEdges"/><rect x="490.8" y="345.50" width="362.6" height="15.66" fill="url(#g48)" shape-rendering="crispEdges"/><rect x="490.8" y="360.16" width="362.6" height="15.66" fill="url(#g49)" shape-rendering="crispEdges"/><rect x="490.8" y="374.82" width="362.6" height="15.66" fill="url(#g50)" shape-rendering="crispEdges"/><rect x="490.8" y="389.48" width="362.6" height="15.66" fill="url(#g51)" shape-rendering="crispEdges"/><rect x="490.8" y="404.14" width="362.6" height="15.66" fill="url(#g52)" shape-rendering="crispEdges"/></g><clipPath id="cpc"><rect x="111.9" y="427.1" width="362.6" height="375.0"/></clipPath><g clip-path="url(#cpc)"><rect x="111.9" y="424.84" width="362.6" height="15.66" fill="url(#g53)" shape-rendering="crispEdges"/><rect x="111.9" y="439.50" width="362.6" height="15.66" fill="url(#g54)" shape-rendering="crispEdges"/><rect x="111.9" y="454.16" width="362.6" height="15.66" fill="url(#g55)" shape-rendering="crispEdges"/><rect x="111.9" y="468.82" width="362.6" height="15.66" fill="url(#g56)" shape-rendering="crispEdges"/><rect x="111.9" y="483.48" width="362.6" height="15.66" fill="url(#g57)" shape-rendering="crispEdges"/><rect x="111.9" y="498.14" width="362.6" height="15.66" fill="url(#g58)" shape-rendering="crispEdges"/><rect x="111.9" y="512.80" width="362.6" height="15.66" fill="url(#g59)" shape-rendering="crispEdges"/><rect x="111.9" y="527.46" width="362.6" height="15.66" fill="url(#g60)" shape-rendering="crispEdges"/><rect x="111.9" y="542.12" width="362.6" height="15.66" fill="url(#g61)" shape-rendering="crispEdges"/><rect x="111.9" y="556.78" width="362.6" height="15.66" fill="url(#g62)" shape-rendering="crispEdges"/><rect x="111.9" y="571.44" width="362.6" height="15.66" fill="url(#g63)" shape-rendering="crispEdges"/><rect x="111.9" y="586.10" width="362.6" height="15.66" fill="url(#g64)" shape-rendering="crispEdges"/><rect x="111.9" y="600.76" width="362.6" height="15.66" fill="url(#g65)" shape-rendering="crispEdges"/><rect x="111.9" y="615.42" width="362.6" height="15.66" fill="url(#g66)" shape-rendering="crispEdges"/><rect x="111.9" y="630.08" width="362.6" height="15.66" fill="url(#g67)" shape-rendering="crispEdges"/><rect x="111.9" y="644.74" width="362.6" height="15.66" fill="url(#g68)" shape-rendering="crispEdges"/><rect x="111.9" y="659.40" width="362.6" height="15.66" fill="url(#g69)" shape-rendering="crispEdges"/><rect x="111.9" y="674.06" width="362.6" height="15.66" fill="url(#g70)" shape-rendering="crispEdges"/><rect x="111.9" y="688.72" width="362.6" height="15.66" fill="url(#g71)" shape-rendering="crispEdges"/><rect x="111.9" y="703.38" width="362.6" height="15.66" fill="url(#g72)" shape-rendering="crispEdges"/><rect x="111.9" y="718.04" width="362.6" height="15.66" fill="url(#g73)" shape-rendering="crispEdges"/><rect x="111.9" y="732.70" width="362.6" height="15.66" fill="url(#g74)" shape-rendering="crispEdges"/><rect x="111.9" y="747.36" width="362.6" height="15.66" fill="url(#g75)" shape-rendering="crispEdges"/><rect x="111.9" y="762.02" width="362.6" height="15.66" fill="url(#g76)" shape-rendering="crispEdges"/><rect x="111.9" y="776.68" width="362.6" height="15.66" fill="url(#g77)" shape-rendering="crispEdges"/><rect x="111.9" y="791.34" width="362.6" height="15.66" fill="url(#g78)" shape-rendering="crispEdges"/></g><clipPath id="cpd"><rect x="490.8" y="427.1" width="362.6" height="375.0"/></clipPath><g clip-path="url(#cpd)"><rect x="490.8" y="424.84" width="362.6" height="15.66" fill="url(#g79)" shape-rendering="crispEdges"/><rect x="490.8" y="439.50" width="362.6" height="15.66" fill="url(#g80)" shape-rendering="crispEdges"/><rect x="490.8" y="454.16" width="362.6" height="15.66" fill="url(#g81)" shape-rendering="crispEdges"/><rect x="490.8" y="468.82" width="362.6" height="15.66" fill="url(#g82)" shape-rendering="crispEdges"/><rect x="490.8" y="483.48" width="362.6" height="15.66" fill="url(#g83)" shape-rendering="crispEdges"/><rect x="490.8" y="498.14" width="362.6" height="15.66" fill="url(#g84)" shape-rendering="crispEdges"/><rect x="490.8" y="512.80" width="362.6" height="15.66" fill="url(#g85)" shape-rendering="crispEdges"/><rect x="490.8" y="527.46" width="362.6" height="15.66" fill="url(#g86)" shape-rendering="crispEdges"/><rect x="490.8" y="542.12" width="362.6" height="15.66" fill="url(#g87)" shape-rendering="crispEdges"/><rect x="490.8" y="556.78" width="362.6" height="15.66" fill="url(#g88)" shape-rendering="crispEdges"/><rect x="490.8" y="571.44" width="362.6" height="15.66" fill="url(#g89)" shape-rendering="crispEdges"/><rect x="490.8" y="586.10" width="362.6" height="15.66" fill="url(#g90)" shape-rendering="crispEdges"/><rect x="490.8" y="600.76" width="362.6" height="15.66" fill="url(#g91)" shape-rendering="crispEdges"/><rect x="490.8" y="615.42" width="362.6" height="15.66" fill="url(#g92)" shape-rendering="crispEdges"/><rect x="490.8" y="630.08" width="362.6" height="15.66" fill="url(#g93)" shape-rendering="crispEdges"/><rect x="490.8" y="644.74" width="362.6" height="15.66" fill="url(#g94)" shape-rendering="crispEdges"/><rect x="490.8" y="659.40" width="362.6" height="15.66" fill="url(#g95)" shape-rendering="crispEdges"/><rect x="490.8" y="674.06" width="362.6" height="15.66" fill="url(#g96)" shape-rendering="crispEdges"/><rect x="490.8" y="688.72" width="362.6" height="15.66" fill="url(#g97)" shape-rendering="crispEdges"/><rect x="490.8" y="703.38" width="362.6" height="15.66" fill="url(#g98)" shape-rendering="crispEdges"/><rect x="490.8" y="718.04" width="362.6" height="15.66" fill="url(#g99)" shape-rendering="crispEdges"/><rect x="490.8" y="732.70" width="362.6" height="15.66" fill="url(#g100)" shape-rendering="crispEdges"/><rect x="490.8" y="747.36" width="362.6" height="15.66" fill="url(#g101)" shape-rendering="crispEdges"/><rect x="490.8" y="762.02" width="362.6" height="15.66" fill="url(#g102)" shape-rendering="crispEdges"/><rect x="490.8" y="776.68" width="362.6" height="15.66" fill="url(#g103)" shape-rendering="crispEdges"/><rect x="490.8" y="791.34" width="362.6" height="15.66" fill="url(#g104)" shape-rendering="crispEdges"/></g><rect x="113.4" y="41.0" width="359.6" height="372.0" filter="url(#tex)" style="mix-blend-mode:soft-light" opacity="0.35"/><rect x="492.3" y="41.0" width="359.6" height="372.0" filter="url(#tex)" style="mix-blend-mode:soft-light" opacity="0.35"/><rect x="113.4" y="428.6" width="359.6" height="372.0" filter="url(#tex)" style="mix-blend-mode:soft-light" opacity="0.35"/><rect x="492.3" y="428.6" width="359.6" height="372.0" filter="url(#tex)" style="mix-blend-mode:soft-light" opacity="0.35"/><rect x="111.20" y="37.80" width="364.60" height="378.30" fill="none" stroke="#000" stroke-width="5.6" stroke-linejoin="round"/><rect x="489.80" y="37.80" width="364.30" height="378.30" fill="none" stroke="#000" stroke-width="5.6" stroke-linejoin="round"/><rect x="111.20" y="425.70" width="364.60" height="378.10" fill="none" stroke="#000" stroke-width="5.6" stroke-linejoin="round"/><rect x="489.80" y="425.70" width="364.30" height="378.10" fill="none" stroke="#000" stroke-width="5.6" stroke-linejoin="round"/><rect x="98.80" y="42.15" width="11.20" height="5.60" fill="#000"/><rect x="104.80" y="71.98" width="5.20" height="4.60" fill="#000"/><rect x="104.80" y="101.31" width="5.20" height="4.60" fill="#000"/><rect x="104.80" y="130.64" width="5.20" height="4.60" fill="#000"/><rect x="104.80" y="159.97" width="5.20" height="4.60" fill="#000"/><rect x="98.80" y="188.80" width="11.20" height="5.60" fill="#000"/><rect x="104.80" y="218.63" width="5.20" height="4.60" fill="#000"/><rect x="104.80" y="247.96" width="5.20" height="4.60" fill="#000"/><rect x="104.80" y="277.29" width="5.20" height="4.60" fill="#000"/><rect x="104.80" y="306.62" width="5.20" height="4.60" fill="#000"/><rect x="98.80" y="335.45" width="11.20" height="5.60" fill="#000"/><rect x="104.80" y="365.28" width="5.20" height="4.60" fill="#000"/><rect x="104.80" y="394.61" width="5.20" height="4.60" fill="#000"/><rect x="98.80" y="429.80" width="11.20" height="5.60" fill="#000"/><rect x="104.80" y="459.63" width="5.20" height="4.60" fill="#000"/><rect x="104.80" y="488.96" width="5.20" height="4.60" fill="#000"/><rect x="104.80" y="518.29" width="5.20" height="4.60" fill="#000"/><rect x="104.80" y="547.62" width="5.20" height="4.60" fill="#000"/><rect x="98.80" y="576.45" width="11.20" height="5.60" fill="#000"/><rect x="104.80" y="606.28" width="5.20" height="4.60" fill="#000"/><rect x="104.80" y="635.61" width="5.20" height="4.60" fill="#000"/><rect x="104.80" y="664.94" width="5.20" height="4.60" fill="#000"/><rect x="104.80" y="694.27" width="5.20" height="4.60" fill="#000"/><rect x="98.80" y="723.10" width="11.20" height="5.60" fill="#000"/><rect x="104.80" y="752.93" width="5.20" height="4.60" fill="#000"/><rect x="104.80" y="782.26" width="5.20" height="4.60" fill="#000"/><rect x="119.75" y="804.00" width="4.60" height="6.30" fill="#000"/><rect x="203.00" y="804.00" width="5.60" height="12.20" fill="#000"/><rect x="287.25" y="804.00" width="4.60" height="6.30" fill="#000"/><rect x="370.50" y="804.00" width="5.60" height="12.20" fill="#000"/><rect x="454.75" y="804.00" width="4.60" height="6.30" fill="#000"/><rect x="498.65" y="804.00" width="4.60" height="6.30" fill="#000"/><rect x="581.90" y="804.00" width="5.60" height="12.20" fill="#000"/><rect x="666.15" y="804.00" width="4.60" height="6.30" fill="#000"/><rect x="749.40" y="804.00" width="5.60" height="12.20" fill="#000"/><rect x="833.65" y="804.00" width="4.60" height="6.30" fill="#000"/><rect x="868.6" y="40.1" width="26.20" height="760.90" fill="url(#cbg)"/><rect x="866.00" y="37.20" width="31.30" height="766.40" fill="none" stroke="#000" stroke-width="5.6" stroke-linejoin="round"/><rect x="896.00" y="800.65" width="7.60" height="4.60" fill="#000"/><rect x="896.00" y="784.95" width="7.60" height="4.60" fill="#000"/><rect x="896.00" y="770.40" width="13.50" height="5.60" fill="#000"/><rect x="896.00" y="678.48" width="7.60" height="4.60" fill="#000"/><rect x="896.00" y="624.42" width="7.60" height="4.60" fill="#000"/><rect x="896.00" y="586.07" width="7.60" height="4.60" fill="#000"/><rect x="896.00" y="556.32" width="7.60" height="4.60" fill="#000"/><rect x="896.00" y="532.01" width="7.60" height="4.60" fill="#000"/><rect x="896.00" y="511.45" width="7.60" height="4.60" fill="#000"/><rect x="896.00" y="493.65" width="7.60" height="4.60" fill="#000"/><rect x="896.00" y="477.95" width="7.60" height="4.60" fill="#000"/><rect x="896.00" y="463.40" width="13.50" height="5.60" fill="#000"/><rect x="896.00" y="371.48" width="7.60" height="4.60" fill="#000"/><rect x="896.00" y="317.42" width="7.60" height="4.60" fill="#000"/><rect x="896.00" y="279.07" width="7.60" height="4.60" fill="#000"/><rect x="896.00" y="249.32" width="7.60" height="4.60" fill="#000"/><rect x="896.00" y="225.01" width="7.60" height="4.60" fill="#000"/><rect x="896.00" y="204.45" width="7.60" height="4.60" fill="#000"/><rect x="896.00" y="186.65" width="7.60" height="4.60" fill="#000"/><rect x="896.00" y="170.95" width="7.60" height="4.60" fill="#000"/><rect x="896.00" y="156.40" width="13.50" height="5.60" fill="#000"/><rect x="896.00" y="64.48" width="7.60" height="4.60" fill="#000"/><rect x="171.30" y="5.0" width="2.8" height="26.00" fill="#f00000" rx="1"/><polygon points="168.10,28.50 177.30,28.50 172.70,39.00" fill="#f00000"/><rect x="178.30" y="5.0" width="2.8" height="26.00" fill="#f00000" rx="1"/><polygon points="175.10,28.50 184.30,28.50 179.70,39.00" fill="#f00000"/><rect x="232.10" y="5.0" width="2.8" height="26.00" fill="#f00000" rx="1"/><polygon points="228.90,28.50 238.10,28.50 233.50,39.00" fill="#f00000"/><rect x="266.50" y="5.0" width="2.8" height="26.00" fill="#f00000" rx="1"/><polygon points="263.30,28.50 272.50,28.50 267.90,39.00" fill="#f00000"/><rect x="550.30" y="5.0" width="2.8" height="24.00" fill="#f00000" rx="1"/><polygon points="547.10,26.50 556.30,26.50 551.70,37.00" fill="#f00000"/><rect x="557.50" y="5.0" width="2.8" height="24.00" fill="#f00000" rx="1"/><polygon points="554.30,26.50 563.50,26.50 558.90,37.00" fill="#f00000"/><rect x="609.70" y="5.0" width="2.8" height="24.00" fill="#f00000" rx="1"/><polygon points="606.50,26.50 615.70,26.50 611.10,37.00" fill="#f00000"/><rect x="644.20" y="5.0" width="2.8" height="24.00" fill="#f00000" rx="1"/><polygon points="641.00,26.50 650.20,26.50 645.60,37.00" fill="#f00000"/><line x1="146.23" y1="112.56" x2="277.37" y2="398.24" stroke-linecap="round" stroke-dasharray="12.20 18.50" stroke-dashoffset="6.40" stroke="#c01018" stroke-opacity="0.5" stroke-width="4.8"/><line x1="146.23" y1="112.56" x2="277.37" y2="398.24" stroke-linecap="round" stroke-dasharray="12.20 18.50" stroke-dashoffset="6.40" stroke="#98e4f6" stroke-width="3.0"/><line x1="236.69" y1="49.98" x2="386.81" y2="397.62" stroke-linecap="round" stroke-dasharray="12.20 18.50" stroke-dashoffset="3.80" stroke="#c01018" stroke-opacity="0.5" stroke-width="4.8"/><line x1="236.69" y1="49.98" x2="386.81" y2="397.62" stroke-linecap="round" stroke-dasharray="12.20 18.50" stroke-dashoffset="3.80" stroke="#98e4f6" stroke-width="3.0"/><line x1="354.63" y1="38.66" x2="473.87" y2="295.54" stroke-linecap="round" stroke-dasharray="12.20 18.50" stroke-dashoffset="6.30" stroke="#c01018" stroke-opacity="0.5" stroke-width="4.8"/><line x1="354.63" y1="38.66" x2="473.87" y2="295.54" stroke-linecap="round" stroke-dasharray="12.20 18.50" stroke-dashoffset="6.30" stroke="#98e4f6" stroke-width="3.0"/><line x1="612.69" y1="56.58" x2="760.61" y2="403.32" stroke-linecap="round" stroke-dasharray="12.20 18.50" stroke-dashoffset="4.80" stroke="#c01018" stroke-opacity="0.5" stroke-width="4.8"/><line x1="612.69" y1="56.58" x2="760.61" y2="403.32" stroke-linecap="round" stroke-dasharray="12.20 18.50" stroke-dashoffset="4.80" stroke="#98e4f6" stroke-width="3.0"/><line x1="730.03" y1="45.46" x2="849.87" y2="302.44" stroke-linecap="round" stroke-dasharray="12.20 18.50" stroke-dashoffset="7.10" stroke="#c01018" stroke-opacity="0.5" stroke-width="4.8"/><line x1="730.03" y1="45.46" x2="849.87" y2="302.44" stroke-linecap="round" stroke-dasharray="12.20 18.50" stroke-dashoffset="7.10" stroke="#98e4f6" stroke-width="3.0"/><line x1="134.13" y1="505.76" x2="264.67" y2="790.34" stroke-linecap="round" stroke-dasharray="12.20 18.50" stroke-dashoffset="6.80" stroke="#c01018" stroke-opacity="0.5" stroke-width="4.8"/><line x1="134.13" y1="505.76" x2="264.67" y2="790.34" stroke-linecap="round" stroke-dasharray="12.20 18.50" stroke-dashoffset="6.80" stroke="#98e4f6" stroke-width="3.0"/><line x1="224.99" y1="443.88" x2="373.11" y2="789.42" stroke-linecap="round" stroke-dasharray="12.20 18.50" stroke-dashoffset="5.20" stroke="#c01018" stroke-opacity="0.5" stroke-width="4.8"/><line x1="224.99" y1="443.88" x2="373.11" y2="789.42" stroke-linecap="round" stroke-dasharray="12.20 18.50" stroke-dashoffset="5.20" stroke="#98e4f6" stroke-width="3.0"/><line x1="342.14" y1="437.46" x2="462.36" y2="693.74" stroke-linecap="round" stroke-dasharray="12.20 18.50" stroke-dashoffset="6.40" stroke="#c01018" stroke-opacity="0.5" stroke-width="4.8"/><line x1="342.14" y1="437.46" x2="462.36" y2="693.74" stroke-linecap="round" stroke-dasharray="12.20 18.50" stroke-dashoffset="6.40" stroke="#98e4f6" stroke-width="3.0"/><line x1="607.09" y1="444.58" x2="756.41" y2="791.62" stroke-linecap="round" stroke-dasharray="12.20 18.50" stroke-dashoffset="5.00" stroke="#c01018" stroke-opacity="0.5" stroke-width="4.8"/><line x1="607.09" y1="444.58" x2="756.41" y2="791.62" stroke-linecap="round" stroke-dasharray="12.20 18.50" stroke-dashoffset="5.00" stroke="#98e4f6" stroke-width="3.0"/><line x1="724.23" y1="432.96" x2="843.57" y2="690.74" stroke-linecap="round" stroke-dasharray="12.20 18.50" stroke-dashoffset="6.40" stroke="#c01018" stroke-opacity="0.5" stroke-width="4.8"/><line x1="724.23" y1="432.96" x2="843.57" y2="690.74" stroke-linecap="round" stroke-dasharray="12.20 18.50" stroke-dashoffset="6.40" stroke="#98e4f6" stroke-width="3.0"/><text x="94.5" y="56.599999999999994" font-size="37" text-anchor="end" fill="#000" font-family="Liberation Serif, Times New Roman, serif" >0.0</text><text x="94.5" y="203.26999999999998" font-size="37" text-anchor="end" fill="#000" font-family="Liberation Serif, Times New Roman, serif" >0.1</text><text x="94.5" y="349.94" font-size="37" text-anchor="end" fill="#000" font-family="Liberation Serif, Times New Roman, serif" >0.2</text><text x="94.5" y="444.3" font-size="37" text-anchor="end" fill="#000" font-family="Liberation Serif, Times New Roman, serif" >0.0</text><text x="94.5" y="590.9699999999999" font-size="37" text-anchor="end" fill="#000" font-family="Liberation Serif, Times New Roman, serif" >0.1</text><text x="94.5" y="737.6399999999999" font-size="37" text-anchor="end" fill="#000" font-family="Liberation Serif, Times New Roman, serif" >0.2</text><text x="210.3" y="844.8" font-size="37" text-anchor="middle" fill="#000" font-family="Liberation Serif, Times New Roman, serif" >900</text><text x="378.8" y="844.8" font-size="37" text-anchor="middle" fill="#000" font-family="Liberation Serif, Times New Roman, serif" >1000</text><text x="589.2" y="844.8" font-size="37" text-anchor="middle" fill="#000" font-family="Liberation Serif, Times New Roman, serif" >900</text><text x="757.7" y="844.8" font-size="37" text-anchor="middle" fill="#000" font-family="Liberation Serif, Times New Roman, serif" >1000</text><text x="914.5" y="170.8" font-size="37" text-anchor="start" fill="#000" font-family="Liberation Serif, Times New Roman, serif" >10</text><text x="914.5" y="478.0" font-size="37" text-anchor="start" fill="#000" font-family="Liberation Serif, Times New Roman, serif" >1</text><text x="913" y="785.6" font-size="37" text-anchor="start" fill="#000" font-family="Liberation Serif, Times New Roman, serif" >0.1</text><text x="496.5" y="878.4" font-size="47.7" text-anchor="middle" fill="#000" font-family="Liberation Serif, Times New Roman, serif" >Wavelength (nm)</text><text transform="translate(37.5,461.3) rotate(-90)" font-size="48.4" text-anchor="middle" font-family="Liberation Serif, Times New Roman, serif">GaAs layer thickness (μm)</text><text transform="translate(966,440.5) rotate(90)" font-size="48.1" text-anchor="middle" font-family="Liberation Serif, Times New Roman, serif">Norm. emission</text><text x="120.2" y="77.0" font-size="36.5" text-anchor="start" fill="#fff" font-family="Liberation Serif, Times New Roman, serif" >(a)</text><text x="495.0" y="75.7" font-size="36.5" text-anchor="start" fill="#fff" font-family="Liberation Serif, Times New Roman, serif" >(b)</text><text x="123.4" y="465.6" font-size="36.5" text-anchor="start" fill="#fff" font-family="Liberation Serif, Times New Roman, serif" >(c)</text><text x="497.8" y="464.6" font-size="36.5" text-anchor="start" fill="#fff" font-family="Liberation Serif, Times New Roman, serif" >(d)</text></svg></body></html>
